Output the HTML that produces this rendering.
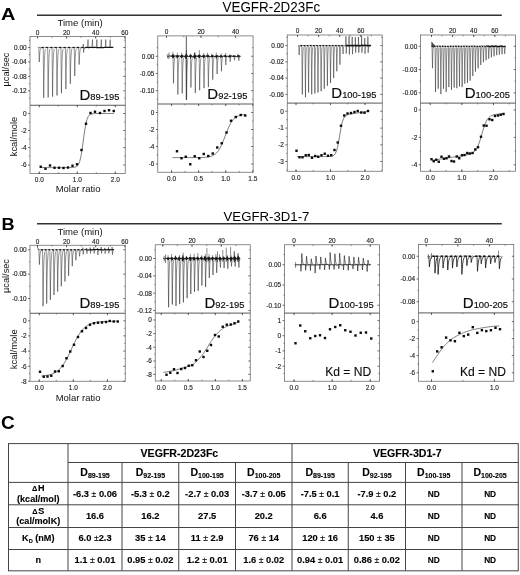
<!DOCTYPE html>
<html lang="en"><head><meta charset="utf-8"><title>ITC figure</title>
<style>html,body{margin:0;padding:0;background:#fff}svg{display:block;filter:blur(0.28px)}</style></head>
<body>
<svg width="520" height="575" viewBox="0 0 520 575" font-family='"Liberation Sans", Arial, sans-serif'>
<rect width="520" height="575" fill="#fff"/>
<text transform="translate(1 19.7) scale(1.16 1)" font-size="17.2" font-weight="bold" fill="#000">A</text>
<text transform="translate(1.5 229.5) scale(1.06 1)" font-size="17.2" font-weight="bold" fill="#000">B</text>
<text transform="translate(1 428.9) scale(1 1)" font-size="19" font-weight="bold" fill="#000">C</text>
<line x1="37" y1="15.3" x2="501.8" y2="15.3" stroke="#333" stroke-width="1.6"/>
<line x1="37" y1="223.8" x2="501.8" y2="223.8" stroke="#333" stroke-width="1.6"/>
<text x="271.3" y="12.15" font-size="13.9" text-anchor="middle" fill="#000" textLength="97.6" lengthAdjust="spacingAndGlyphs">VEGFR-2D23Fc</text>
<text x="266.5" y="220.55" font-size="13.7" text-anchor="middle" fill="#000" textLength="85.9" lengthAdjust="spacingAndGlyphs">VEGFR-3D1-7</text>
<text x="80.1" y="26.2" font-size="9.7" text-anchor="middle" fill="#111" textLength="45.2" lengthAdjust="spacingAndGlyphs">Time (min)</text>
<text x="80.1" y="235.1" font-size="9.7" text-anchor="middle" fill="#111" textLength="45.2" lengthAdjust="spacingAndGlyphs">Time (min)</text>
<text x="78.1" y="191.7" font-size="9.6" text-anchor="middle" fill="#111" textLength="44.8" lengthAdjust="spacingAndGlyphs">Molar ratio</text>
<text x="78.1" y="400.8" font-size="9.6" text-anchor="middle" fill="#111" textLength="44.8" lengthAdjust="spacingAndGlyphs">Molar ratio</text>
<text transform="translate(8.7 69.5) rotate(-90)" font-size="8.8" text-anchor="middle" textLength="33.9" lengthAdjust="spacingAndGlyphs" fill="#111">µcal/sec</text>
<text transform="translate(16.75 136.5) rotate(-90)" font-size="9.35" text-anchor="middle" fill="#111">kcal/mole</text>
<text transform="translate(8.7 276) rotate(-90)" font-size="8.8" text-anchor="middle" textLength="33.9" lengthAdjust="spacingAndGlyphs" fill="#111">µcal/sec</text>
<text transform="translate(16.75 349.3) rotate(-90)" font-size="9.5" text-anchor="middle" fill="#111">kcal/mole</text>
<g>
<polyline points="38.8,47.5 39.3,62 39.49,57.44 39.68,54.31 39.87,52.17 40.06,50.7 40.24,49.69 40.43,49 40.62,48.53 40.81,48.21 41,47.98" fill="none" stroke="#2b2b2b" stroke-width="0.5" stroke-linejoin="round"/>
<polyline points="43.23,47.5 43.73,97.9 43.92,82.04 44.11,71.18 44.3,63.73 44.49,58.62 44.67,55.12 44.86,52.72 45.05,51.08 45.24,49.95 45.43,49.18" fill="none" stroke="#2b2b2b" stroke-width="0.5" stroke-linejoin="round"/>
<polyline points="47.66,47.5 48.16,97.5 48.35,81.77 48.54,70.99 48.73,63.6 48.92,58.53 49.1,55.06 49.29,52.68 49.48,51.05 49.67,49.93 49.86,49.17" fill="none" stroke="#2b2b2b" stroke-width="0.5" stroke-linejoin="round"/>
<polyline points="52.09,47.5 52.59,96.6 52.78,81.15 52.97,70.56 53.16,63.31 53.35,58.33 53.53,54.93 53.72,52.59 53.91,50.99 54.1,49.89 54.29,49.14" fill="none" stroke="#2b2b2b" stroke-width="0.5" stroke-linejoin="round"/>
<polyline points="56.52,47.5 57.02,95.5 57.21,80.4 57.4,70.05 57.59,62.95 57.78,58.09 57.96,54.76 58.15,52.48 58.34,50.91 58.53,49.84 58.72,49.1" fill="none" stroke="#2b2b2b" stroke-width="0.5" stroke-linejoin="round"/>
<polyline points="60.95,47.5 61.45,93.2 61.64,78.82 61.83,68.97 62.02,62.21 62.21,57.58 62.39,54.41 62.58,52.24 62.77,50.75 62.96,49.73 63.15,49.03" fill="none" stroke="#2b2b2b" stroke-width="0.5" stroke-linejoin="round"/>
<polyline points="65.38,47.5 65.88,89 66.07,75.94 66.26,66.99 66.45,60.86 66.64,56.66 66.82,53.78 67.01,51.8 67.2,50.45 67.39,49.52 67.58,48.88" fill="none" stroke="#2b2b2b" stroke-width="0.5" stroke-linejoin="round"/>
<polyline points="69.81,47.5 70.31,83.8 70.5,72.38 70.69,64.55 70.88,59.19 71.07,55.51 71.25,52.99 71.44,51.26 71.63,50.08 71.82,49.27 72.01,48.71" fill="none" stroke="#2b2b2b" stroke-width="0.5" stroke-linejoin="round"/>
<polyline points="74.24,47.5 74.74,76 74.93,67.03 75.12,60.89 75.31,56.68 75.5,53.79 75.68,51.81 75.87,50.45 76.06,49.52 76.25,48.89 76.44,48.45" fill="none" stroke="#2b2b2b" stroke-width="0.5" stroke-linejoin="round"/>
<polyline points="78.67,47.5 79.17,64.5 79.36,59.15 79.55,55.49 79.74,52.97 79.93,51.25 80.11,50.07 80.3,49.26 80.49,48.71 80.68,48.33 80.87,48.07" fill="none" stroke="#2b2b2b" stroke-width="0.5" stroke-linejoin="round"/>
<polyline points="83.1,47.5 83.3,44 83.5,47.5 83.6,52.5 83.75,50.93 83.9,49.85 84.05,49.11 84.2,48.6 84.36,48.26 84.51,48.02 84.66,47.86 84.81,47.74 84.96,47.67" fill="none" stroke="#2b2b2b" stroke-width="0.5" stroke-linejoin="round"/>
<polyline points="87.53,47.5 88.03,39.6 88.11,42.09 88.2,43.79 88.28,44.96 88.36,45.76 88.45,46.31 88.53,46.68 88.61,46.94 88.69,47.12 88.78,47.24" fill="none" stroke="#2b2b2b" stroke-width="0.5" stroke-linejoin="round"/>
<polyline points="91.96,47.5 92.46,39.6 92.54,42.09 92.63,43.79 92.71,44.96 92.79,45.76 92.88,46.31 92.96,46.68 93.04,46.94 93.12,47.12 93.21,47.24" fill="none" stroke="#2b2b2b" stroke-width="0.5" stroke-linejoin="round"/>
<polyline points="96.39,47.5 96.89,39.6 96.97,42.09 97.06,43.79 97.14,44.96 97.22,45.76 97.31,46.31 97.39,46.68 97.47,46.94 97.55,47.12 97.64,47.24" fill="none" stroke="#2b2b2b" stroke-width="0.5" stroke-linejoin="round"/>
<polyline points="100.82,47.5 101.32,39.6 101.4,42.09 101.49,43.79 101.57,44.96 101.65,45.76 101.74,46.31 101.82,46.68 101.9,46.94 101.98,47.12 102.07,47.24" fill="none" stroke="#2b2b2b" stroke-width="0.5" stroke-linejoin="round"/>
<polyline points="105.25,47.5 105.75,39.6 105.83,42.09 105.92,43.79 106,44.96 106.08,45.76 106.17,46.31 106.25,46.68 106.33,46.94 106.41,47.12 106.5,47.24" fill="none" stroke="#2b2b2b" stroke-width="0.5" stroke-linejoin="round"/>
<polyline points="109.68,47.5 110.18,39.6 110.26,42.09 110.35,43.79 110.43,44.96 110.51,45.76 110.6,46.31 110.68,46.68 110.76,46.94 110.84,47.12 110.93,47.24" fill="none" stroke="#2b2b2b" stroke-width="0.5" stroke-linejoin="round"/>
<polyline points="37.8,47.35 38.5,47.42 39.2,47.63 39.9,47.37 40.6,47.53 41.3,47.56 42,47.45 42.7,47.52 43.4,47.33 44.1,47.32 44.8,47.38 45.5,47.57 46.2,47.47 46.9,47.43 47.6,47.53 48.3,47.48 49,47.42 49.7,47.62 50.4,47.58 51.1,47.4 51.8,47.53 52.5,47.51 53.2,47.65 53.9,47.59 54.6,47.42 55.3,47.69 56,47.35 56.7,47.47 57.4,47.6 58.1,47.36 58.8,47.5 59.5,47.32 60.2,47.57 60.9,47.61 61.6,47.53 62.3,47.65 63,47.43 63.7,47.58 64.4,47.54 65.1,47.53 65.8,47.48 66.5,47.64 67.2,47.68 67.9,47.49 68.6,47.57 69.3,47.32 70,47.58 70.7,47.56 71.4,47.7 72.1,47.63 72.8,47.41 73.5,47.45 74.2,47.57 74.9,47.31 75.6,47.48 76.3,47.37 77,47.35 77.7,47.32 78.4,47.61 79.1,47.35 79.8,47.4 80.5,47.46 81.2,47.65 81.9,47.33 82.6,47.48 83.3,47.52 84,47.65 84.7,47.63" fill="none" stroke="#222" stroke-width="0.55" stroke-linejoin="round"/>
<polyline points="84.7,47.63 85.4,47.65 86.1,47.41 86.8,47.47 87.5,47.44 88.2,47.65 88.9,47.68 89.6,47.36 90.3,47.37 91,47.39 91.7,47.39 92.4,47.49 93.1,47.54 93.8,47.41 94.5,47.3 95.2,47.47 95.9,47.45 96.6,47.53 97.3,47.68 98,47.58 98.7,47.51 99.4,47.55 100.1,47.57 100.8,47.32 101.5,47.66 102.2,47.61 102.9,47.65 103.6,47.62 104.3,47.46 105,47.46 105.7,47.34 106.4,47.55 107.1,47.32 107.8,47.33 108.5,47.38 109.2,47.36 109.9,47.44 110.6,47.32 111.3,47.3 112,47.36 112.7,47.34 113.4,47.45" fill="none" stroke="#151515" stroke-width="1.2" stroke-linejoin="round"/>
<line x1="41.43" y1="47.5" x2="43.43" y2="47.5" stroke="#111" stroke-width="1.25"/>
<line x1="45.86" y1="47.5" x2="47.86" y2="47.5" stroke="#111" stroke-width="1.25"/>
<line x1="50.29" y1="47.5" x2="52.29" y2="47.5" stroke="#111" stroke-width="1.25"/>
<line x1="54.72" y1="47.5" x2="56.72" y2="47.5" stroke="#111" stroke-width="1.25"/>
<line x1="59.15" y1="47.5" x2="61.15" y2="47.5" stroke="#111" stroke-width="1.25"/>
<line x1="63.58" y1="47.5" x2="65.58" y2="47.5" stroke="#111" stroke-width="1.25"/>
<line x1="68.01" y1="47.5" x2="70.01" y2="47.5" stroke="#111" stroke-width="1.25"/>
<line x1="72.44" y1="47.5" x2="74.44" y2="47.5" stroke="#111" stroke-width="1.25"/>
<line x1="76.87" y1="47.5" x2="78.87" y2="47.5" stroke="#111" stroke-width="1.25"/>
<line x1="81.3" y1="47.5" x2="83.3" y2="47.5" stroke="#111" stroke-width="1.25"/>
<polyline points="40.5,167.6 41.73,167.6 42.95,167.6 44.17,167.6 45.4,167.6 46.62,167.6 47.85,167.6 49.08,167.6 50.3,167.6 51.52,167.6 52.75,167.6 53.98,167.6 55.2,167.6 56.42,167.6 57.65,167.6 58.88,167.6 60.1,167.6 61.33,167.6 62.55,167.6 63.77,167.6 65,167.6 66.22,167.6 67.45,167.59 68.67,167.59 69.9,167.57 71.12,167.55 72.35,167.5 73.58,167.39 74.8,167.18 76.03,166.77 77.25,165.95 78.47,164.37 79.7,161.47 80.92,156.53 82.15,149.13 83.38,139.97 84.6,130.94 85.83,123.84 87.05,119.18 88.28,116.48 89.5,115.02 90.72,114.27 91.95,113.88 93.17,113.69 94.4,113.6 95.62,113.55 96.85,113.52 98.08,113.51 99.3,113.51 100.53,113.5 101.75,113.5 102.97,113.5 104.2,113.5 105.42,113.5 106.65,113.5 107.88,113.5 109.1,113.5 110.33,113.5 111.55,113.5 112.78,113.5 114,113.5" fill="none" stroke="#2e2e2e" stroke-width="0.62" stroke-linejoin="round"/>
<rect x="39.55" y="165.55" width="2.4" height="2.4" fill="#0a0a0a"/>
<rect x="44.3" y="167.55" width="2.4" height="2.4" fill="#0a0a0a"/>
<rect x="48.8" y="164.3" width="2.4" height="2.4" fill="#0a0a0a"/>
<rect x="53.3" y="166.55" width="2.4" height="2.4" fill="#0a0a0a"/>
<rect x="57.8" y="166.55" width="2.4" height="2.4" fill="#0a0a0a"/>
<rect x="62.3" y="166.8" width="2.4" height="2.4" fill="#0a0a0a"/>
<rect x="66.8" y="166.3" width="2.4" height="2.4" fill="#0a0a0a"/>
<rect x="71.3" y="164.55" width="2.4" height="2.4" fill="#0a0a0a"/>
<rect x="75.8" y="163.05" width="2.4" height="2.4" fill="#0a0a0a"/>
<rect x="80.3" y="148.8" width="2.4" height="2.4" fill="#0a0a0a"/>
<rect x="84.8" y="122.55" width="2.4" height="2.4" fill="#0a0a0a"/>
<rect x="89.3" y="111.8" width="2.4" height="2.4" fill="#0a0a0a"/>
<rect x="93.8" y="110.55" width="2.4" height="2.4" fill="#0a0a0a"/>
<rect x="98.8" y="111.8" width="2.4" height="2.4" fill="#0a0a0a"/>
<rect x="103.3" y="109.8" width="2.4" height="2.4" fill="#0a0a0a"/>
<rect x="107.8" y="109.05" width="2.4" height="2.4" fill="#0a0a0a"/>
<rect x="112.55" y="109.8" width="2.4" height="2.4" fill="#0a0a0a"/>
<rect x="30" y="36.6" width="95.25" height="136.9" fill="none" stroke="#6c6c6c" stroke-width="0.78"/>
<line x1="30" y1="105.25" x2="125.25" y2="105.25" stroke="#505050" stroke-width="0.95"/>
<text x="37.5" y="35" font-size="6.4" text-anchor="middle" fill="#1c1c1c" textLength="3.6" lengthAdjust="spacingAndGlyphs" stroke="#1c1c1c" stroke-width="0.13">0</text>
<line x1="37.5" y1="36.6" x2="37.5" y2="38.6" stroke="#444" stroke-width="0.8"/>
<text x="66.6" y="35" font-size="6.4" text-anchor="middle" fill="#1c1c1c" textLength="7.2" lengthAdjust="spacingAndGlyphs" stroke="#1c1c1c" stroke-width="0.13">20</text>
<line x1="66.6" y1="36.6" x2="66.6" y2="38.6" stroke="#444" stroke-width="0.8"/>
<text x="95.7" y="35" font-size="6.4" text-anchor="middle" fill="#1c1c1c" textLength="7.2" lengthAdjust="spacingAndGlyphs" stroke="#1c1c1c" stroke-width="0.13">40</text>
<line x1="95.7" y1="36.6" x2="95.7" y2="38.6" stroke="#444" stroke-width="0.8"/>
<text x="124.8" y="35" font-size="6.4" text-anchor="middle" fill="#1c1c1c" textLength="7.2" lengthAdjust="spacingAndGlyphs" stroke="#1c1c1c" stroke-width="0.13">60</text>
<line x1="124.8" y1="36.6" x2="124.8" y2="38.6" stroke="#444" stroke-width="0.8"/>
<line x1="37.5" y1="36.6" x2="37.5" y2="37.9" stroke="#444" stroke-width="0.6"/>
<line x1="52.05" y1="36.6" x2="52.05" y2="37.9" stroke="#444" stroke-width="0.6"/>
<line x1="66.6" y1="36.6" x2="66.6" y2="37.9" stroke="#444" stroke-width="0.6"/>
<line x1="81.15" y1="36.6" x2="81.15" y2="37.9" stroke="#444" stroke-width="0.6"/>
<line x1="95.7" y1="36.6" x2="95.7" y2="37.9" stroke="#444" stroke-width="0.6"/>
<line x1="110.25" y1="36.6" x2="110.25" y2="37.9" stroke="#444" stroke-width="0.6"/>
<text x="26.7" y="49.8" font-size="6.4" text-anchor="end" fill="#1c1c1c" textLength="12.6" lengthAdjust="spacingAndGlyphs" stroke="#1c1c1c" stroke-width="0.13">0.00</text>
<line x1="28.1" y1="47.5" x2="30" y2="47.5" stroke="#444" stroke-width="0.8"/>
<line x1="123.35" y1="47.5" x2="125.25" y2="47.5" stroke="#444" stroke-width="0.8"/>
<text x="26.7" y="64.25" font-size="6.4" text-anchor="end" fill="#1c1c1c" textLength="14.75" lengthAdjust="spacingAndGlyphs" stroke="#1c1c1c" stroke-width="0.13">-0.04</text>
<line x1="28.1" y1="61.95" x2="30" y2="61.95" stroke="#444" stroke-width="0.8"/>
<line x1="123.35" y1="61.95" x2="125.25" y2="61.95" stroke="#444" stroke-width="0.8"/>
<text x="26.7" y="78.7" font-size="6.4" text-anchor="end" fill="#1c1c1c" textLength="14.75" lengthAdjust="spacingAndGlyphs" stroke="#1c1c1c" stroke-width="0.13">-0.08</text>
<line x1="28.1" y1="76.4" x2="30" y2="76.4" stroke="#444" stroke-width="0.8"/>
<line x1="123.35" y1="76.4" x2="125.25" y2="76.4" stroke="#444" stroke-width="0.8"/>
<text x="26.7" y="93.15" font-size="6.4" text-anchor="end" fill="#1c1c1c" textLength="14.75" lengthAdjust="spacingAndGlyphs" stroke="#1c1c1c" stroke-width="0.13">-0.12</text>
<line x1="28.1" y1="90.85" x2="30" y2="90.85" stroke="#444" stroke-width="0.8"/>
<line x1="123.35" y1="90.85" x2="125.25" y2="90.85" stroke="#444" stroke-width="0.8"/>
<line x1="28.9" y1="40.27" x2="30" y2="40.27" stroke="#444" stroke-width="0.6"/>
<line x1="124.15" y1="40.27" x2="125.25" y2="40.27" stroke="#444" stroke-width="0.6"/>
<line x1="28.9" y1="54.73" x2="30" y2="54.73" stroke="#444" stroke-width="0.6"/>
<line x1="124.15" y1="54.73" x2="125.25" y2="54.73" stroke="#444" stroke-width="0.6"/>
<line x1="28.9" y1="69.17" x2="30" y2="69.17" stroke="#444" stroke-width="0.6"/>
<line x1="124.15" y1="69.17" x2="125.25" y2="69.17" stroke="#444" stroke-width="0.6"/>
<line x1="28.9" y1="83.62" x2="30" y2="83.62" stroke="#444" stroke-width="0.6"/>
<line x1="124.15" y1="83.62" x2="125.25" y2="83.62" stroke="#444" stroke-width="0.6"/>
<line x1="28.9" y1="98.07" x2="30" y2="98.07" stroke="#444" stroke-width="0.6"/>
<line x1="124.15" y1="98.07" x2="125.25" y2="98.07" stroke="#444" stroke-width="0.6"/>
<text x="39.3" y="182" font-size="6.4" text-anchor="middle" fill="#1c1c1c" textLength="9" lengthAdjust="spacingAndGlyphs" stroke="#1c1c1c" stroke-width="0.13">0.0</text>
<line x1="39.3" y1="171.5" x2="39.3" y2="173.8" stroke="#444" stroke-width="0.8"/>
<line x1="39.3" y1="105.25" x2="39.3" y2="107.25" stroke="#444" stroke-width="0.8"/>
<text x="77.3" y="182" font-size="6.4" text-anchor="middle" fill="#1c1c1c" textLength="9" lengthAdjust="spacingAndGlyphs" stroke="#1c1c1c" stroke-width="0.13">1.0</text>
<line x1="77.3" y1="171.5" x2="77.3" y2="173.8" stroke="#444" stroke-width="0.8"/>
<line x1="77.3" y1="105.25" x2="77.3" y2="107.25" stroke="#444" stroke-width="0.8"/>
<text x="115.3" y="182" font-size="6.4" text-anchor="middle" fill="#1c1c1c" textLength="9" lengthAdjust="spacingAndGlyphs" stroke="#1c1c1c" stroke-width="0.13">2.0</text>
<line x1="115.3" y1="171.5" x2="115.3" y2="173.8" stroke="#444" stroke-width="0.8"/>
<line x1="115.3" y1="105.25" x2="115.3" y2="107.25" stroke="#444" stroke-width="0.8"/>
<line x1="39.3" y1="172.2" x2="39.3" y2="173.5" stroke="#444" stroke-width="0.6"/>
<line x1="39.3" y1="105.25" x2="39.3" y2="106.55" stroke="#444" stroke-width="0.6"/>
<line x1="58.3" y1="172.2" x2="58.3" y2="173.5" stroke="#444" stroke-width="0.6"/>
<line x1="58.3" y1="105.25" x2="58.3" y2="106.55" stroke="#444" stroke-width="0.6"/>
<line x1="77.3" y1="172.2" x2="77.3" y2="173.5" stroke="#444" stroke-width="0.6"/>
<line x1="77.3" y1="105.25" x2="77.3" y2="106.55" stroke="#444" stroke-width="0.6"/>
<line x1="96.3" y1="172.2" x2="96.3" y2="173.5" stroke="#444" stroke-width="0.6"/>
<line x1="96.3" y1="105.25" x2="96.3" y2="106.55" stroke="#444" stroke-width="0.6"/>
<line x1="115.3" y1="172.2" x2="115.3" y2="173.5" stroke="#444" stroke-width="0.6"/>
<line x1="115.3" y1="105.25" x2="115.3" y2="106.55" stroke="#444" stroke-width="0.6"/>
<text x="26.7" y="115.8" font-size="6.4" text-anchor="end" fill="#1c1c1c" textLength="3.6" lengthAdjust="spacingAndGlyphs" stroke="#1c1c1c" stroke-width="0.13">0</text>
<line x1="28.1" y1="113.5" x2="30" y2="113.5" stroke="#444" stroke-width="0.8"/>
<line x1="123.35" y1="113.5" x2="125.25" y2="113.5" stroke="#444" stroke-width="0.8"/>
<text x="26.7" y="132.8" font-size="6.4" text-anchor="end" fill="#1c1c1c" textLength="5.75" lengthAdjust="spacingAndGlyphs" stroke="#1c1c1c" stroke-width="0.13">-2</text>
<line x1="28.1" y1="130.5" x2="30" y2="130.5" stroke="#444" stroke-width="0.8"/>
<line x1="123.35" y1="130.5" x2="125.25" y2="130.5" stroke="#444" stroke-width="0.8"/>
<text x="26.7" y="149.9" font-size="6.4" text-anchor="end" fill="#1c1c1c" textLength="5.75" lengthAdjust="spacingAndGlyphs" stroke="#1c1c1c" stroke-width="0.13">-4</text>
<line x1="28.1" y1="147.6" x2="30" y2="147.6" stroke="#444" stroke-width="0.8"/>
<line x1="123.35" y1="147.6" x2="125.25" y2="147.6" stroke="#444" stroke-width="0.8"/>
<text x="26.7" y="167.3" font-size="6.4" text-anchor="end" fill="#1c1c1c" textLength="5.75" lengthAdjust="spacingAndGlyphs" stroke="#1c1c1c" stroke-width="0.13">-6</text>
<line x1="28.1" y1="165" x2="30" y2="165" stroke="#444" stroke-width="0.8"/>
<line x1="123.35" y1="165" x2="125.25" y2="165" stroke="#444" stroke-width="0.8"/>
<line x1="28.9" y1="122" x2="30" y2="122" stroke="#444" stroke-width="0.6"/>
<line x1="124.15" y1="122" x2="125.25" y2="122" stroke="#444" stroke-width="0.6"/>
<line x1="28.9" y1="139" x2="30" y2="139" stroke="#444" stroke-width="0.6"/>
<line x1="124.15" y1="139" x2="125.25" y2="139" stroke="#444" stroke-width="0.6"/>
<line x1="28.9" y1="156" x2="30" y2="156" stroke="#444" stroke-width="0.6"/>
<line x1="124.15" y1="156" x2="125.25" y2="156" stroke="#444" stroke-width="0.6"/>
<text x="119.55" y="100.15" text-anchor="end" fill="#0c0c0c" stroke="#0c0c0c" stroke-width="0.15"><tspan font-size="15">D</tspan><tspan font-size="9.4">89-195</tspan></text>
</g>
<g>
<polyline points="173,56.25 173.5,83.3 173.67,74.79 173.84,68.96 174.01,64.96 174.18,62.22 174.35,60.34 174.52,59.05 174.69,58.17 174.86,57.57 175.03,57.15" fill="none" stroke="#2b2b2b" stroke-width="0.5" stroke-linejoin="round"/>
<polyline points="177.36,56.25 177.86,94.5 178.03,82.47 178.2,74.22 178.37,68.56 178.54,64.69 178.71,62.03 178.88,60.21 179.05,58.97 179.22,58.11 179.39,57.53" fill="none" stroke="#2b2b2b" stroke-width="0.5" stroke-linejoin="round"/>
<polyline points="181.72,56.25 182.22,93.5 182.39,81.78 182.56,73.75 182.73,68.24 182.9,64.47 183.07,61.88 183.24,60.11 183.41,58.9 183.58,58.06 183.75,57.49" fill="none" stroke="#2b2b2b" stroke-width="0.5" stroke-linejoin="round"/>
<polyline points="186.08,56.25 186.58,99.8 186.75,86.1 186.92,76.71 187.09,70.27 187.26,65.86 187.43,62.84 187.6,60.76 187.77,59.34 187.94,58.37 188.11,57.7" fill="none" stroke="#2b2b2b" stroke-width="0.5" stroke-linejoin="round"/>
<polyline points="190.44,56.25 190.94,87.5 191.11,77.67 191.28,70.93 191.45,66.31 191.62,63.15 191.79,60.98 191.96,59.49 192.13,58.47 192.3,57.77 192.47,57.29" fill="none" stroke="#2b2b2b" stroke-width="0.5" stroke-linejoin="round"/>
<polyline points="194.8,56.25 195.3,93 195.47,81.44 195.64,73.51 195.81,68.08 195.98,64.36 196.15,61.81 196.32,60.06 196.49,58.86 196.66,58.04 196.83,57.48" fill="none" stroke="#2b2b2b" stroke-width="0.5" stroke-linejoin="round"/>
<polyline points="199.16,56.25 199.66,90.3 199.83,79.59 200,72.24 200.17,67.21 200.34,63.76 200.51,61.4 200.68,59.78 200.85,58.67 201.02,57.91 201.19,57.39" fill="none" stroke="#2b2b2b" stroke-width="0.5" stroke-linejoin="round"/>
<polyline points="203.52,56.25 204.02,88.2 204.19,78.15 204.36,71.26 204.53,66.54 204.7,63.3 204.87,61.08 205.04,59.56 205.21,58.52 205.38,57.81 205.55,57.32" fill="none" stroke="#2b2b2b" stroke-width="0.5" stroke-linejoin="round"/>
<polyline points="207.88,56.25 208.38,87.1 208.55,77.39 208.72,70.74 208.89,66.18 209.06,63.06 209.23,60.92 209.4,59.45 209.57,58.44 209.74,57.75 209.91,57.28" fill="none" stroke="#2b2b2b" stroke-width="0.5" stroke-linejoin="round"/>
<polyline points="212.24,56.25 212.74,79.7 212.91,72.32 213.08,67.27 213.25,63.8 213.42,61.42 213.59,59.8 213.76,58.68 213.93,57.92 214.1,57.39 214.27,57.03" fill="none" stroke="#2b2b2b" stroke-width="0.5" stroke-linejoin="round"/>
<polyline points="216.6,56.25 217.1,74 217.27,68.42 217.44,64.59 217.61,61.96 217.78,60.17 217.95,58.93 218.12,58.09 218.29,57.51 218.46,57.11 218.63,56.84" fill="none" stroke="#2b2b2b" stroke-width="0.5" stroke-linejoin="round"/>
<polyline points="220.96,56.25 221.46,71.3 221.63,66.57 221.8,63.32 221.97,61.1 222.14,59.57 222.31,58.53 222.48,57.81 222.65,57.32 222.82,56.98 222.99,56.75" fill="none" stroke="#2b2b2b" stroke-width="0.5" stroke-linejoin="round"/>
<polyline points="225.32,56.25 225.82,64.9 225.99,62.18 226.16,60.31 226.33,59.03 226.5,58.16 226.67,57.56 226.84,57.15 227.01,56.86 227.18,56.67 227.35,56.54" fill="none" stroke="#2b2b2b" stroke-width="0.5" stroke-linejoin="round"/>
<polyline points="229.68,56.25 230.18,61.7 230.35,59.99 230.52,58.81 230.69,58 230.86,57.45 231.03,57.07 231.2,56.81 231.37,56.64 231.54,56.52 231.71,56.43" fill="none" stroke="#2b2b2b" stroke-width="0.5" stroke-linejoin="round"/>
<polyline points="234.04,56.25 234.54,60.2 234.71,58.96 234.88,58.11 235.05,57.52 235.22,57.12 235.39,56.85 235.56,56.66 235.73,56.53 235.9,56.44 236.07,56.38" fill="none" stroke="#2b2b2b" stroke-width="0.5" stroke-linejoin="round"/>
<polyline points="238.4,56.25 238.9,60.7 239.07,59.3 239.24,58.34 239.41,57.68 239.58,57.23 239.75,56.92 239.92,56.71 240.09,56.57 240.26,56.47 240.43,56.4" fill="none" stroke="#2b2b2b" stroke-width="0.5" stroke-linejoin="round"/>
<polyline points="167,55.82 167.7,56.59 168.4,56.35 169.1,55.93 169.8,56.03 170.5,56.11 171.2,56.13 171.9,55.91 172.6,56.56 173.3,56.69 174,56.22 174.7,56.24 175.4,55.88 176.1,55.89 176.8,56.11 177.5,56.04 178.2,56.55 178.9,55.95 179.6,55.82 180.3,56.66 181,56.28 181.7,55.93 182.4,56.29 183.1,55.82 183.8,56.28 184.5,56.68 185.2,56.58 185.9,56.43 186.6,56.04 187.3,56.13 188,55.95 188.7,56.49 189.4,56.28 190.1,56.5 190.8,56.1 191.5,56 192.2,56.53 192.9,56.69 193.6,56.57 194.3,56.53 195,56.54 195.7,56.47 196.4,56 197.1,56.27 197.8,56.12 198.5,55.83 199.2,55.83 199.9,56.05 200.6,56.03 201.3,56.42 202,56.66 202.7,56.2 203.4,56.64 204.1,56.69 204.8,56.66 205.5,56.13 206.2,56 206.9,56 207.6,55.98 208.3,55.98 209,56.36 209.7,56.61 210.4,56.56 211.1,56.23 211.8,56.39 212.5,56.52 213.2,55.88 213.9,56.39 214.6,56.62 215.3,56.5 216,56.48 216.7,56.23 217.4,55.96 218.1,56.51 218.8,56.1 219.5,56.52 220.2,56.67 220.9,56.16 221.6,56.16 222.3,56.65 223,56.45 223.7,55.95 224.4,55.91 225.1,55.94 225.8,56.61 226.5,56.53 227.2,55.93 227.9,56.54 228.6,56.68 229.3,56.39 230,56.12 230.7,56.29 231.4,55.92 232.1,55.81 232.8,56.67 233.5,56.38 234.2,56.27 234.9,56.64 235.6,56.19 236.3,56.58 237,56.54 237.7,55.99 238.4,56.03 239.1,56.06 239.8,56.02 240.5,56.33" fill="none" stroke="#151515" stroke-width="1" stroke-linejoin="round"/>
<polyline points="171.5,56.11 171.88,56.76 172.25,54.78 172.62,57.67 173,54.45 173.38,57.9 173.75,54.78 174.12,56.89 174.5,56.06" fill="none" stroke="#111" stroke-width="0.7" stroke-linejoin="round"/>
<line x1="172.95" y1="51.84" x2="172.95" y2="58.61" stroke="#1a1a1a" stroke-width="0.5"/>
<polyline points="175.86,56.14 176.24,56.68 176.61,55.63 176.99,57.76 177.36,55.09 177.74,57.49 178.11,55.18 178.49,56.82 178.86,56.14" fill="none" stroke="#111" stroke-width="0.7" stroke-linejoin="round"/>
<line x1="177.33" y1="52.65" x2="177.33" y2="58.6" stroke="#1a1a1a" stroke-width="0.5"/>
<polyline points="180.22,56.12 180.59,56.72 180.97,55.43 181.34,57.79 181.72,54.7 182.09,57.61 182.47,55.12 182.84,56.97 183.22,56.13" fill="none" stroke="#111" stroke-width="0.7" stroke-linejoin="round"/>
<line x1="181.77" y1="52.64" x2="181.77" y2="58.2" stroke="#1a1a1a" stroke-width="0.5"/>
<polyline points="184.58,56.08 184.96,57.06 185.33,54.91 185.71,58.63 186.08,53.79 186.46,58.55 186.83,54.49 187.21,56.92 187.58,56.07" fill="none" stroke="#111" stroke-width="0.7" stroke-linejoin="round"/>
<line x1="186.43" y1="49.96" x2="186.43" y2="58.04" stroke="#1a1a1a" stroke-width="0.5"/>
<polyline points="188.94,56.14 189.31,56.63 189.69,55.5 190.06,57.13 190.44,54.64 190.81,57.71 191.19,55.1 191.56,56.66 191.94,56.12" fill="none" stroke="#111" stroke-width="0.7" stroke-linejoin="round"/>
<line x1="190.53" y1="53.73" x2="190.53" y2="58.71" stroke="#1a1a1a" stroke-width="0.5"/>
<polyline points="193.3,56.1 193.68,57.35 194.05,54.9 194.43,58.19 194.8,53.19 195.18,58.64 195.55,55.13 195.93,57.06 196.3,56.06" fill="none" stroke="#111" stroke-width="0.7" stroke-linejoin="round"/>
<line x1="194.61" y1="52.04" x2="194.61" y2="58.64" stroke="#1a1a1a" stroke-width="0.5"/>
<polyline points="197.66,56.14 198.03,57 198.41,55.07 198.78,57.38 199.16,54.51 199.53,58.05 199.91,55.01 200.28,56.76 200.66,56.04" fill="none" stroke="#111" stroke-width="0.7" stroke-linejoin="round"/>
<line x1="199.37" y1="50.14" x2="199.37" y2="57.79" stroke="#1a1a1a" stroke-width="0.5"/>
<polyline points="202.02,56.17 202.4,56.87 202.77,55.49 203.15,57.16 203.52,54.9 203.9,57.79 204.27,55.17 204.65,56.69 205.02,56.16" fill="none" stroke="#111" stroke-width="0.7" stroke-linejoin="round"/>
<line x1="203.85" y1="52.76" x2="203.85" y2="58.36" stroke="#1a1a1a" stroke-width="0.5"/>
<polyline points="206.38,56.18 206.75,56.74 207.13,55.54 207.5,56.97 207.88,54.71 208.25,57.35 208.63,55.35 209,56.57 209.38,56.13" fill="none" stroke="#111" stroke-width="0.7" stroke-linejoin="round"/>
<line x1="207.44" y1="52.74" x2="207.44" y2="57.68" stroke="#1a1a1a" stroke-width="0.5"/>
<polyline points="210.74,56.14 211.12,56.89 211.49,55.53 211.87,57.12 212.24,54.86 212.62,57.21 212.99,55.62 213.37,56.64 213.74,56.17" fill="none" stroke="#111" stroke-width="0.7" stroke-linejoin="round"/>
<line x1="211.92" y1="53.49" x2="211.92" y2="57.65" stroke="#1a1a1a" stroke-width="0.5"/>
<polyline points="215.1,56.13 215.47,56.86 215.85,55.43 216.22,57.52 216.6,55.12 216.97,57.43 217.35,55.54 217.72,56.96 218.1,56.11" fill="none" stroke="#111" stroke-width="0.7" stroke-linejoin="round"/>
<line x1="216.27" y1="52.44" x2="216.27" y2="59.17" stroke="#1a1a1a" stroke-width="0.5"/>
<polyline points="219.46,56.15 219.84,56.62 220.21,55.6 220.59,57.33 220.96,55.28 221.34,57.14 221.71,55.51 222.09,56.76 222.46,56.17" fill="none" stroke="#111" stroke-width="0.7" stroke-linejoin="round"/>
<line x1="221.21" y1="53.45" x2="221.21" y2="57.72" stroke="#1a1a1a" stroke-width="0.5"/>
<polyline points="223.82,56.16 224.19,56.57 224.57,55.67 224.94,56.99 225.32,54.83 225.69,57.12 226.07,55.66 226.44,56.57 226.82,56.13" fill="none" stroke="#111" stroke-width="0.7" stroke-linejoin="round"/>
<line x1="225.6" y1="53.05" x2="225.6" y2="57.47" stroke="#1a1a1a" stroke-width="0.5"/>
<polyline points="228.18,56.18 228.56,56.62 228.93,55.75 229.31,57.1 229.68,55.38 230.06,57.4 230.43,55.4 230.81,56.64 231.18,56.18" fill="none" stroke="#111" stroke-width="0.7" stroke-linejoin="round"/>
<line x1="230.05" y1="54.16" x2="230.05" y2="57.37" stroke="#1a1a1a" stroke-width="0.5"/>
<polyline points="232.54,56.19 232.92,56.54 233.29,55.74 233.67,56.8 234.04,55.44 234.42,56.71 234.79,55.82 235.17,56.47 235.54,56.19" fill="none" stroke="#111" stroke-width="0.7" stroke-linejoin="round"/>
<line x1="233.58" y1="55.01" x2="233.58" y2="57.07" stroke="#1a1a1a" stroke-width="0.5"/>
<polyline points="236.9,56.17 237.28,56.59 237.65,55.59 238.03,57.1 238.4,55.21 238.78,57.21 239.15,55.72 239.53,56.54 239.9,56.15" fill="none" stroke="#111" stroke-width="0.7" stroke-linejoin="round"/>
<line x1="238.03" y1="53.8" x2="238.03" y2="57.54" stroke="#1a1a1a" stroke-width="0.5"/>
<line x1="186.3" y1="36.2" x2="186.3" y2="99.8" stroke="#2b2b2b" stroke-width="0.8"/>
<line x1="169" y1="52.5" x2="169" y2="59" stroke="#2b2b2b" stroke-width="0.6"/>
<line x1="167.8" y1="54" x2="167.8" y2="58.5" stroke="#2b2b2b" stroke-width="0.6"/>
<polyline points="172.5,157.6 173.72,157.6 174.93,157.6 176.15,157.6 177.37,157.6 178.58,157.6 179.8,157.6 181.02,157.6 182.23,157.6 183.45,157.6 184.67,157.6 185.88,157.6 187.1,157.6 188.32,157.59 189.53,157.59 190.75,157.59 191.97,157.59 193.18,157.58 194.4,157.58 195.62,157.57 196.83,157.56 198.05,157.54 199.27,157.52 200.48,157.5 201.7,157.46 202.92,157.41 204.13,157.35 205.35,157.26 206.57,157.14 207.78,156.99 209,156.78 210.22,156.51 211.43,156.14 212.65,155.66 213.87,155.03 215.08,154.22 216.3,153.17 217.52,151.84 218.73,150.19 219.95,148.18 221.17,145.82 222.38,143.11 223.6,140.12 224.82,136.96 226.03,133.76 227.25,130.65 228.47,127.75 229.68,125.17 230.9,122.93 232.12,121.06 233.33,119.54 234.55,118.32 235.77,117.36 236.98,116.61 238.2,116.04 239.42,115.61 240.63,115.28 241.85,115.03 243.07,114.85 244.28,114.71 245.5,114.6" fill="none" stroke="#2e2e2e" stroke-width="0.62" stroke-linejoin="round"/>
<rect x="175.8" y="150.05" width="2.4" height="2.4" fill="#0a0a0a"/>
<rect x="180.3" y="157.05" width="2.4" height="2.4" fill="#0a0a0a"/>
<rect x="184.55" y="155.55" width="2.4" height="2.4" fill="#0a0a0a"/>
<rect x="189.05" y="163.05" width="2.4" height="2.4" fill="#0a0a0a"/>
<rect x="193.55" y="155.05" width="2.4" height="2.4" fill="#0a0a0a"/>
<rect x="198.05" y="157.05" width="2.4" height="2.4" fill="#0a0a0a"/>
<rect x="202.55" y="152.8" width="2.4" height="2.4" fill="#0a0a0a"/>
<rect x="207.05" y="154.8" width="2.4" height="2.4" fill="#0a0a0a"/>
<rect x="211.55" y="152.3" width="2.4" height="2.4" fill="#0a0a0a"/>
<rect x="216.05" y="146.3" width="2.4" height="2.4" fill="#0a0a0a"/>
<rect x="220.55" y="142.05" width="2.4" height="2.4" fill="#0a0a0a"/>
<rect x="225.3" y="131.3" width="2.4" height="2.4" fill="#0a0a0a"/>
<rect x="229.8" y="119.55" width="2.4" height="2.4" fill="#0a0a0a"/>
<rect x="234.55" y="115.8" width="2.4" height="2.4" fill="#0a0a0a"/>
<rect x="239.55" y="113.8" width="2.4" height="2.4" fill="#0a0a0a"/>
<rect x="244.05" y="114.3" width="2.4" height="2.4" fill="#0a0a0a"/>
<rect x="157.75" y="35.9" width="95.35" height="136.35" fill="none" stroke="#6c6c6c" stroke-width="0.78"/>
<line x1="157.75" y1="104" x2="253.1" y2="104" stroke="#505050" stroke-width="0.95"/>
<text x="166.5" y="34.3" font-size="6.4" text-anchor="middle" fill="#1c1c1c" textLength="3.6" lengthAdjust="spacingAndGlyphs" stroke="#1c1c1c" stroke-width="0.13">0</text>
<line x1="166.5" y1="35.9" x2="166.5" y2="37.9" stroke="#444" stroke-width="0.8"/>
<text x="201" y="34.3" font-size="6.4" text-anchor="middle" fill="#1c1c1c" textLength="7.2" lengthAdjust="spacingAndGlyphs" stroke="#1c1c1c" stroke-width="0.13">20</text>
<line x1="201" y1="35.9" x2="201" y2="37.9" stroke="#444" stroke-width="0.8"/>
<text x="235.5" y="34.3" font-size="6.4" text-anchor="middle" fill="#1c1c1c" textLength="7.2" lengthAdjust="spacingAndGlyphs" stroke="#1c1c1c" stroke-width="0.13">40</text>
<line x1="235.5" y1="35.9" x2="235.5" y2="37.9" stroke="#444" stroke-width="0.8"/>
<line x1="166.5" y1="35.9" x2="166.5" y2="37.2" stroke="#444" stroke-width="0.6"/>
<line x1="183.75" y1="35.9" x2="183.75" y2="37.2" stroke="#444" stroke-width="0.6"/>
<line x1="201" y1="35.9" x2="201" y2="37.2" stroke="#444" stroke-width="0.6"/>
<line x1="218.25" y1="35.9" x2="218.25" y2="37.2" stroke="#444" stroke-width="0.6"/>
<line x1="235.5" y1="35.9" x2="235.5" y2="37.2" stroke="#444" stroke-width="0.6"/>
<text x="154.45" y="58.55" font-size="6.4" text-anchor="end" fill="#1c1c1c" textLength="12.6" lengthAdjust="spacingAndGlyphs" stroke="#1c1c1c" stroke-width="0.13">0.00</text>
<line x1="155.85" y1="56.25" x2="157.75" y2="56.25" stroke="#444" stroke-width="0.8"/>
<line x1="251.2" y1="56.25" x2="253.1" y2="56.25" stroke="#444" stroke-width="0.8"/>
<text x="154.45" y="75.75" font-size="6.4" text-anchor="end" fill="#1c1c1c" textLength="14.75" lengthAdjust="spacingAndGlyphs" stroke="#1c1c1c" stroke-width="0.13">-0.05</text>
<line x1="155.85" y1="73.45" x2="157.75" y2="73.45" stroke="#444" stroke-width="0.8"/>
<line x1="251.2" y1="73.45" x2="253.1" y2="73.45" stroke="#444" stroke-width="0.8"/>
<text x="154.45" y="92.95" font-size="6.4" text-anchor="end" fill="#1c1c1c" textLength="14.75" lengthAdjust="spacingAndGlyphs" stroke="#1c1c1c" stroke-width="0.13">-0.10</text>
<line x1="155.85" y1="90.65" x2="157.75" y2="90.65" stroke="#444" stroke-width="0.8"/>
<line x1="251.2" y1="90.65" x2="253.1" y2="90.65" stroke="#444" stroke-width="0.8"/>
<line x1="156.65" y1="47.65" x2="157.75" y2="47.65" stroke="#444" stroke-width="0.6"/>
<line x1="252" y1="47.65" x2="253.1" y2="47.65" stroke="#444" stroke-width="0.6"/>
<line x1="156.65" y1="64.85" x2="157.75" y2="64.85" stroke="#444" stroke-width="0.6"/>
<line x1="252" y1="64.85" x2="253.1" y2="64.85" stroke="#444" stroke-width="0.6"/>
<line x1="156.65" y1="82.05" x2="157.75" y2="82.05" stroke="#444" stroke-width="0.6"/>
<line x1="252" y1="82.05" x2="253.1" y2="82.05" stroke="#444" stroke-width="0.6"/>
<line x1="156.65" y1="99.25" x2="157.75" y2="99.25" stroke="#444" stroke-width="0.6"/>
<line x1="252" y1="99.25" x2="253.1" y2="99.25" stroke="#444" stroke-width="0.6"/>
<text x="171.5" y="180.75" font-size="6.4" text-anchor="middle" fill="#1c1c1c" textLength="9" lengthAdjust="spacingAndGlyphs" stroke="#1c1c1c" stroke-width="0.13">0.0</text>
<line x1="171.5" y1="170.25" x2="171.5" y2="172.55" stroke="#444" stroke-width="0.8"/>
<line x1="171.5" y1="104" x2="171.5" y2="106" stroke="#444" stroke-width="0.8"/>
<text x="198.6" y="180.75" font-size="6.4" text-anchor="middle" fill="#1c1c1c" textLength="9" lengthAdjust="spacingAndGlyphs" stroke="#1c1c1c" stroke-width="0.13">0.5</text>
<line x1="198.6" y1="170.25" x2="198.6" y2="172.55" stroke="#444" stroke-width="0.8"/>
<line x1="198.6" y1="104" x2="198.6" y2="106" stroke="#444" stroke-width="0.8"/>
<text x="225.7" y="180.75" font-size="6.4" text-anchor="middle" fill="#1c1c1c" textLength="9" lengthAdjust="spacingAndGlyphs" stroke="#1c1c1c" stroke-width="0.13">1.0</text>
<line x1="225.7" y1="170.25" x2="225.7" y2="172.55" stroke="#444" stroke-width="0.8"/>
<line x1="225.7" y1="104" x2="225.7" y2="106" stroke="#444" stroke-width="0.8"/>
<text x="252.8" y="180.75" font-size="6.4" text-anchor="middle" fill="#1c1c1c" textLength="9" lengthAdjust="spacingAndGlyphs" stroke="#1c1c1c" stroke-width="0.13">1.5</text>
<line x1="252.8" y1="170.25" x2="252.8" y2="172.55" stroke="#444" stroke-width="0.8"/>
<line x1="252.8" y1="104" x2="252.8" y2="106" stroke="#444" stroke-width="0.8"/>
<line x1="171.5" y1="170.95" x2="171.5" y2="172.25" stroke="#444" stroke-width="0.6"/>
<line x1="171.5" y1="104" x2="171.5" y2="105.3" stroke="#444" stroke-width="0.6"/>
<line x1="185.05" y1="170.95" x2="185.05" y2="172.25" stroke="#444" stroke-width="0.6"/>
<line x1="185.05" y1="104" x2="185.05" y2="105.3" stroke="#444" stroke-width="0.6"/>
<line x1="198.6" y1="170.95" x2="198.6" y2="172.25" stroke="#444" stroke-width="0.6"/>
<line x1="198.6" y1="104" x2="198.6" y2="105.3" stroke="#444" stroke-width="0.6"/>
<line x1="212.15" y1="170.95" x2="212.15" y2="172.25" stroke="#444" stroke-width="0.6"/>
<line x1="212.15" y1="104" x2="212.15" y2="105.3" stroke="#444" stroke-width="0.6"/>
<line x1="225.7" y1="170.95" x2="225.7" y2="172.25" stroke="#444" stroke-width="0.6"/>
<line x1="225.7" y1="104" x2="225.7" y2="105.3" stroke="#444" stroke-width="0.6"/>
<line x1="239.25" y1="170.95" x2="239.25" y2="172.25" stroke="#444" stroke-width="0.6"/>
<line x1="239.25" y1="104" x2="239.25" y2="105.3" stroke="#444" stroke-width="0.6"/>
<text x="154.45" y="114.8" font-size="6.4" text-anchor="end" fill="#1c1c1c" textLength="3.6" lengthAdjust="spacingAndGlyphs" stroke="#1c1c1c" stroke-width="0.13">0</text>
<line x1="155.85" y1="112.5" x2="157.75" y2="112.5" stroke="#444" stroke-width="0.8"/>
<line x1="251.2" y1="112.5" x2="253.1" y2="112.5" stroke="#444" stroke-width="0.8"/>
<text x="154.45" y="131.8" font-size="6.4" text-anchor="end" fill="#1c1c1c" textLength="5.75" lengthAdjust="spacingAndGlyphs" stroke="#1c1c1c" stroke-width="0.13">-2</text>
<line x1="155.85" y1="129.5" x2="157.75" y2="129.5" stroke="#444" stroke-width="0.8"/>
<line x1="251.2" y1="129.5" x2="253.1" y2="129.5" stroke="#444" stroke-width="0.8"/>
<text x="154.45" y="148.8" font-size="6.4" text-anchor="end" fill="#1c1c1c" textLength="5.75" lengthAdjust="spacingAndGlyphs" stroke="#1c1c1c" stroke-width="0.13">-4</text>
<line x1="155.85" y1="146.5" x2="157.75" y2="146.5" stroke="#444" stroke-width="0.8"/>
<line x1="251.2" y1="146.5" x2="253.1" y2="146.5" stroke="#444" stroke-width="0.8"/>
<text x="154.45" y="166.3" font-size="6.4" text-anchor="end" fill="#1c1c1c" textLength="5.75" lengthAdjust="spacingAndGlyphs" stroke="#1c1c1c" stroke-width="0.13">-6</text>
<line x1="155.85" y1="164" x2="157.75" y2="164" stroke="#444" stroke-width="0.8"/>
<line x1="251.2" y1="164" x2="253.1" y2="164" stroke="#444" stroke-width="0.8"/>
<line x1="156.65" y1="121" x2="157.75" y2="121" stroke="#444" stroke-width="0.6"/>
<line x1="252" y1="121" x2="253.1" y2="121" stroke="#444" stroke-width="0.6"/>
<line x1="156.65" y1="138" x2="157.75" y2="138" stroke="#444" stroke-width="0.6"/>
<line x1="252" y1="138" x2="253.1" y2="138" stroke="#444" stroke-width="0.6"/>
<line x1="156.65" y1="155" x2="157.75" y2="155" stroke="#444" stroke-width="0.6"/>
<line x1="252" y1="155" x2="253.1" y2="155" stroke="#444" stroke-width="0.6"/>
<text x="247.4" y="98.9" text-anchor="end" fill="#0c0c0c" stroke="#0c0c0c" stroke-width="0.15"><tspan font-size="15">D</tspan><tspan font-size="9.4">92-195</tspan></text>
</g>
<g>
<polyline points="298.7,45.6 299.2,55 299.31,52.04 299.43,50.02 299.54,48.63 299.65,47.67 299.77,47.02 299.88,46.57 299.99,46.27 300.11,46.06 300.22,45.91" fill="none" stroke="#2b2b2b" stroke-width="0.52" stroke-linejoin="round"/>
<polyline points="301.83,45.6 302.33,94.4 302.45,79.05 302.56,68.52 302.67,61.31 302.79,56.37 302.9,52.98 303.01,50.66 303.13,49.07 303.24,47.98 303.35,47.23" fill="none" stroke="#2b2b2b" stroke-width="0.52" stroke-linejoin="round"/>
<polyline points="304.97,45.6 305.47,97.3 305.58,81.03 305.7,69.89 305.81,62.25 305.92,57.01 306.04,53.42 306.15,50.96 306.26,49.27 306.38,48.12 306.49,47.33" fill="none" stroke="#2b2b2b" stroke-width="0.52" stroke-linejoin="round"/>
<polyline points="308.1,45.6 308.6,92.5 308.72,77.74 308.83,67.63 308.94,60.7 309.06,55.95 309.17,52.69 309.28,50.46 309.4,48.93 309.51,47.88 309.62,47.17" fill="none" stroke="#2b2b2b" stroke-width="0.52" stroke-linejoin="round"/>
<polyline points="311.24,45.6 311.74,94.4 311.85,79.05 311.97,68.52 312.08,61.31 312.19,56.37 312.31,52.98 312.42,50.66 312.53,49.07 312.65,47.98 312.76,47.23" fill="none" stroke="#2b2b2b" stroke-width="0.52" stroke-linejoin="round"/>
<polyline points="314.38,45.6 314.88,93.5 314.99,78.43 315.1,68.1 315.21,61.02 315.33,56.17 315.44,52.84 315.56,50.57 315.67,49 315.78,47.93 315.89,47.2" fill="none" stroke="#2b2b2b" stroke-width="0.52" stroke-linejoin="round"/>
<polyline points="317.51,45.6 318.01,92.5 318.12,77.74 318.24,67.63 318.35,60.7 318.46,55.95 318.58,52.69 318.69,50.46 318.8,48.93 318.92,47.88 319.03,47.17" fill="none" stroke="#2b2b2b" stroke-width="0.52" stroke-linejoin="round"/>
<polyline points="320.64,45.6 321.14,91.2 321.26,76.85 321.37,67.02 321.48,60.28 321.6,55.66 321.71,52.5 321.82,50.33 321.94,48.84 322.05,47.82 322.16,47.12" fill="none" stroke="#2b2b2b" stroke-width="0.52" stroke-linejoin="round"/>
<polyline points="323.78,45.6 324.28,88.7 324.39,75.14 324.51,65.85 324.62,59.48 324.73,55.11 324.85,52.12 324.96,50.07 325.07,48.66 325.19,47.7 325.3,47.04" fill="none" stroke="#2b2b2b" stroke-width="0.52" stroke-linejoin="round"/>
<polyline points="326.91,45.6 327.41,85.8 327.53,73.15 327.64,64.48 327.75,58.54 327.87,54.47 327.98,51.68 328.09,49.77 328.21,48.46 328.32,47.56 328.43,46.94" fill="none" stroke="#2b2b2b" stroke-width="0.52" stroke-linejoin="round"/>
<polyline points="330.05,45.6 330.55,82.9 330.66,71.16 330.78,63.12 330.89,57.61 331,53.83 331.12,51.24 331.23,49.47 331.34,48.25 331.46,47.42 331.57,46.84" fill="none" stroke="#2b2b2b" stroke-width="0.52" stroke-linejoin="round"/>
<polyline points="333.19,45.6 333.69,78.1 333.8,67.87 333.91,60.87 334.02,56.06 334.14,52.77 334.25,50.52 334.37,48.97 334.48,47.91 334.59,47.18 334.7,46.68" fill="none" stroke="#2b2b2b" stroke-width="0.52" stroke-linejoin="round"/>
<polyline points="336.32,45.6 336.82,71.3 336.93,63.21 337.05,57.67 337.16,53.87 337.27,51.27 337.39,49.49 337.5,48.26 337.61,47.43 337.73,46.85 337.84,46.46" fill="none" stroke="#2b2b2b" stroke-width="0.52" stroke-linejoin="round"/>
<polyline points="339.45,45.6 339.95,64.6 340.07,58.62 340.18,54.53 340.29,51.72 340.41,49.79 340.52,48.47 340.63,47.57 340.75,46.95 340.86,46.53 340.97,46.23" fill="none" stroke="#2b2b2b" stroke-width="0.52" stroke-linejoin="round"/>
<polyline points="342.59,45.6 343.09,54 343.2,51.36 343.32,49.55 343.43,48.3 343.54,47.45 343.66,46.87 343.77,46.47 343.88,46.2 344,46.01 344.11,45.88" fill="none" stroke="#2b2b2b" stroke-width="0.52" stroke-linejoin="round"/>
<polyline points="345.72,45.6 345.92,36.36 346.12,45.6 346.22,53.47 346.34,50.99 346.45,49.3 346.56,48.13 346.68,47.34 346.79,46.79 346.9,46.42 347.02,46.16 347.13,45.98 347.24,45.86" fill="none" stroke="#2b2b2b" stroke-width="0.52" stroke-linejoin="round"/>
<polyline points="348.86,45.6 349.06,36.17 349.26,45.6 349.36,54.45 349.47,51.67 349.59,49.76 349.7,48.45 349.81,47.55 349.93,46.94 350.04,46.52 350.15,46.23 350.27,46.03 350.38,45.9" fill="none" stroke="#2b2b2b" stroke-width="0.52" stroke-linejoin="round"/>
<polyline points="352,45.6 352.19,36.88 352.39,45.6 352.5,54.11 352.61,51.43 352.72,49.6 352.83,48.34 352.95,47.48 353.06,46.89 353.18,46.48 353.29,46.2 353.4,46.01 353.51,45.88" fill="none" stroke="#2b2b2b" stroke-width="0.52" stroke-linejoin="round"/>
<polyline points="355.13,45.6 355.33,37.22 355.53,45.6 355.63,52.67 355.74,50.45 355.86,48.92 355.97,47.88 356.08,47.16 356.2,46.67 356.31,46.33 356.42,46.1 356.54,45.94 356.65,45.84" fill="none" stroke="#2b2b2b" stroke-width="0.52" stroke-linejoin="round"/>
<polyline points="358.26,45.6 358.46,37.04 358.66,45.6 358.76,52.61 358.88,50.41 358.99,48.89 359.1,47.86 359.22,47.15 359.33,46.66 359.44,46.33 359.56,46.1 359.67,45.94 359.78,45.83" fill="none" stroke="#2b2b2b" stroke-width="0.52" stroke-linejoin="round"/>
<polyline points="361.4,45.6 361.6,36.22 361.8,45.6 361.9,52.71 362.01,50.47 362.13,48.94 362.24,47.89 362.35,47.17 362.47,46.68 362.58,46.34 362.69,46.11 362.81,45.95 362.92,45.84" fill="none" stroke="#2b2b2b" stroke-width="0.52" stroke-linejoin="round"/>
<polyline points="364.53,45.6 364.73,37.98 364.93,45.6 365.03,53.77 365.15,51.2 365.26,49.44 365.37,48.23 365.49,47.4 365.6,46.84 365.71,46.45 365.83,46.18 365.94,46 366.05,45.87" fill="none" stroke="#2b2b2b" stroke-width="0.52" stroke-linejoin="round"/>
<polyline points="367.67,45.6 367.87,36.54 368.07,45.6 368.17,52.87 368.28,50.58 368.4,49.02 368.51,47.94 368.62,47.2 368.74,46.7 368.85,46.35 368.96,46.12 369.08,45.95 369.19,45.84" fill="none" stroke="#2b2b2b" stroke-width="0.52" stroke-linejoin="round"/>
<polyline points="298,45.33 298.7,45.8 299.4,45.84 300.1,45.68 300.8,45.74 301.5,45.79 302.2,45.38 302.9,45.61 303.6,45.6 304.3,45.8 305,45.78 305.7,45.8 306.4,45.65 307.1,45.84 307.8,45.71 308.5,45.72 309.2,45.44 309.9,45.32 310.6,45.38 311.3,45.52 312,45.36 312.7,45.8 313.4,45.64 314.1,45.68 314.8,45.68 315.5,45.71 316.2,45.59 316.9,45.3 317.6,45.78 318.3,45.75 319,45.6 319.7,45.62 320.4,45.7 321.1,45.34 321.8,45.74 322.5,45.45 323.2,45.34 323.9,45.46 324.6,45.74 325.3,45.42 326,45.74 326.7,45.89 327.4,45.6 328.1,45.53 328.8,45.59 329.5,45.71 330.2,45.76 330.9,45.67 331.6,45.69 332.3,45.35 333,45.39 333.7,45.45 334.4,45.75 335.1,45.48 335.8,45.64 336.5,45.31 337.2,45.34 337.9,45.46 338.6,45.7 339.3,45.72 340,45.71 340.7,45.47 341.4,45.61 342.1,45.58 342.8,45.58 343.5,45.37 344.2,45.84 344.9,45.42 345.6,45.89" fill="none" stroke="#222" stroke-width="0.55" stroke-linejoin="round"/>
<polyline points="345.6,45.89 346.3,45.86 347,45.31 347.7,45.58 348.4,45.79 349.1,45.88 349.8,45.57 350.5,45.46 351.2,45.43 351.9,45.87 352.6,45.43 353.3,45.65 354,45.39 354.7,45.61 355.4,45.87 356.1,45.38 356.8,45.79 357.5,45.61 358.2,45.83 358.9,45.72 359.6,45.44 360.3,45.84 361,45.59 361.7,45.31 362.4,45.3 363.1,45.6 363.8,45.57 364.5,45.48 365.2,45.38 365.9,45.51 366.6,45.49 367.3,45.8 368,45.3 368.7,45.75 369.4,45.8 370.1,45.37 370.8,45.86" fill="none" stroke="#151515" stroke-width="1.6" stroke-linejoin="round"/>
<line x1="300.53" y1="45.6" x2="302.03" y2="45.6" stroke="#111" stroke-width="1.25"/>
<line x1="303.67" y1="45.6" x2="305.17" y2="45.6" stroke="#111" stroke-width="1.25"/>
<line x1="306.8" y1="45.6" x2="308.3" y2="45.6" stroke="#111" stroke-width="1.25"/>
<line x1="309.94" y1="45.6" x2="311.44" y2="45.6" stroke="#111" stroke-width="1.25"/>
<line x1="313.07" y1="45.6" x2="314.57" y2="45.6" stroke="#111" stroke-width="1.25"/>
<line x1="316.21" y1="45.6" x2="317.71" y2="45.6" stroke="#111" stroke-width="1.25"/>
<line x1="319.34" y1="45.6" x2="320.84" y2="45.6" stroke="#111" stroke-width="1.25"/>
<line x1="322.48" y1="45.6" x2="323.98" y2="45.6" stroke="#111" stroke-width="1.25"/>
<line x1="325.61" y1="45.6" x2="327.11" y2="45.6" stroke="#111" stroke-width="1.25"/>
<line x1="328.75" y1="45.6" x2="330.25" y2="45.6" stroke="#111" stroke-width="1.25"/>
<line x1="331.88" y1="45.6" x2="333.38" y2="45.6" stroke="#111" stroke-width="1.25"/>
<line x1="335.02" y1="45.6" x2="336.52" y2="45.6" stroke="#111" stroke-width="1.25"/>
<line x1="338.15" y1="45.6" x2="339.65" y2="45.6" stroke="#111" stroke-width="1.25"/>
<line x1="341.29" y1="45.6" x2="342.79" y2="45.6" stroke="#111" stroke-width="1.25"/>
<polyline points="297,156.6 298.19,156.6 299.38,156.6 300.57,156.6 301.77,156.6 302.96,156.6 304.15,156.6 305.34,156.6 306.53,156.6 307.73,156.6 308.92,156.6 310.11,156.6 311.3,156.6 312.49,156.6 313.68,156.6 314.88,156.6 316.07,156.6 317.26,156.6 318.45,156.6 319.64,156.6 320.83,156.6 322.02,156.6 323.22,156.6 324.41,156.59 325.6,156.59 326.79,156.58 327.98,156.56 329.18,156.51 330.37,156.43 331.56,156.25 332.75,155.9 333.94,155.2 335.13,153.87 336.32,151.43 337.52,147.33 338.71,141.35 339.9,134.19 341.09,127.39 342.28,122.17 343.48,118.77 344.67,116.76 345.86,115.6 347.05,114.92 348.24,114.5 349.43,114.2 350.62,113.97 351.82,113.77 353.01,113.58 354.2,113.41 355.39,113.24 356.58,113.07 357.77,112.9 358.97,112.74 360.16,112.57 361.35,112.4 362.54,112.23 363.73,112.07 364.93,111.9 366.12,111.73 367.31,111.57 368.5,111.4" fill="none" stroke="#2e2e2e" stroke-width="0.62" stroke-linejoin="round"/>
<rect x="295.3" y="149.55" width="2.4" height="2.4" fill="#0a0a0a"/>
<rect x="298.3" y="156.05" width="2.4" height="2.4" fill="#0a0a0a"/>
<rect x="301.3" y="156.05" width="2.4" height="2.4" fill="#0a0a0a"/>
<rect x="304.55" y="154.05" width="2.4" height="2.4" fill="#0a0a0a"/>
<rect x="307.55" y="153.8" width="2.4" height="2.4" fill="#0a0a0a"/>
<rect x="310.8" y="156.55" width="2.4" height="2.4" fill="#0a0a0a"/>
<rect x="314.05" y="154.8" width="2.4" height="2.4" fill="#0a0a0a"/>
<rect x="317.05" y="155.55" width="2.4" height="2.4" fill="#0a0a0a"/>
<rect x="320.3" y="154.05" width="2.4" height="2.4" fill="#0a0a0a"/>
<rect x="323.55" y="152.55" width="2.4" height="2.4" fill="#0a0a0a"/>
<rect x="326.8" y="154.55" width="2.4" height="2.4" fill="#0a0a0a"/>
<rect x="330.05" y="154.05" width="2.4" height="2.4" fill="#0a0a0a"/>
<rect x="333.3" y="148.8" width="2.4" height="2.4" fill="#0a0a0a"/>
<rect x="336.55" y="141.3" width="2.4" height="2.4" fill="#0a0a0a"/>
<rect x="339.8" y="124.55" width="2.4" height="2.4" fill="#0a0a0a"/>
<rect x="343.05" y="114.3" width="2.4" height="2.4" fill="#0a0a0a"/>
<rect x="346.3" y="112.3" width="2.4" height="2.4" fill="#0a0a0a"/>
<rect x="349.8" y="111.8" width="2.4" height="2.4" fill="#0a0a0a"/>
<rect x="353.3" y="110.8" width="2.4" height="2.4" fill="#0a0a0a"/>
<rect x="356.55" y="109.8" width="2.4" height="2.4" fill="#0a0a0a"/>
<rect x="360.05" y="111.3" width="2.4" height="2.4" fill="#0a0a0a"/>
<rect x="363.3" y="111.55" width="2.4" height="2.4" fill="#0a0a0a"/>
<rect x="366.8" y="109.8" width="2.4" height="2.4" fill="#0a0a0a"/>
<rect x="287.25" y="35" width="95" height="136.25" fill="none" stroke="#6c6c6c" stroke-width="0.78"/>
<line x1="287.25" y1="103.1" x2="382.25" y2="103.1" stroke="#505050" stroke-width="0.95"/>
<text x="297.5" y="33.4" font-size="6.4" text-anchor="middle" fill="#1c1c1c" textLength="3.6" lengthAdjust="spacingAndGlyphs" stroke="#1c1c1c" stroke-width="0.13">0</text>
<line x1="297.5" y1="35" x2="297.5" y2="37" stroke="#444" stroke-width="0.8"/>
<text x="318.6" y="33.4" font-size="6.4" text-anchor="middle" fill="#1c1c1c" textLength="7.2" lengthAdjust="spacingAndGlyphs" stroke="#1c1c1c" stroke-width="0.13">20</text>
<line x1="318.6" y1="35" x2="318.6" y2="37" stroke="#444" stroke-width="0.8"/>
<text x="339.7" y="33.4" font-size="6.4" text-anchor="middle" fill="#1c1c1c" textLength="7.2" lengthAdjust="spacingAndGlyphs" stroke="#1c1c1c" stroke-width="0.13">40</text>
<line x1="339.7" y1="35" x2="339.7" y2="37" stroke="#444" stroke-width="0.8"/>
<text x="360.8" y="33.4" font-size="6.4" text-anchor="middle" fill="#1c1c1c" textLength="7.2" lengthAdjust="spacingAndGlyphs" stroke="#1c1c1c" stroke-width="0.13">60</text>
<line x1="360.8" y1="35" x2="360.8" y2="37" stroke="#444" stroke-width="0.8"/>
<line x1="297.5" y1="35" x2="297.5" y2="36.3" stroke="#444" stroke-width="0.6"/>
<line x1="308.05" y1="35" x2="308.05" y2="36.3" stroke="#444" stroke-width="0.6"/>
<line x1="318.6" y1="35" x2="318.6" y2="36.3" stroke="#444" stroke-width="0.6"/>
<line x1="329.15" y1="35" x2="329.15" y2="36.3" stroke="#444" stroke-width="0.6"/>
<line x1="339.7" y1="35" x2="339.7" y2="36.3" stroke="#444" stroke-width="0.6"/>
<line x1="350.25" y1="35" x2="350.25" y2="36.3" stroke="#444" stroke-width="0.6"/>
<line x1="360.8" y1="35" x2="360.8" y2="36.3" stroke="#444" stroke-width="0.6"/>
<line x1="371.35" y1="35" x2="371.35" y2="36.3" stroke="#444" stroke-width="0.6"/>
<text x="283.95" y="47.9" font-size="6.4" text-anchor="end" fill="#1c1c1c" textLength="12.6" lengthAdjust="spacingAndGlyphs" stroke="#1c1c1c" stroke-width="0.13">0.00</text>
<line x1="285.35" y1="45.6" x2="287.25" y2="45.6" stroke="#444" stroke-width="0.8"/>
<line x1="380.35" y1="45.6" x2="382.25" y2="45.6" stroke="#444" stroke-width="0.8"/>
<text x="283.95" y="64.15" font-size="6.4" text-anchor="end" fill="#1c1c1c" textLength="14.75" lengthAdjust="spacingAndGlyphs" stroke="#1c1c1c" stroke-width="0.13">-0.02</text>
<line x1="285.35" y1="61.85" x2="287.25" y2="61.85" stroke="#444" stroke-width="0.8"/>
<line x1="380.35" y1="61.85" x2="382.25" y2="61.85" stroke="#444" stroke-width="0.8"/>
<text x="283.95" y="80.4" font-size="6.4" text-anchor="end" fill="#1c1c1c" textLength="14.75" lengthAdjust="spacingAndGlyphs" stroke="#1c1c1c" stroke-width="0.13">-0.04</text>
<line x1="285.35" y1="78.1" x2="287.25" y2="78.1" stroke="#444" stroke-width="0.8"/>
<line x1="380.35" y1="78.1" x2="382.25" y2="78.1" stroke="#444" stroke-width="0.8"/>
<text x="283.95" y="96.65" font-size="6.4" text-anchor="end" fill="#1c1c1c" textLength="14.75" lengthAdjust="spacingAndGlyphs" stroke="#1c1c1c" stroke-width="0.13">-0.06</text>
<line x1="285.35" y1="94.35" x2="287.25" y2="94.35" stroke="#444" stroke-width="0.8"/>
<line x1="380.35" y1="94.35" x2="382.25" y2="94.35" stroke="#444" stroke-width="0.8"/>
<line x1="286.15" y1="37.48" x2="287.25" y2="37.48" stroke="#444" stroke-width="0.6"/>
<line x1="381.15" y1="37.48" x2="382.25" y2="37.48" stroke="#444" stroke-width="0.6"/>
<line x1="286.15" y1="53.73" x2="287.25" y2="53.73" stroke="#444" stroke-width="0.6"/>
<line x1="381.15" y1="53.73" x2="382.25" y2="53.73" stroke="#444" stroke-width="0.6"/>
<line x1="286.15" y1="69.97" x2="287.25" y2="69.97" stroke="#444" stroke-width="0.6"/>
<line x1="381.15" y1="69.97" x2="382.25" y2="69.97" stroke="#444" stroke-width="0.6"/>
<line x1="286.15" y1="86.22" x2="287.25" y2="86.22" stroke="#444" stroke-width="0.6"/>
<line x1="381.15" y1="86.22" x2="382.25" y2="86.22" stroke="#444" stroke-width="0.6"/>
<text x="296" y="179.75" font-size="6.4" text-anchor="middle" fill="#1c1c1c" textLength="9" lengthAdjust="spacingAndGlyphs" stroke="#1c1c1c" stroke-width="0.13">0.0</text>
<line x1="296" y1="169.25" x2="296" y2="171.55" stroke="#444" stroke-width="0.8"/>
<line x1="296" y1="103.1" x2="296" y2="105.1" stroke="#444" stroke-width="0.8"/>
<text x="330.5" y="179.75" font-size="6.4" text-anchor="middle" fill="#1c1c1c" textLength="9" lengthAdjust="spacingAndGlyphs" stroke="#1c1c1c" stroke-width="0.13">1.0</text>
<line x1="330.5" y1="169.25" x2="330.5" y2="171.55" stroke="#444" stroke-width="0.8"/>
<line x1="330.5" y1="103.1" x2="330.5" y2="105.1" stroke="#444" stroke-width="0.8"/>
<text x="365" y="179.75" font-size="6.4" text-anchor="middle" fill="#1c1c1c" textLength="9" lengthAdjust="spacingAndGlyphs" stroke="#1c1c1c" stroke-width="0.13">2.0</text>
<line x1="365" y1="169.25" x2="365" y2="171.55" stroke="#444" stroke-width="0.8"/>
<line x1="365" y1="103.1" x2="365" y2="105.1" stroke="#444" stroke-width="0.8"/>
<line x1="296" y1="169.95" x2="296" y2="171.25" stroke="#444" stroke-width="0.6"/>
<line x1="296" y1="103.1" x2="296" y2="104.4" stroke="#444" stroke-width="0.6"/>
<line x1="313.25" y1="169.95" x2="313.25" y2="171.25" stroke="#444" stroke-width="0.6"/>
<line x1="313.25" y1="103.1" x2="313.25" y2="104.4" stroke="#444" stroke-width="0.6"/>
<line x1="330.5" y1="169.95" x2="330.5" y2="171.25" stroke="#444" stroke-width="0.6"/>
<line x1="330.5" y1="103.1" x2="330.5" y2="104.4" stroke="#444" stroke-width="0.6"/>
<line x1="347.75" y1="169.95" x2="347.75" y2="171.25" stroke="#444" stroke-width="0.6"/>
<line x1="347.75" y1="103.1" x2="347.75" y2="104.4" stroke="#444" stroke-width="0.6"/>
<line x1="365" y1="169.95" x2="365" y2="171.25" stroke="#444" stroke-width="0.6"/>
<line x1="365" y1="103.1" x2="365" y2="104.4" stroke="#444" stroke-width="0.6"/>
<text x="283.95" y="113.55" font-size="6.4" text-anchor="end" fill="#1c1c1c" textLength="3.6" lengthAdjust="spacingAndGlyphs" stroke="#1c1c1c" stroke-width="0.13">0</text>
<line x1="285.35" y1="111.25" x2="287.25" y2="111.25" stroke="#444" stroke-width="0.8"/>
<line x1="380.35" y1="111.25" x2="382.25" y2="111.25" stroke="#444" stroke-width="0.8"/>
<text x="283.95" y="130.4" font-size="6.4" text-anchor="end" fill="#1c1c1c" textLength="5.75" lengthAdjust="spacingAndGlyphs" stroke="#1c1c1c" stroke-width="0.13">-1</text>
<line x1="285.35" y1="128.1" x2="287.25" y2="128.1" stroke="#444" stroke-width="0.8"/>
<line x1="380.35" y1="128.1" x2="382.25" y2="128.1" stroke="#444" stroke-width="0.8"/>
<text x="283.95" y="147.1" font-size="6.4" text-anchor="end" fill="#1c1c1c" textLength="5.75" lengthAdjust="spacingAndGlyphs" stroke="#1c1c1c" stroke-width="0.13">-2</text>
<line x1="285.35" y1="144.8" x2="287.25" y2="144.8" stroke="#444" stroke-width="0.8"/>
<line x1="380.35" y1="144.8" x2="382.25" y2="144.8" stroke="#444" stroke-width="0.8"/>
<text x="283.95" y="163.8" font-size="6.4" text-anchor="end" fill="#1c1c1c" textLength="5.75" lengthAdjust="spacingAndGlyphs" stroke="#1c1c1c" stroke-width="0.13">-3</text>
<line x1="285.35" y1="161.5" x2="287.25" y2="161.5" stroke="#444" stroke-width="0.8"/>
<line x1="380.35" y1="161.5" x2="382.25" y2="161.5" stroke="#444" stroke-width="0.8"/>
<line x1="286.15" y1="119.67" x2="287.25" y2="119.67" stroke="#444" stroke-width="0.6"/>
<line x1="381.15" y1="119.67" x2="382.25" y2="119.67" stroke="#444" stroke-width="0.6"/>
<line x1="286.15" y1="136.52" x2="287.25" y2="136.52" stroke="#444" stroke-width="0.6"/>
<line x1="381.15" y1="136.52" x2="382.25" y2="136.52" stroke="#444" stroke-width="0.6"/>
<line x1="286.15" y1="153.37" x2="287.25" y2="153.37" stroke="#444" stroke-width="0.6"/>
<line x1="381.15" y1="153.37" x2="382.25" y2="153.37" stroke="#444" stroke-width="0.6"/>
<line x1="286.15" y1="170.22" x2="287.25" y2="170.22" stroke="#444" stroke-width="0.6"/>
<line x1="381.15" y1="170.22" x2="382.25" y2="170.22" stroke="#444" stroke-width="0.6"/>
<text x="376.55" y="98" text-anchor="end" fill="#0c0c0c" stroke="#0c0c0c" stroke-width="0.15"><tspan font-size="15">D</tspan><tspan font-size="9.4">100-195</tspan></text>
</g>
<g>
<polyline points="432,46.25 432.5,68.2 432.61,61.29 432.73,56.56 432.84,53.32 432.95,51.09 433.07,49.57 433.18,48.53 433.29,47.81 433.41,47.32 433.52,46.98" fill="none" stroke="#2b2b2b" stroke-width="0.52" stroke-linejoin="round"/>
<polyline points="435.05,46.25 435.55,92 435.66,77.61 435.78,67.74 435.89,60.98 436,56.35 436.12,53.17 436.23,50.99 436.34,49.5 436.46,48.48 436.57,47.78" fill="none" stroke="#2b2b2b" stroke-width="0.52" stroke-linejoin="round"/>
<polyline points="437.71,46.25 438.21,88.7 438.32,75.34 438.44,66.19 438.55,59.92 438.66,55.62 438.78,52.67 438.89,50.65 439,49.27 439.12,48.32 439.23,47.67" fill="none" stroke="#2b2b2b" stroke-width="0.52" stroke-linejoin="round"/>
<polyline points="440.37,46.25 440.87,94.1 440.98,79.05 441.1,68.73 441.21,61.66 441.32,56.81 441.44,53.49 441.55,51.21 441.66,49.65 441.78,48.58 441.89,47.85" fill="none" stroke="#2b2b2b" stroke-width="0.52" stroke-linejoin="round"/>
<polyline points="443.03,46.25 443.53,88.7 443.64,75.34 443.76,66.19 443.87,59.92 443.98,55.62 444.1,52.67 444.21,50.65 444.32,49.27 444.44,48.32 444.55,47.67" fill="none" stroke="#2b2b2b" stroke-width="0.52" stroke-linejoin="round"/>
<polyline points="445.69,46.25 446.19,92 446.3,77.61 446.42,67.74 446.53,60.98 446.64,56.35 446.76,53.17 446.87,50.99 446.98,49.5 447.1,48.48 447.21,47.78" fill="none" stroke="#2b2b2b" stroke-width="0.52" stroke-linejoin="round"/>
<polyline points="448.35,46.25 448.85,87.1 448.96,74.25 449.08,65.44 449.19,59.4 449.3,55.26 449.42,52.43 449.53,50.48 449.64,49.15 449.76,48.24 449.87,47.61" fill="none" stroke="#2b2b2b" stroke-width="0.52" stroke-linejoin="round"/>
<polyline points="451.01,46.25 451.51,89.8 451.62,76.1 451.74,66.71 451.85,60.27 451.96,55.86 452.08,52.84 452.19,50.76 452.3,49.34 452.42,48.37 452.53,47.7" fill="none" stroke="#2b2b2b" stroke-width="0.52" stroke-linejoin="round"/>
<polyline points="453.67,46.25 454.17,87.6 454.28,74.59 454.4,65.67 454.51,59.56 454.62,55.37 454.74,52.5 454.85,50.54 454.96,49.19 455.08,48.26 455.19,47.63" fill="none" stroke="#2b2b2b" stroke-width="0.52" stroke-linejoin="round"/>
<polyline points="456.33,46.25 456.83,88.2 456.94,75 457.06,65.96 457.17,59.76 457.28,55.51 457.4,52.59 457.51,50.6 457.62,49.23 457.74,48.29 457.85,47.65" fill="none" stroke="#2b2b2b" stroke-width="0.52" stroke-linejoin="round"/>
<polyline points="458.99,46.25 459.49,86.5 459.6,73.84 459.72,65.16 459.83,59.21 459.94,55.13 460.06,52.34 460.17,50.42 460.28,49.11 460.4,48.21 460.51,47.59" fill="none" stroke="#2b2b2b" stroke-width="0.52" stroke-linejoin="round"/>
<polyline points="461.65,46.25 462.15,87.1 462.26,74.25 462.38,65.44 462.49,59.4 462.6,55.26 462.72,52.43 462.83,50.48 462.94,49.15 463.06,48.24 463.17,47.61" fill="none" stroke="#2b2b2b" stroke-width="0.52" stroke-linejoin="round"/>
<polyline points="464.31,46.25 464.81,83.6 464.92,71.85 465.04,63.8 465.15,58.28 465.26,54.49 465.38,51.9 465.49,50.12 465.6,48.9 465.72,48.07 465.83,47.5" fill="none" stroke="#2b2b2b" stroke-width="0.52" stroke-linejoin="round"/>
<polyline points="466.97,46.25 467.47,82.8 467.58,71.3 467.7,63.42 467.81,58.02 467.92,54.32 468.04,51.78 468.15,50.04 468.26,48.85 468.38,48.03 468.49,47.47" fill="none" stroke="#2b2b2b" stroke-width="0.52" stroke-linejoin="round"/>
<polyline points="469.63,46.25 470.13,80.6 470.24,69.79 470.36,62.39 470.47,57.31 470.58,53.83 470.7,51.45 470.81,49.81 470.92,48.69 471.04,47.92 471.15,47.4" fill="none" stroke="#2b2b2b" stroke-width="0.52" stroke-linejoin="round"/>
<polyline points="472.29,46.25 472.79,76 472.9,66.64 473.02,60.23 473.13,55.83 473.24,52.81 473.36,50.75 473.47,49.33 473.58,48.36 473.7,47.7 473.81,47.24" fill="none" stroke="#2b2b2b" stroke-width="0.52" stroke-linejoin="round"/>
<polyline points="474.95,46.25 475.45,71.6 475.56,63.62 475.68,58.16 475.79,54.41 475.9,51.84 476.02,50.08 476.13,48.88 476.24,48.05 476.36,47.48 476.47,47.1" fill="none" stroke="#2b2b2b" stroke-width="0.52" stroke-linejoin="round"/>
<polyline points="477.61,46.25 478.11,68.4 478.22,61.43 478.34,56.65 478.45,53.38 478.56,51.14 478.68,49.6 478.79,48.55 478.9,47.82 479.02,47.33 479.13,46.99" fill="none" stroke="#2b2b2b" stroke-width="0.52" stroke-linejoin="round"/>
<polyline points="480.27,46.25 480.77,65 480.88,59.1 481,55.06 481.11,52.29 481.22,50.39 481.34,49.09 481.45,48.19 481.56,47.58 481.68,47.16 481.79,46.88" fill="none" stroke="#2b2b2b" stroke-width="0.52" stroke-linejoin="round"/>
<polyline points="482.93,46.25 483.43,62.3 483.54,57.25 483.66,53.79 483.77,51.42 483.88,49.79 484,48.68 484.11,47.91 484.22,47.39 484.34,47.03 484.45,46.79" fill="none" stroke="#2b2b2b" stroke-width="0.52" stroke-linejoin="round"/>
<polyline points="485.59,46.25 486.09,60.3 486.2,55.88 486.32,52.85 486.43,50.77 486.54,49.35 486.66,48.37 486.77,47.71 486.88,47.25 487,46.93 487.11,46.72" fill="none" stroke="#2b2b2b" stroke-width="0.52" stroke-linejoin="round"/>
<polyline points="488.25,46.25 488.75,58.7 488.86,54.78 488.98,52.1 489.09,50.26 489.2,49 489.32,48.13 489.43,47.54 489.54,47.13 489.66,46.86 489.77,46.67" fill="none" stroke="#2b2b2b" stroke-width="0.52" stroke-linejoin="round"/>
<polyline points="490.91,46.25 491.41,57.3 491.52,53.82 491.64,51.44 491.75,49.81 491.86,48.69 491.98,47.92 492.09,47.4 492.2,47.04 492.32,46.79 492.43,46.62" fill="none" stroke="#2b2b2b" stroke-width="0.52" stroke-linejoin="round"/>
<polyline points="493.57,46.25 494.07,56.3 494.18,53.14 494.3,50.97 494.41,49.49 494.52,48.47 494.64,47.77 494.75,47.29 494.86,46.96 494.98,46.74 495.09,46.59" fill="none" stroke="#2b2b2b" stroke-width="0.52" stroke-linejoin="round"/>
<polyline points="496.23,46.25 496.73,55.2 496.84,52.38 496.96,50.45 497.07,49.13 497.18,48.22 497.3,47.6 497.41,47.18 497.52,46.89 497.64,46.69 497.75,46.55" fill="none" stroke="#2b2b2b" stroke-width="0.52" stroke-linejoin="round"/>
<polyline points="498.89,46.25 499.39,54.6 499.5,51.97 499.62,50.17 499.73,48.94 499.84,48.09 499.96,47.51 500.07,47.12 500.18,46.84 500.3,46.66 500.41,46.53" fill="none" stroke="#2b2b2b" stroke-width="0.52" stroke-linejoin="round"/>
<polyline points="501.55,46.25 502.05,54.2 502.16,51.7 502.28,49.98 502.39,48.81 502.5,48 502.62,47.45 502.73,47.07 502.84,46.81 502.96,46.64 503.07,46.52" fill="none" stroke="#2b2b2b" stroke-width="0.52" stroke-linejoin="round"/>
<polyline points="504.21,46.25 504.71,53.8 504.82,51.42 504.94,49.8 505.05,48.68 505.16,47.92 505.28,47.39 505.39,47.03 505.5,46.79 505.62,46.62 505.73,46.5" fill="none" stroke="#2b2b2b" stroke-width="0.52" stroke-linejoin="round"/>
<polyline points="431.5,46.4 432.2,46.53 432.9,46.1 433.6,46.16 434.3,46.18 435,46.6 435.7,46.31 436.4,46.15 437.1,46.2 437.8,46.09 438.5,45.93 439.2,45.97 439.9,46.48 440.6,46.1 441.3,46.55 442,46.07 442.7,46.09 443.4,46.26 444.1,46.03 444.8,46.16 445.5,46.57 446.2,46.52 446.9,46.47 447.6,46.34 448.3,46.54 449,46.56 449.7,46.28 450.4,46.4 451.1,45.93 451.8,46.41 452.5,46.22 453.2,46.43 453.9,46.35 454.6,46.1 455.3,45.93 456,46.55 456.7,45.99 457.4,46.23 458.1,46.14 458.8,46.11 459.5,46.42 460.2,46.58 460.9,46.08 461.6,46.36 462.3,46.11 463,46.29 463.7,46.18 464.4,46.02 465.1,46.01 465.8,46.05 466.5,46.53 467.2,46.25 467.9,46.05 468.6,46.53 469.3,46.6 470,46.21 470.7,46 471.4,46.03 472.1,45.96 472.8,46.14 473.5,45.96 474.2,46.07 474.9,46.08 475.6,46.3 476.3,46.52 477,46.42 477.7,46.19 478.4,46.19 479.1,46.27 479.8,46.16 480.5,46.14 481.2,45.94 481.9,46.09 482.6,46.58 483.3,45.99 484,46.25 484.7,46.34 485.4,46.5 486.1,46.05" fill="none" stroke="#222" stroke-width="0.55" stroke-linejoin="round"/>
<polyline points="486.1,46.05 486.8,46.09 487.5,46.07 488.2,46.18 488.9,46.21 489.6,46.57 490.3,46.49 491,46.51 491.7,45.92 492.4,45.92 493.1,46.4 493.8,46.53 494.5,46.23 495.2,46.31 495.9,45.9 496.6,46.17 497.3,46.55 498,46.48 498.7,46.5 499.4,46.58 500.1,46.07 500.8,45.98 501.5,46.01 502.2,46.27 502.9,46.38 503.6,46.56 504.3,46.41 505,46.35 505.7,46.44" fill="none" stroke="#151515" stroke-width="1.4" stroke-linejoin="round"/>
<line x1="433.95" y1="46.25" x2="435.25" y2="46.25" stroke="#111" stroke-width="1.25"/>
<line x1="436.61" y1="46.25" x2="437.91" y2="46.25" stroke="#111" stroke-width="1.25"/>
<line x1="439.27" y1="46.25" x2="440.57" y2="46.25" stroke="#111" stroke-width="1.25"/>
<line x1="441.93" y1="46.25" x2="443.23" y2="46.25" stroke="#111" stroke-width="1.25"/>
<line x1="444.59" y1="46.25" x2="445.89" y2="46.25" stroke="#111" stroke-width="1.25"/>
<line x1="447.25" y1="46.25" x2="448.55" y2="46.25" stroke="#111" stroke-width="1.25"/>
<line x1="449.91" y1="46.25" x2="451.21" y2="46.25" stroke="#111" stroke-width="1.25"/>
<line x1="452.57" y1="46.25" x2="453.87" y2="46.25" stroke="#111" stroke-width="1.25"/>
<line x1="455.23" y1="46.25" x2="456.53" y2="46.25" stroke="#111" stroke-width="1.25"/>
<line x1="457.89" y1="46.25" x2="459.19" y2="46.25" stroke="#111" stroke-width="1.25"/>
<line x1="460.55" y1="46.25" x2="461.85" y2="46.25" stroke="#111" stroke-width="1.25"/>
<line x1="463.21" y1="46.25" x2="464.51" y2="46.25" stroke="#111" stroke-width="1.25"/>
<line x1="465.87" y1="46.25" x2="467.17" y2="46.25" stroke="#111" stroke-width="1.25"/>
<line x1="468.53" y1="46.25" x2="469.83" y2="46.25" stroke="#111" stroke-width="1.25"/>
<line x1="471.19" y1="46.25" x2="472.49" y2="46.25" stroke="#111" stroke-width="1.25"/>
<line x1="473.85" y1="46.25" x2="475.15" y2="46.25" stroke="#111" stroke-width="1.25"/>
<line x1="476.51" y1="46.25" x2="477.81" y2="46.25" stroke="#111" stroke-width="1.25"/>
<line x1="479.17" y1="46.25" x2="480.47" y2="46.25" stroke="#111" stroke-width="1.25"/>
<line x1="481.83" y1="46.25" x2="483.13" y2="46.25" stroke="#111" stroke-width="1.25"/>
<line x1="484.49" y1="46.25" x2="485.79" y2="46.25" stroke="#111" stroke-width="1.25"/>
<polyline points="431.7,41.6 432,47 432.3,42.8 432.7,47.2 433.3,43.8 433.7,47.4 434.3,44.8 434.8,46.3" fill="none" stroke="#222" stroke-width="0.6" stroke-linejoin="round"/>
<polyline points="432,160.3 433.2,160.12 434.4,159.94 435.6,159.76 436.8,159.58 438,159.4 439.2,159.22 440.4,159.04 441.6,158.86 442.8,158.68 444,158.5 445.2,158.32 446.4,158.14 447.6,157.96 448.8,157.78 450,157.6 451.2,157.42 452.4,157.24 453.6,157.06 454.8,156.88 456,156.7 457.2,156.51 458.4,156.33 459.6,156.15 460.8,155.96 462,155.77 463.2,155.57 464.4,155.36 465.6,155.14 466.8,154.9 468,154.63 469.2,154.31 470.4,153.92 471.6,153.41 472.8,152.75 474,151.85 475.2,150.62 476.4,148.95 477.6,146.73 478.8,143.86 480,140.37 481.2,136.4 482.4,132.25 483.6,128.27 484.8,124.75 486,121.87 487.2,119.65 488.4,118.01 489.6,116.83 490.8,116 492,115.41 493.2,114.99 494.4,114.69 495.6,114.46 496.8,114.28 498,114.14 499.2,114.01 500.4,113.9 501.6,113.8 502.8,113.7 504,113.61" fill="none" stroke="#2e2e2e" stroke-width="0.62" stroke-linejoin="round"/>
<rect x="430.3" y="158.05" width="2.4" height="2.4" fill="#0a0a0a"/>
<rect x="432.55" y="160.05" width="2.4" height="2.4" fill="#0a0a0a"/>
<rect x="435.05" y="158.55" width="2.4" height="2.4" fill="#0a0a0a"/>
<rect x="437.55" y="160.55" width="2.4" height="2.4" fill="#0a0a0a"/>
<rect x="440.3" y="155.55" width="2.4" height="2.4" fill="#0a0a0a"/>
<rect x="442.8" y="157.55" width="2.4" height="2.4" fill="#0a0a0a"/>
<rect x="445.3" y="157.05" width="2.4" height="2.4" fill="#0a0a0a"/>
<rect x="447.8" y="155.3" width="2.4" height="2.4" fill="#0a0a0a"/>
<rect x="450.3" y="159.8" width="2.4" height="2.4" fill="#0a0a0a"/>
<rect x="452.8" y="160.3" width="2.4" height="2.4" fill="#0a0a0a"/>
<rect x="455.55" y="155.3" width="2.4" height="2.4" fill="#0a0a0a"/>
<rect x="458.05" y="157.05" width="2.4" height="2.4" fill="#0a0a0a"/>
<rect x="460.8" y="154.05" width="2.4" height="2.4" fill="#0a0a0a"/>
<rect x="463.3" y="153.8" width="2.4" height="2.4" fill="#0a0a0a"/>
<rect x="466.05" y="151.8" width="2.4" height="2.4" fill="#0a0a0a"/>
<rect x="468.55" y="152.3" width="2.4" height="2.4" fill="#0a0a0a"/>
<rect x="471.3" y="151.8" width="2.4" height="2.4" fill="#0a0a0a"/>
<rect x="474.05" y="148.3" width="2.4" height="2.4" fill="#0a0a0a"/>
<rect x="476.8" y="146.05" width="2.4" height="2.4" fill="#0a0a0a"/>
<rect x="479.8" y="135.55" width="2.4" height="2.4" fill="#0a0a0a"/>
<rect x="482.55" y="124.3" width="2.4" height="2.4" fill="#0a0a0a"/>
<rect x="485.3" y="124.55" width="2.4" height="2.4" fill="#0a0a0a"/>
<rect x="488.3" y="118.05" width="2.4" height="2.4" fill="#0a0a0a"/>
<rect x="491.05" y="118.8" width="2.4" height="2.4" fill="#0a0a0a"/>
<rect x="493.8" y="114.8" width="2.4" height="2.4" fill="#0a0a0a"/>
<rect x="496.8" y="114.3" width="2.4" height="2.4" fill="#0a0a0a"/>
<rect x="499.55" y="113.55" width="2.4" height="2.4" fill="#0a0a0a"/>
<rect x="502.3" y="112.8" width="2.4" height="2.4" fill="#0a0a0a"/>
<rect x="420.6" y="35" width="95" height="136.25" fill="none" stroke="#6c6c6c" stroke-width="0.78"/>
<line x1="420.6" y1="103.1" x2="515.6" y2="103.1" stroke="#505050" stroke-width="0.95"/>
<text x="431.5" y="33.4" font-size="6.4" text-anchor="middle" fill="#1c1c1c" textLength="3.6" lengthAdjust="spacingAndGlyphs" stroke="#1c1c1c" stroke-width="0.13">0</text>
<line x1="431.5" y1="35" x2="431.5" y2="37" stroke="#444" stroke-width="0.8"/>
<text x="452.6" y="33.4" font-size="6.4" text-anchor="middle" fill="#1c1c1c" textLength="7.2" lengthAdjust="spacingAndGlyphs" stroke="#1c1c1c" stroke-width="0.13">20</text>
<line x1="452.6" y1="35" x2="452.6" y2="37" stroke="#444" stroke-width="0.8"/>
<text x="473.7" y="33.4" font-size="6.4" text-anchor="middle" fill="#1c1c1c" textLength="7.2" lengthAdjust="spacingAndGlyphs" stroke="#1c1c1c" stroke-width="0.13">40</text>
<line x1="473.7" y1="35" x2="473.7" y2="37" stroke="#444" stroke-width="0.8"/>
<text x="494.8" y="33.4" font-size="6.4" text-anchor="middle" fill="#1c1c1c" textLength="7.2" lengthAdjust="spacingAndGlyphs" stroke="#1c1c1c" stroke-width="0.13">60</text>
<line x1="494.8" y1="35" x2="494.8" y2="37" stroke="#444" stroke-width="0.8"/>
<line x1="431.5" y1="35" x2="431.5" y2="36.3" stroke="#444" stroke-width="0.6"/>
<line x1="442.05" y1="35" x2="442.05" y2="36.3" stroke="#444" stroke-width="0.6"/>
<line x1="452.6" y1="35" x2="452.6" y2="36.3" stroke="#444" stroke-width="0.6"/>
<line x1="463.15" y1="35" x2="463.15" y2="36.3" stroke="#444" stroke-width="0.6"/>
<line x1="473.7" y1="35" x2="473.7" y2="36.3" stroke="#444" stroke-width="0.6"/>
<line x1="484.25" y1="35" x2="484.25" y2="36.3" stroke="#444" stroke-width="0.6"/>
<line x1="494.8" y1="35" x2="494.8" y2="36.3" stroke="#444" stroke-width="0.6"/>
<line x1="505.35" y1="35" x2="505.35" y2="36.3" stroke="#444" stroke-width="0.6"/>
<text x="417.3" y="48.55" font-size="6.4" text-anchor="end" fill="#1c1c1c" textLength="12.6" lengthAdjust="spacingAndGlyphs" stroke="#1c1c1c" stroke-width="0.13">0.00</text>
<line x1="418.7" y1="46.25" x2="420.6" y2="46.25" stroke="#444" stroke-width="0.8"/>
<line x1="513.7" y1="46.25" x2="515.6" y2="46.25" stroke="#444" stroke-width="0.8"/>
<text x="417.3" y="71.85" font-size="6.4" text-anchor="end" fill="#1c1c1c" textLength="14.75" lengthAdjust="spacingAndGlyphs" stroke="#1c1c1c" stroke-width="0.13">-0.03</text>
<line x1="418.7" y1="69.55" x2="420.6" y2="69.55" stroke="#444" stroke-width="0.8"/>
<line x1="513.7" y1="69.55" x2="515.6" y2="69.55" stroke="#444" stroke-width="0.8"/>
<text x="417.3" y="95.15" font-size="6.4" text-anchor="end" fill="#1c1c1c" textLength="14.75" lengthAdjust="spacingAndGlyphs" stroke="#1c1c1c" stroke-width="0.13">-0.06</text>
<line x1="418.7" y1="92.85" x2="420.6" y2="92.85" stroke="#444" stroke-width="0.8"/>
<line x1="513.7" y1="92.85" x2="515.6" y2="92.85" stroke="#444" stroke-width="0.8"/>
<line x1="419.5" y1="57.9" x2="420.6" y2="57.9" stroke="#444" stroke-width="0.6"/>
<line x1="514.5" y1="57.9" x2="515.6" y2="57.9" stroke="#444" stroke-width="0.6"/>
<line x1="419.5" y1="81.2" x2="420.6" y2="81.2" stroke="#444" stroke-width="0.6"/>
<line x1="514.5" y1="81.2" x2="515.6" y2="81.2" stroke="#444" stroke-width="0.6"/>
<text x="430.25" y="179.75" font-size="6.4" text-anchor="middle" fill="#1c1c1c" textLength="9" lengthAdjust="spacingAndGlyphs" stroke="#1c1c1c" stroke-width="0.13">0.0</text>
<line x1="430.25" y1="169.25" x2="430.25" y2="171.55" stroke="#444" stroke-width="0.8"/>
<line x1="430.25" y1="103.1" x2="430.25" y2="105.1" stroke="#444" stroke-width="0.8"/>
<text x="461.85" y="179.75" font-size="6.4" text-anchor="middle" fill="#1c1c1c" textLength="9" lengthAdjust="spacingAndGlyphs" stroke="#1c1c1c" stroke-width="0.13">1.0</text>
<line x1="461.85" y1="169.25" x2="461.85" y2="171.55" stroke="#444" stroke-width="0.8"/>
<line x1="461.85" y1="103.1" x2="461.85" y2="105.1" stroke="#444" stroke-width="0.8"/>
<text x="493.45" y="179.75" font-size="6.4" text-anchor="middle" fill="#1c1c1c" textLength="9" lengthAdjust="spacingAndGlyphs" stroke="#1c1c1c" stroke-width="0.13">2.0</text>
<line x1="493.45" y1="169.25" x2="493.45" y2="171.55" stroke="#444" stroke-width="0.8"/>
<line x1="493.45" y1="103.1" x2="493.45" y2="105.1" stroke="#444" stroke-width="0.8"/>
<line x1="430.25" y1="169.95" x2="430.25" y2="171.25" stroke="#444" stroke-width="0.6"/>
<line x1="430.25" y1="103.1" x2="430.25" y2="104.4" stroke="#444" stroke-width="0.6"/>
<line x1="446.05" y1="169.95" x2="446.05" y2="171.25" stroke="#444" stroke-width="0.6"/>
<line x1="446.05" y1="103.1" x2="446.05" y2="104.4" stroke="#444" stroke-width="0.6"/>
<line x1="461.85" y1="169.95" x2="461.85" y2="171.25" stroke="#444" stroke-width="0.6"/>
<line x1="461.85" y1="103.1" x2="461.85" y2="104.4" stroke="#444" stroke-width="0.6"/>
<line x1="477.65" y1="169.95" x2="477.65" y2="171.25" stroke="#444" stroke-width="0.6"/>
<line x1="477.65" y1="103.1" x2="477.65" y2="104.4" stroke="#444" stroke-width="0.6"/>
<line x1="493.45" y1="169.95" x2="493.45" y2="171.25" stroke="#444" stroke-width="0.6"/>
<line x1="493.45" y1="103.1" x2="493.45" y2="104.4" stroke="#444" stroke-width="0.6"/>
<line x1="509.25" y1="169.95" x2="509.25" y2="171.25" stroke="#444" stroke-width="0.6"/>
<line x1="509.25" y1="103.1" x2="509.25" y2="104.4" stroke="#444" stroke-width="0.6"/>
<text x="417.3" y="112.3" font-size="6.4" text-anchor="end" fill="#1c1c1c" textLength="3.6" lengthAdjust="spacingAndGlyphs" stroke="#1c1c1c" stroke-width="0.13">0</text>
<line x1="418.7" y1="110" x2="420.6" y2="110" stroke="#444" stroke-width="0.8"/>
<line x1="513.7" y1="110" x2="515.6" y2="110" stroke="#444" stroke-width="0.8"/>
<text x="417.3" y="139.7" font-size="6.4" text-anchor="end" fill="#1c1c1c" textLength="5.75" lengthAdjust="spacingAndGlyphs" stroke="#1c1c1c" stroke-width="0.13">-2</text>
<line x1="418.7" y1="137.4" x2="420.6" y2="137.4" stroke="#444" stroke-width="0.8"/>
<line x1="513.7" y1="137.4" x2="515.6" y2="137.4" stroke="#444" stroke-width="0.8"/>
<text x="417.3" y="167.05" font-size="6.4" text-anchor="end" fill="#1c1c1c" textLength="5.75" lengthAdjust="spacingAndGlyphs" stroke="#1c1c1c" stroke-width="0.13">-4</text>
<line x1="418.7" y1="164.75" x2="420.6" y2="164.75" stroke="#444" stroke-width="0.8"/>
<line x1="513.7" y1="164.75" x2="515.6" y2="164.75" stroke="#444" stroke-width="0.8"/>
<line x1="419.5" y1="123.7" x2="420.6" y2="123.7" stroke="#444" stroke-width="0.6"/>
<line x1="514.5" y1="123.7" x2="515.6" y2="123.7" stroke="#444" stroke-width="0.6"/>
<line x1="419.5" y1="151.1" x2="420.6" y2="151.1" stroke="#444" stroke-width="0.6"/>
<line x1="514.5" y1="151.1" x2="515.6" y2="151.1" stroke="#444" stroke-width="0.6"/>
<text x="509.9" y="98" text-anchor="end" fill="#0c0c0c" stroke="#0c0c0c" stroke-width="0.15"><tspan font-size="15">D</tspan><tspan font-size="9.4">100-205</tspan></text>
</g>
<g>
<polyline points="38.9,249.75 39.4,264.6 39.61,259.93 39.82,256.73 40.02,254.53 40.23,253.03 40.44,252 40.65,251.29 40.85,250.81 41.06,250.47 41.27,250.25" fill="none" stroke="#2b2b2b" stroke-width="0.52" stroke-linejoin="round"/>
<polyline points="42.55,249.75 43.05,306.2 43.26,288.44 43.47,276.27 43.67,267.92 43.88,262.21 44.09,258.29 44.3,255.6 44.5,253.76 44.71,252.5 44.92,251.63" fill="none" stroke="#2b2b2b" stroke-width="0.52" stroke-linejoin="round"/>
<polyline points="46.2,249.75 46.7,303.6 46.91,286.66 47.12,275.05 47.32,267.09 47.53,261.63 47.74,257.89 47.95,255.33 48.15,253.58 48.36,252.37 48.57,251.55" fill="none" stroke="#2b2b2b" stroke-width="0.52" stroke-linejoin="round"/>
<polyline points="49.85,249.75 50.35,299.8 50.56,284.05 50.77,273.26 50.97,265.86 51.18,260.79 51.39,257.32 51.6,254.94 51.8,253.31 52.01,252.19 52.22,251.42" fill="none" stroke="#2b2b2b" stroke-width="0.52" stroke-linejoin="round"/>
<polyline points="53.5,249.75 54,295 54.21,280.76 54.42,271.01 54.62,264.32 54.83,259.74 55.04,256.59 55.25,254.44 55.45,252.96 55.66,251.95 55.87,251.26" fill="none" stroke="#2b2b2b" stroke-width="0.52" stroke-linejoin="round"/>
<polyline points="57.15,249.75 57.65,291.6 57.86,278.43 58.07,269.41 58.27,263.22 58.48,258.98 58.69,256.08 58.9,254.09 59.1,252.72 59.31,251.79 59.52,251.15" fill="none" stroke="#2b2b2b" stroke-width="0.52" stroke-linejoin="round"/>
<polyline points="60.8,249.75 61.3,286.3 61.51,274.8 61.72,266.92 61.92,261.52 62.13,257.82 62.34,255.28 62.55,253.54 62.75,252.35 62.96,251.53 63.17,250.97" fill="none" stroke="#2b2b2b" stroke-width="0.52" stroke-linejoin="round"/>
<polyline points="64.45,249.75 64.95,281.5 65.16,271.51 65.37,264.66 65.57,259.97 65.78,256.76 65.99,254.55 66.2,253.04 66.4,252.01 66.61,251.3 66.82,250.81" fill="none" stroke="#2b2b2b" stroke-width="0.52" stroke-linejoin="round"/>
<polyline points="68.1,249.75 68.6,275.8 68.81,267.6 69.02,261.99 69.22,258.14 69.43,255.5 69.64,253.69 69.85,252.45 70.05,251.6 70.26,251.02 70.47,250.62" fill="none" stroke="#2b2b2b" stroke-width="0.52" stroke-linejoin="round"/>
<polyline points="71.75,249.75 72.25,266.2 72.46,261.02 72.67,257.48 72.87,255.05 73.08,253.38 73.29,252.24 73.5,251.46 73.7,250.92 73.91,250.55 74.12,250.3" fill="none" stroke="#2b2b2b" stroke-width="0.52" stroke-linejoin="round"/>
<polyline points="75.4,249.75 75.9,260.2 76.11,256.91 76.32,254.66 76.52,253.11 76.73,252.06 76.94,251.33 77.15,250.83 77.35,250.49 77.56,250.26 77.77,250.1" fill="none" stroke="#2b2b2b" stroke-width="0.52" stroke-linejoin="round"/>
<polyline points="79.05,249.75 79.55,256.3 79.76,254.24 79.97,252.83 80.17,251.86 80.38,251.2 80.59,250.74 80.8,250.43 81,250.22 81.21,250.07 81.42,249.97" fill="none" stroke="#2b2b2b" stroke-width="0.52" stroke-linejoin="round"/>
<polyline points="82.7,249.75 82.9,247.59 83.1,249.75 83.2,254.4 83.35,252.94 83.5,251.93 83.65,251.25 83.8,250.78 83.96,250.45 84.11,250.23 84.26,250.08 84.41,249.98 84.56,249.91" fill="none" stroke="#2b2b2b" stroke-width="0.52" stroke-linejoin="round"/>
<polyline points="86.35,249.75 86.55,247.94 86.75,249.75 86.85,253.6 87,252.39 87.15,251.56 87.3,250.99 87.45,250.6 87.61,250.33 87.76,250.15 87.91,250.02 88.06,249.94 88.21,249.88" fill="none" stroke="#2b2b2b" stroke-width="0.52" stroke-linejoin="round"/>
<polyline points="90,249.75 90.2,247.53 90.4,249.75 90.5,253.4 90.65,252.25 90.8,251.46 90.95,250.93 91.1,250.56 91.26,250.3 91.41,250.13 91.56,250.01 91.71,249.93 91.86,249.87" fill="none" stroke="#2b2b2b" stroke-width="0.52" stroke-linejoin="round"/>
<polyline points="93.65,249.75 93.85,247.34 94.05,249.75 94.15,253.4 94.3,252.25 94.45,251.46 94.6,250.93 94.75,250.56 94.91,250.3 95.06,250.13 95.21,250.01 95.36,249.93 95.51,249.87" fill="none" stroke="#2b2b2b" stroke-width="0.52" stroke-linejoin="round"/>
<polyline points="97.3,249.75 97.5,247.97 97.7,249.75 97.8,255 97.95,253.35 98.1,252.22 98.25,251.44 98.4,250.91 98.56,250.54 98.71,250.29 98.86,250.12 99.01,250.01 99.16,249.93" fill="none" stroke="#2b2b2b" stroke-width="0.52" stroke-linejoin="round"/>
<polyline points="100.95,249.75 101.15,246.95 101.35,249.75 101.45,253.4 101.6,252.25 101.75,251.46 101.9,250.93 102.05,250.56 102.21,250.3 102.36,250.13 102.51,250.01 102.66,249.93 102.81,249.87" fill="none" stroke="#2b2b2b" stroke-width="0.52" stroke-linejoin="round"/>
<polyline points="104.6,249.75 104.8,247.84 105,249.75 105.1,253.6 105.25,252.39 105.4,251.56 105.55,250.99 105.7,250.6 105.86,250.33 106.01,250.15 106.16,250.02 106.31,249.94 106.46,249.88" fill="none" stroke="#2b2b2b" stroke-width="0.52" stroke-linejoin="round"/>
<polyline points="108.25,249.75 108.45,247.22 108.65,249.75 108.75,253.4 108.9,252.25 109.05,251.46 109.2,250.93 109.35,250.56 109.51,250.3 109.66,250.13 109.81,250.01 109.96,249.93 110.11,249.87" fill="none" stroke="#2b2b2b" stroke-width="0.52" stroke-linejoin="round"/>
<polyline points="111.9,249.75 112.1,247.06 112.3,249.75 112.4,254.6 112.55,253.07 112.7,252.03 112.85,251.31 113,250.82 113.16,250.48 113.31,250.25 113.46,250.09 113.61,249.99 113.76,249.91" fill="none" stroke="#2b2b2b" stroke-width="0.52" stroke-linejoin="round"/>
<polyline points="37.8,249.72 38.5,249.78 39.2,249.47 39.9,249.92 40.6,249.59 41.3,250 42,249.84 42.7,249.63 43.4,249.53 44.1,249.6 44.8,249.83 45.5,249.87 46.2,249.52 46.9,249.49 47.6,249.76 48.3,249.8 49,249.68 49.7,249.58 50.4,249.81 51.1,249.46 51.8,249.63 52.5,249.73 53.2,250.03 53.9,249.84 54.6,249.98 55.3,249.74 56,249.59 56.7,249.6 57.4,250.03 58.1,249.87 58.8,249.63 59.5,249.46 60.2,249.75 60.9,249.85 61.6,249.7 62.3,249.6 63,249.85 63.7,250.01 64.4,249.59 65.1,249.47 65.8,249.65 66.5,249.7 67.2,249.86 67.9,249.57 68.6,249.93 69.3,249.89 70,249.75 70.7,249.57 71.4,250.03 72.1,249.64 72.8,249.94 73.5,249.59 74.2,249.58 74.9,249.91 75.6,249.63 76.3,250.02 77,249.75 77.7,249.56 78.4,249.58 79.1,249.7 79.8,249.85 80.5,250.02 81.2,249.54 81.9,249.69 82.6,249.58 83.3,250.03 84,249.54 84.7,249.48" fill="none" stroke="#222" stroke-width="0.55" stroke-linejoin="round"/>
<polyline points="84.7,249.48 85.4,249.49 86.1,249.69 86.8,249.99 87.5,249.98 88.2,249.89 88.9,250.05 89.6,250.01 90.3,249.65 91,249.56 91.7,250.01 92.4,249.9 93.1,249.47 93.8,249.85 94.5,249.68 95.2,249.67 95.9,249.65 96.6,249.55 97.3,249.45 98,249.62 98.7,249.66 99.4,250.02 100.1,249.52 100.8,250.03 101.5,249.57 102.2,249.66 102.9,249.94 103.6,249.94 104.3,249.71 105,249.48 105.7,249.73 106.4,249.67 107.1,250 107.8,249.57 108.5,249.67 109.2,249.99 109.9,249.47 110.6,249.7 111.3,249.94 112,249.91 112.7,249.47 113.4,249.47 114.1,249.49" fill="none" stroke="#151515" stroke-width="1.15" stroke-linejoin="round"/>
<line x1="41.05" y1="249.75" x2="42.75" y2="249.75" stroke="#111" stroke-width="1.25"/>
<line x1="44.7" y1="249.75" x2="46.4" y2="249.75" stroke="#111" stroke-width="1.25"/>
<line x1="48.35" y1="249.75" x2="50.05" y2="249.75" stroke="#111" stroke-width="1.25"/>
<line x1="52" y1="249.75" x2="53.7" y2="249.75" stroke="#111" stroke-width="1.25"/>
<line x1="55.65" y1="249.75" x2="57.35" y2="249.75" stroke="#111" stroke-width="1.25"/>
<line x1="59.3" y1="249.75" x2="61" y2="249.75" stroke="#111" stroke-width="1.25"/>
<line x1="62.95" y1="249.75" x2="64.65" y2="249.75" stroke="#111" stroke-width="1.25"/>
<line x1="66.6" y1="249.75" x2="68.3" y2="249.75" stroke="#111" stroke-width="1.25"/>
<line x1="70.25" y1="249.75" x2="71.95" y2="249.75" stroke="#111" stroke-width="1.25"/>
<line x1="73.9" y1="249.75" x2="75.6" y2="249.75" stroke="#111" stroke-width="1.25"/>
<line x1="77.55" y1="249.75" x2="79.25" y2="249.75" stroke="#111" stroke-width="1.25"/>
<line x1="81.2" y1="249.75" x2="82.9" y2="249.75" stroke="#111" stroke-width="1.25"/>
<polyline points="37.3,245.6 37.6,247.6 38.2,249.2 39,249.75" fill="none" stroke="#222" stroke-width="0.6" stroke-linejoin="round"/>
<polyline points="41.5,376 42.77,375.89 44.05,375.76 45.33,375.6 46.6,375.41 47.88,375.17 49.15,374.89 50.42,374.55 51.7,374.14 52.98,373.64 54.25,373.05 55.52,372.35 56.8,371.52 58.08,370.54 59.35,369.39 60.62,368.06 61.9,366.54 63.17,364.81 64.45,362.87 65.72,360.72 67,358.38 68.28,355.88 69.55,353.24 70.83,350.52 72.1,347.77 73.38,345.04 74.65,342.38 75.92,339.85 77.2,337.47 78.47,335.28 79.75,333.29 81.03,331.52 82.3,329.95 83.58,328.58 84.85,327.39 86.12,326.38 87.4,325.52 88.67,324.79 89.95,324.18 91.22,323.66 92.5,323.23 93.78,322.88 95.05,322.58 96.33,322.34 97.6,322.14 98.88,321.97 100.15,321.83 101.42,321.72 102.7,321.63 103.97,321.55 105.25,321.49 106.53,321.43 107.8,321.39 109.08,321.36 110.35,321.33 111.62,321.31 112.9,321.29 114.17,321.27 115.45,321.26 116.72,321.25 118,321.24" fill="none" stroke="#2e2e2e" stroke-width="0.62" stroke-linejoin="round"/>
<rect x="38.8" y="370.55" width="2.4" height="2.4" fill="#0a0a0a"/>
<rect x="42.55" y="375.55" width="2.4" height="2.4" fill="#0a0a0a"/>
<rect x="46.3" y="375.3" width="2.4" height="2.4" fill="#0a0a0a"/>
<rect x="50.05" y="374.55" width="2.4" height="2.4" fill="#0a0a0a"/>
<rect x="53.8" y="370.3" width="2.4" height="2.4" fill="#0a0a0a"/>
<rect x="57.55" y="370.05" width="2.4" height="2.4" fill="#0a0a0a"/>
<rect x="61.5" y="364.8" width="2.4" height="2.4" fill="#0a0a0a"/>
<rect x="65.3" y="357.05" width="2.4" height="2.4" fill="#0a0a0a"/>
<rect x="69.05" y="350.3" width="2.4" height="2.4" fill="#0a0a0a"/>
<rect x="72.8" y="343.55" width="2.4" height="2.4" fill="#0a0a0a"/>
<rect x="76.8" y="335.8" width="2.4" height="2.4" fill="#0a0a0a"/>
<rect x="80.8" y="330.05" width="2.4" height="2.4" fill="#0a0a0a"/>
<rect x="84.8" y="326.8" width="2.4" height="2.4" fill="#0a0a0a"/>
<rect x="88.8" y="323.55" width="2.4" height="2.4" fill="#0a0a0a"/>
<rect x="92.8" y="322.05" width="2.4" height="2.4" fill="#0a0a0a"/>
<rect x="96.8" y="321.55" width="2.4" height="2.4" fill="#0a0a0a"/>
<rect x="100.8" y="321.3" width="2.4" height="2.4" fill="#0a0a0a"/>
<rect x="104.8" y="320.8" width="2.4" height="2.4" fill="#0a0a0a"/>
<rect x="108.55" y="319.8" width="2.4" height="2.4" fill="#0a0a0a"/>
<rect x="112.55" y="320.3" width="2.4" height="2.4" fill="#0a0a0a"/>
<rect x="116.55" y="320.3" width="2.4" height="2.4" fill="#0a0a0a"/>
<rect x="30" y="245.25" width="95.25" height="136" fill="none" stroke="#6c6c6c" stroke-width="0.78"/>
<line x1="30" y1="313.25" x2="125.25" y2="313.25" stroke="#505050" stroke-width="0.95"/>
<text x="37.5" y="243.65" font-size="6.4" text-anchor="middle" fill="#1c1c1c" textLength="3.6" lengthAdjust="spacingAndGlyphs" stroke="#1c1c1c" stroke-width="0.13">0</text>
<line x1="37.5" y1="245.25" x2="37.5" y2="247.25" stroke="#444" stroke-width="0.8"/>
<text x="66.6" y="243.65" font-size="6.4" text-anchor="middle" fill="#1c1c1c" textLength="7.2" lengthAdjust="spacingAndGlyphs" stroke="#1c1c1c" stroke-width="0.13">20</text>
<line x1="66.6" y1="245.25" x2="66.6" y2="247.25" stroke="#444" stroke-width="0.8"/>
<text x="95.7" y="243.65" font-size="6.4" text-anchor="middle" fill="#1c1c1c" textLength="7.2" lengthAdjust="spacingAndGlyphs" stroke="#1c1c1c" stroke-width="0.13">40</text>
<line x1="95.7" y1="245.25" x2="95.7" y2="247.25" stroke="#444" stroke-width="0.8"/>
<text x="124.8" y="243.65" font-size="6.4" text-anchor="middle" fill="#1c1c1c" textLength="7.2" lengthAdjust="spacingAndGlyphs" stroke="#1c1c1c" stroke-width="0.13">60</text>
<line x1="124.8" y1="245.25" x2="124.8" y2="247.25" stroke="#444" stroke-width="0.8"/>
<line x1="37.5" y1="245.25" x2="37.5" y2="246.55" stroke="#444" stroke-width="0.6"/>
<line x1="52.05" y1="245.25" x2="52.05" y2="246.55" stroke="#444" stroke-width="0.6"/>
<line x1="66.6" y1="245.25" x2="66.6" y2="246.55" stroke="#444" stroke-width="0.6"/>
<line x1="81.15" y1="245.25" x2="81.15" y2="246.55" stroke="#444" stroke-width="0.6"/>
<line x1="95.7" y1="245.25" x2="95.7" y2="246.55" stroke="#444" stroke-width="0.6"/>
<line x1="110.25" y1="245.25" x2="110.25" y2="246.55" stroke="#444" stroke-width="0.6"/>
<text x="26.7" y="252.05" font-size="6.4" text-anchor="end" fill="#1c1c1c" textLength="12.6" lengthAdjust="spacingAndGlyphs" stroke="#1c1c1c" stroke-width="0.13">0.00</text>
<line x1="28.1" y1="249.75" x2="30" y2="249.75" stroke="#444" stroke-width="0.8"/>
<line x1="123.35" y1="249.75" x2="125.25" y2="249.75" stroke="#444" stroke-width="0.8"/>
<text x="26.7" y="276.45" font-size="6.4" text-anchor="end" fill="#1c1c1c" textLength="14.75" lengthAdjust="spacingAndGlyphs" stroke="#1c1c1c" stroke-width="0.13">-0.05</text>
<line x1="28.1" y1="274.15" x2="30" y2="274.15" stroke="#444" stroke-width="0.8"/>
<line x1="123.35" y1="274.15" x2="125.25" y2="274.15" stroke="#444" stroke-width="0.8"/>
<text x="26.7" y="300.85" font-size="6.4" text-anchor="end" fill="#1c1c1c" textLength="14.75" lengthAdjust="spacingAndGlyphs" stroke="#1c1c1c" stroke-width="0.13">-0.10</text>
<line x1="28.1" y1="298.55" x2="30" y2="298.55" stroke="#444" stroke-width="0.8"/>
<line x1="123.35" y1="298.55" x2="125.25" y2="298.55" stroke="#444" stroke-width="0.8"/>
<line x1="28.9" y1="261.95" x2="30" y2="261.95" stroke="#444" stroke-width="0.6"/>
<line x1="124.15" y1="261.95" x2="125.25" y2="261.95" stroke="#444" stroke-width="0.6"/>
<line x1="28.9" y1="286.35" x2="30" y2="286.35" stroke="#444" stroke-width="0.6"/>
<line x1="124.15" y1="286.35" x2="125.25" y2="286.35" stroke="#444" stroke-width="0.6"/>
<line x1="28.9" y1="310.75" x2="30" y2="310.75" stroke="#444" stroke-width="0.6"/>
<line x1="124.15" y1="310.75" x2="125.25" y2="310.75" stroke="#444" stroke-width="0.6"/>
<text x="39.25" y="389.75" font-size="6.4" text-anchor="middle" fill="#1c1c1c" textLength="9" lengthAdjust="spacingAndGlyphs" stroke="#1c1c1c" stroke-width="0.13">0.0</text>
<line x1="39.25" y1="379.25" x2="39.25" y2="381.55" stroke="#444" stroke-width="0.8"/>
<line x1="39.25" y1="313.25" x2="39.25" y2="315.25" stroke="#444" stroke-width="0.8"/>
<text x="73.35" y="389.75" font-size="6.4" text-anchor="middle" fill="#1c1c1c" textLength="9" lengthAdjust="spacingAndGlyphs" stroke="#1c1c1c" stroke-width="0.13">1.0</text>
<line x1="73.35" y1="379.25" x2="73.35" y2="381.55" stroke="#444" stroke-width="0.8"/>
<line x1="73.35" y1="313.25" x2="73.35" y2="315.25" stroke="#444" stroke-width="0.8"/>
<text x="107.45" y="389.75" font-size="6.4" text-anchor="middle" fill="#1c1c1c" textLength="9" lengthAdjust="spacingAndGlyphs" stroke="#1c1c1c" stroke-width="0.13">2.0</text>
<line x1="107.45" y1="379.25" x2="107.45" y2="381.55" stroke="#444" stroke-width="0.8"/>
<line x1="107.45" y1="313.25" x2="107.45" y2="315.25" stroke="#444" stroke-width="0.8"/>
<line x1="39.25" y1="379.95" x2="39.25" y2="381.25" stroke="#444" stroke-width="0.6"/>
<line x1="39.25" y1="313.25" x2="39.25" y2="314.55" stroke="#444" stroke-width="0.6"/>
<line x1="56.3" y1="379.95" x2="56.3" y2="381.25" stroke="#444" stroke-width="0.6"/>
<line x1="56.3" y1="313.25" x2="56.3" y2="314.55" stroke="#444" stroke-width="0.6"/>
<line x1="73.35" y1="379.95" x2="73.35" y2="381.25" stroke="#444" stroke-width="0.6"/>
<line x1="73.35" y1="313.25" x2="73.35" y2="314.55" stroke="#444" stroke-width="0.6"/>
<line x1="90.4" y1="379.95" x2="90.4" y2="381.25" stroke="#444" stroke-width="0.6"/>
<line x1="90.4" y1="313.25" x2="90.4" y2="314.55" stroke="#444" stroke-width="0.6"/>
<line x1="107.45" y1="379.95" x2="107.45" y2="381.25" stroke="#444" stroke-width="0.6"/>
<line x1="107.45" y1="313.25" x2="107.45" y2="314.55" stroke="#444" stroke-width="0.6"/>
<text x="26.7" y="323.05" font-size="6.4" text-anchor="end" fill="#1c1c1c" textLength="3.6" lengthAdjust="spacingAndGlyphs" stroke="#1c1c1c" stroke-width="0.13">0</text>
<line x1="28.1" y1="320.75" x2="30" y2="320.75" stroke="#444" stroke-width="0.8"/>
<line x1="123.35" y1="320.75" x2="125.25" y2="320.75" stroke="#444" stroke-width="0.8"/>
<text x="26.7" y="338.15" font-size="6.4" text-anchor="end" fill="#1c1c1c" textLength="5.75" lengthAdjust="spacingAndGlyphs" stroke="#1c1c1c" stroke-width="0.13">-2</text>
<line x1="28.1" y1="335.85" x2="30" y2="335.85" stroke="#444" stroke-width="0.8"/>
<line x1="123.35" y1="335.85" x2="125.25" y2="335.85" stroke="#444" stroke-width="0.8"/>
<text x="26.7" y="353.4" font-size="6.4" text-anchor="end" fill="#1c1c1c" textLength="5.75" lengthAdjust="spacingAndGlyphs" stroke="#1c1c1c" stroke-width="0.13">-4</text>
<line x1="28.1" y1="351.1" x2="30" y2="351.1" stroke="#444" stroke-width="0.8"/>
<line x1="123.35" y1="351.1" x2="125.25" y2="351.1" stroke="#444" stroke-width="0.8"/>
<text x="26.7" y="368.55" font-size="6.4" text-anchor="end" fill="#1c1c1c" textLength="5.75" lengthAdjust="spacingAndGlyphs" stroke="#1c1c1c" stroke-width="0.13">-6</text>
<line x1="28.1" y1="366.25" x2="30" y2="366.25" stroke="#444" stroke-width="0.8"/>
<line x1="123.35" y1="366.25" x2="125.25" y2="366.25" stroke="#444" stroke-width="0.8"/>
<text x="26.7" y="383.55" font-size="6.4" text-anchor="end" fill="#1c1c1c" textLength="5.75" lengthAdjust="spacingAndGlyphs" stroke="#1c1c1c" stroke-width="0.13">-8</text>
<line x1="28.1" y1="381.25" x2="30" y2="381.25" stroke="#444" stroke-width="0.8"/>
<line x1="123.35" y1="381.25" x2="125.25" y2="381.25" stroke="#444" stroke-width="0.8"/>
<line x1="28.9" y1="328.3" x2="30" y2="328.3" stroke="#444" stroke-width="0.6"/>
<line x1="124.15" y1="328.3" x2="125.25" y2="328.3" stroke="#444" stroke-width="0.6"/>
<line x1="28.9" y1="343.4" x2="30" y2="343.4" stroke="#444" stroke-width="0.6"/>
<line x1="124.15" y1="343.4" x2="125.25" y2="343.4" stroke="#444" stroke-width="0.6"/>
<line x1="28.9" y1="358.5" x2="30" y2="358.5" stroke="#444" stroke-width="0.6"/>
<line x1="124.15" y1="358.5" x2="125.25" y2="358.5" stroke="#444" stroke-width="0.6"/>
<line x1="28.9" y1="373.6" x2="30" y2="373.6" stroke="#444" stroke-width="0.6"/>
<line x1="124.15" y1="373.6" x2="125.25" y2="373.6" stroke="#444" stroke-width="0.6"/>
<text x="119.55" y="308.15" text-anchor="end" fill="#0c0c0c" stroke="#0c0c0c" stroke-width="0.15"><tspan font-size="15">D</tspan><tspan font-size="9.4">89-195</tspan></text>
</g>
<g>
<polyline points="168.1,258.5 168.6,307.3 168.76,291.95 168.92,281.42 169.08,274.21 169.23,269.27 169.39,265.88 169.55,263.56 169.71,261.97 169.87,260.88 170.03,260.13" fill="none" stroke="#2b2b2b" stroke-width="0.55" stroke-linejoin="round"/>
<polyline points="171.8,258.5 172.3,304.5 172.46,290.03 172.62,280.11 172.78,273.31 172.93,268.65 173.09,265.46 173.25,263.27 173.41,261.77 173.57,260.74 173.73,260.04" fill="none" stroke="#2b2b2b" stroke-width="0.55" stroke-linejoin="round"/>
<polyline points="175.5,258.5 176,306 176.16,291.06 176.32,280.81 176.48,273.79 176.63,268.98 176.79,265.68 176.95,263.42 177.11,261.87 177.27,260.81 177.43,260.09" fill="none" stroke="#2b2b2b" stroke-width="0.55" stroke-linejoin="round"/>
<polyline points="179.2,258.5 179.7,304.1 179.86,289.75 180.02,279.92 180.18,273.18 180.33,268.56 180.49,265.4 180.65,263.23 180.81,261.74 180.97,260.72 181.13,260.02" fill="none" stroke="#2b2b2b" stroke-width="0.55" stroke-linejoin="round"/>
<polyline points="182.9,258.5 183.4,302.4 183.56,288.59 183.72,279.12 183.88,272.63 184.03,268.19 184.19,265.14 184.35,263.05 184.51,261.62 184.67,260.64 184.83,259.97" fill="none" stroke="#2b2b2b" stroke-width="0.55" stroke-linejoin="round"/>
<polyline points="186.6,258.5 187.1,298.2 187.26,285.71 187.42,277.15 187.58,271.28 187.73,267.26 187.89,264.5 188.05,262.62 188.21,261.32 188.37,260.43 188.53,259.82" fill="none" stroke="#2b2b2b" stroke-width="0.55" stroke-linejoin="round"/>
<polyline points="190.3,258.5 190.8,294 190.96,282.83 191.12,275.18 191.28,269.93 191.43,266.33 191.59,263.87 191.75,262.18 191.91,261.02 192.07,260.23 192.23,259.68" fill="none" stroke="#2b2b2b" stroke-width="0.55" stroke-linejoin="round"/>
<polyline points="194,258.5 194.5,291.8 194.66,281.32 194.82,274.14 194.98,269.22 195.13,265.85 195.29,263.54 195.45,261.95 195.61,260.87 195.77,260.12 195.93,259.61" fill="none" stroke="#2b2b2b" stroke-width="0.55" stroke-linejoin="round"/>
<polyline points="197.7,258.5 198.2,290.8 198.36,280.64 198.52,273.67 198.68,268.9 198.83,265.63 198.99,263.39 199.15,261.85 199.31,260.79 199.47,260.07 199.63,259.58" fill="none" stroke="#2b2b2b" stroke-width="0.55" stroke-linejoin="round"/>
<polyline points="201.4,258.5 201.9,285.5 202.06,277.01 202.22,271.18 202.38,267.19 202.53,264.46 202.69,262.58 202.85,261.3 203.01,260.42 203.17,259.81 203.33,259.4" fill="none" stroke="#2b2b2b" stroke-width="0.55" stroke-linejoin="round"/>
<polyline points="205.1,258.5 205.6,287 205.76,278.03 205.92,271.89 206.08,267.68 206.23,264.79 206.39,262.81 206.55,261.45 206.71,260.52 206.87,259.89 207.03,259.45" fill="none" stroke="#2b2b2b" stroke-width="0.55" stroke-linejoin="round"/>
<polyline points="208.8,258.5 209.3,278 209.46,271.86 209.62,267.66 209.78,264.78 209.93,262.8 210.09,261.45 210.25,260.52 210.41,259.89 210.57,259.45 210.73,259.15" fill="none" stroke="#2b2b2b" stroke-width="0.55" stroke-linejoin="round"/>
<polyline points="212.5,258.5 213,275 213.16,269.81 213.32,266.25 213.48,263.81 213.63,262.14 213.79,261 213.95,260.21 214.11,259.67 214.27,259.3 214.43,259.05" fill="none" stroke="#2b2b2b" stroke-width="0.55" stroke-linejoin="round"/>
<polyline points="216.2,258.5 216.7,272.8 216.86,268.3 217.02,265.22 217.18,263.1 217.33,261.66 217.49,260.66 217.65,259.98 217.81,259.52 217.97,259.2 218.13,258.98" fill="none" stroke="#2b2b2b" stroke-width="0.55" stroke-linejoin="round"/>
<polyline points="219.9,258.5 220.4,267.5 220.56,264.67 220.72,262.73 220.88,261.4 221.03,260.49 221.19,259.86 221.35,259.43 221.51,259.14 221.67,258.94 221.83,258.8" fill="none" stroke="#2b2b2b" stroke-width="0.55" stroke-linejoin="round"/>
<polyline points="223.6,258.5 224.1,268 224.26,265.01 224.42,262.96 224.58,261.56 224.73,260.6 224.89,259.94 225.05,259.48 225.21,259.17 225.37,258.96 225.53,258.82" fill="none" stroke="#2b2b2b" stroke-width="0.55" stroke-linejoin="round"/>
<polyline points="227.3,258.5 227.8,268.6 227.96,265.42 228.12,263.24 228.28,261.75 228.43,260.73 228.59,260.03 228.75,259.55 228.91,259.22 229.07,258.99 229.23,258.84" fill="none" stroke="#2b2b2b" stroke-width="0.55" stroke-linejoin="round"/>
<polyline points="231,258.5 231.5,266.4 231.66,263.91 231.82,262.21 231.98,261.04 232.13,260.24 232.29,259.69 232.45,259.32 232.61,259.06 232.77,258.88 232.93,258.76" fill="none" stroke="#2b2b2b" stroke-width="0.55" stroke-linejoin="round"/>
<polyline points="234.7,258.5 235.2,266.5 235.36,263.98 235.52,262.26 235.68,261.08 235.83,260.27 235.99,259.71 236.15,259.33 236.31,259.07 236.47,258.89 236.63,258.77" fill="none" stroke="#2b2b2b" stroke-width="0.55" stroke-linejoin="round"/>
<polyline points="238.4,258.5 238.9,267.5 239.06,264.67 239.22,262.73 239.38,261.4 239.53,260.49 239.69,259.86 239.85,259.43 240.01,259.14 240.17,258.94 240.33,258.8" fill="none" stroke="#2b2b2b" stroke-width="0.55" stroke-linejoin="round"/>
<polyline points="163,258.88 163.7,258.28 164.4,258.72 165.1,258.86 165.8,258.36 166.5,258.3 167.2,258.91 167.9,258.61 168.6,258.29 169.3,258.69 170,258.33 170.7,258.3 171.4,258.05 172.1,258.73 172.8,258.87 173.5,258.62 174.2,258.9 174.9,258.07 175.6,258.26 176.3,258.48 177,258.91 177.7,258.91 178.4,258.4 179.1,258.28 179.8,258.44 180.5,258.49 181.2,258.89 181.9,258.21 182.6,258.77 183.3,258.71 184,258.79 184.7,258.75 185.4,258.6 186.1,258.35 186.8,258.34 187.5,258.38 188.2,258.75 188.9,258.12 189.6,258.23 190.3,258.73 191,258.27 191.7,258.11 192.4,258.08 193.1,258.55 193.8,258.34 194.5,258.93 195.2,258.85 195.9,258.94 196.6,258.29 197.3,258.13 198,258.14 198.7,258.5 199.4,258.69 200.1,258.45 200.8,258.26 201.5,258.43 202.2,258.61 202.9,258.66 203.6,258.72 204.3,258.81 205,258.65 205.7,258.16 206.4,258.81 207.1,258.31 207.8,258.56 208.5,258.39 209.2,258.71 209.9,258.23 210.6,258.27 211.3,258.27 212,258.19 212.7,258.85 213.4,258.57 214.1,258.34 214.8,258.41 215.5,258.94 216.2,258.51 216.9,258.26 217.6,258.78 218.3,258.64 219,258.94 219.7,258.14 220.4,258.48 221.1,258.79 221.8,258.81 222.5,258.87 223.2,258.09 223.9,258.31 224.6,258.16 225.3,258.22 226,258.93 226.7,258.57 227.4,258.89 228.1,258.39 228.8,258.83 229.5,258.45 230.2,258.28 230.9,258.75 231.6,258.9 232.3,258.15 233,258.59 233.7,258.61 234.4,258.25 235.1,258.38 235.8,258.18 236.5,258.23 237.2,258.28 237.9,258.59 238.6,258.64 239.3,258.23" fill="none" stroke="#151515" stroke-width="1" stroke-linejoin="round"/>
<polyline points="166.6,258.4 166.97,259.06 167.35,257.83 167.72,259.51 168.1,257.41 168.47,259.88 168.85,257.62 169.22,258.85 169.6,258.42" fill="none" stroke="#111" stroke-width="0.7" stroke-linejoin="round"/>
<line x1="167.96" y1="255.22" x2="167.96" y2="260.42" stroke="#1a1a1a" stroke-width="0.5"/>
<polyline points="170.3,258.41 170.67,259.1 171.05,257.64 171.42,259.56 171.8,257.23 172.17,260.11 172.55,257.7 172.92,259.06 173.3,258.39" fill="none" stroke="#111" stroke-width="0.7" stroke-linejoin="round"/>
<line x1="171.67" y1="254.23" x2="171.67" y2="261.16" stroke="#1a1a1a" stroke-width="0.5"/>
<polyline points="174,258.39 174.38,259.25 174.75,257.61 175.12,259.51 175.5,256.25 175.88,259.93 176.25,257.15 176.62,259.11 177,258.32" fill="none" stroke="#111" stroke-width="0.7" stroke-linejoin="round"/>
<line x1="175.41" y1="255.36" x2="175.41" y2="259.71" stroke="#1a1a1a" stroke-width="0.5"/>
<polyline points="177.7,258.32 178.07,259.43 178.45,257.59 178.82,260.33 179.2,256.67 179.57,260.2 179.95,257.54 180.32,259.13 180.7,258.34" fill="none" stroke="#111" stroke-width="0.7" stroke-linejoin="round"/>
<line x1="179.53" y1="255.14" x2="179.53" y2="260.98" stroke="#1a1a1a" stroke-width="0.5"/>
<polyline points="181.4,258.26 181.78,259.17 182.15,257.42 182.53,261.03 182.9,255.47 183.28,260.43 183.65,257.49 184.03,259.59 184.4,258.33" fill="none" stroke="#111" stroke-width="0.7" stroke-linejoin="round"/>
<line x1="183.21" y1="252.67" x2="183.21" y2="262.25" stroke="#1a1a1a" stroke-width="0.5"/>
<polyline points="185.1,258.35 185.47,258.97 185.85,257.59 186.22,260.12 186.6,256.61 186.97,259.54 187.35,257.71 187.72,259.03 188.1,258.37" fill="none" stroke="#111" stroke-width="0.7" stroke-linejoin="round"/>
<line x1="186.45" y1="255.85" x2="186.45" y2="259.98" stroke="#1a1a1a" stroke-width="0.5"/>
<polyline points="188.8,258.27 189.18,259.07 189.55,257.05 189.93,260.71 190.3,256.96 190.68,260.81 191.05,257.46 191.43,259.37 191.8,258.32" fill="none" stroke="#111" stroke-width="0.7" stroke-linejoin="round"/>
<line x1="190.36" y1="254.03" x2="190.36" y2="261.07" stroke="#1a1a1a" stroke-width="0.5"/>
<polyline points="192.5,258.34 192.88,259.34 193.25,257.25 193.62,260.18 194,257.09 194.38,260.39 194.75,257.22 195.12,259.12 195.5,258.3" fill="none" stroke="#111" stroke-width="0.7" stroke-linejoin="round"/>
<line x1="194.2" y1="253.83" x2="194.2" y2="260.31" stroke="#1a1a1a" stroke-width="0.5"/>
<polyline points="196.2,258.38 196.57,259.04 196.95,257.34 197.32,259.7 197.7,256.64 198.07,260.16 198.45,257.66 198.82,259.28 199.2,258.39" fill="none" stroke="#111" stroke-width="0.7" stroke-linejoin="round"/>
<line x1="197.86" y1="253.08" x2="197.86" y2="260.95" stroke="#1a1a1a" stroke-width="0.5"/>
<polyline points="199.9,258.38 200.28,258.99 200.65,257.32 201.03,259.43 201.4,256.71 201.78,260.13 202.15,257.45 202.53,259.14 202.9,258.41" fill="none" stroke="#111" stroke-width="0.7" stroke-linejoin="round"/>
<line x1="201.78" y1="255.14" x2="201.78" y2="261.08" stroke="#1a1a1a" stroke-width="0.5"/>
<polyline points="203.6,258.35 203.97,259.59 204.35,256.5 204.72,259.99 205.1,256.27 205.47,260.96 205.85,257.3 206.22,259.65 206.6,258.33" fill="none" stroke="#111" stroke-width="0.7" stroke-linejoin="round"/>
<line x1="205.33" y1="254.19" x2="205.33" y2="261.6" stroke="#1a1a1a" stroke-width="0.5"/>
<polyline points="207.3,258.34 207.68,259.27 208.05,256.93 208.43,260.36 208.8,256.78 209.18,260.17 209.55,257.29 209.93,259.68 210.3,258.28" fill="none" stroke="#111" stroke-width="0.7" stroke-linejoin="round"/>
<line x1="209.11" y1="254.06" x2="209.11" y2="262.44" stroke="#1a1a1a" stroke-width="0.5"/>
<polyline points="211,258.37 211.38,259.12 211.75,257.63 212.12,260.13 212.5,256.91 212.88,259.87 213.25,257.29 213.62,258.92 214,258.34" fill="none" stroke="#111" stroke-width="0.7" stroke-linejoin="round"/>
<line x1="212.57" y1="255.19" x2="212.57" y2="260.95" stroke="#1a1a1a" stroke-width="0.5"/>
<polyline points="214.7,258.32 215.07,259.16 215.45,257.52 215.82,260.22 216.2,256.85 216.57,259.64 216.95,257.25 217.32,258.94 217.7,258.33" fill="none" stroke="#111" stroke-width="0.7" stroke-linejoin="round"/>
<line x1="215.93" y1="254.09" x2="215.93" y2="261.62" stroke="#1a1a1a" stroke-width="0.5"/>
<polyline points="218.4,258.31 218.78,259.18 219.15,257.62 219.53,259.73 219.9,256.88 220.28,260.43 220.65,257.24 221.03,259.28 221.4,258.29" fill="none" stroke="#111" stroke-width="0.7" stroke-linejoin="round"/>
<line x1="219.52" y1="254.53" x2="219.52" y2="261.52" stroke="#1a1a1a" stroke-width="0.5"/>
<polyline points="222.1,258.42 222.47,258.98 222.85,257.84 223.22,259.6 223.6,257.33 223.97,259.79 224.35,257.55 224.72,258.92 225.1,258.37" fill="none" stroke="#111" stroke-width="0.7" stroke-linejoin="round"/>
<line x1="223.53" y1="256.02" x2="223.53" y2="261.03" stroke="#1a1a1a" stroke-width="0.5"/>
<polyline points="225.8,258.39 226.18,258.96 226.55,257.33 226.93,260.31 227.3,256.47 227.68,259.86 228.05,257.6 228.43,258.92 228.8,258.35" fill="none" stroke="#111" stroke-width="0.7" stroke-linejoin="round"/>
<line x1="227.31" y1="254.94" x2="227.31" y2="260.93" stroke="#1a1a1a" stroke-width="0.5"/>
<polyline points="229.5,258.3 229.88,259.33 230.25,257.48 230.62,260.61 231,257.14 231.38,260.2 231.75,257.35 232.12,259.09 232.5,258.39" fill="none" stroke="#111" stroke-width="0.7" stroke-linejoin="round"/>
<line x1="231.2" y1="255.52" x2="231.2" y2="261.07" stroke="#1a1a1a" stroke-width="0.5"/>
<polyline points="233.2,258.34 233.57,259.26 233.95,256.77 234.32,260.69 234.7,255.69 235.07,261.14 235.45,257.24 235.82,259.32 236.2,258.32" fill="none" stroke="#111" stroke-width="0.7" stroke-linejoin="round"/>
<line x1="234.24" y1="250.83" x2="234.24" y2="262.56" stroke="#1a1a1a" stroke-width="0.5"/>
<polyline points="236.9,258.38 237.27,259.54 237.65,256.82 238.02,260.41 238.4,255.83 238.77,260.39 239.15,257.32 239.52,259.12 239.9,258.35" fill="none" stroke="#111" stroke-width="0.7" stroke-linejoin="round"/>
<line x1="237.93" y1="253.76" x2="237.93" y2="262.05" stroke="#1a1a1a" stroke-width="0.5"/>
<line x1="206.9" y1="248.1" x2="206.9" y2="262" stroke="#2b2b2b" stroke-width="0.55"/>
<line x1="217.5" y1="251.3" x2="217.5" y2="262" stroke="#2b2b2b" stroke-width="0.55"/>
<line x1="222.75" y1="250" x2="222.75" y2="262" stroke="#2b2b2b" stroke-width="0.55"/>
<line x1="226.25" y1="247.5" x2="226.25" y2="262" stroke="#2b2b2b" stroke-width="0.55"/>
<line x1="230.6" y1="246.9" x2="230.6" y2="262" stroke="#2b2b2b" stroke-width="0.55"/>
<line x1="234.4" y1="251.9" x2="234.4" y2="262" stroke="#2b2b2b" stroke-width="0.55"/>
<line x1="238.1" y1="253" x2="238.1" y2="262" stroke="#2b2b2b" stroke-width="0.55"/>
<line x1="165.5" y1="254.5" x2="165.5" y2="263" stroke="#2b2b2b" stroke-width="0.6"/>
<line x1="164.2" y1="256" x2="164.2" y2="261.5" stroke="#2b2b2b" stroke-width="0.6"/>
<polyline points="163.3,372.4 164.42,372.21 165.98,371.96 167.83,371.66 169.8,371.33 171.74,370.97 173.5,370.6 175.09,370.22 176.64,369.8 178.16,369.37 179.67,368.92 181.18,368.46 182.7,368 184.29,367.54 185.94,367.09 187.59,366.62 189.17,366.14 190.63,365.63 191.9,365.1 192.93,364.54 193.77,363.97 194.48,363.38 195.13,362.76 195.78,362.1 196.5,361.4 197.28,360.66 198.06,359.89 198.85,359.07 199.64,358.23 200.42,357.34 201.2,356.4 201.97,355.41 202.74,354.38 203.51,353.3 204.27,352.19 205.03,351.05 205.8,349.9 206.57,348.71 207.33,347.46 208.1,346.19 208.87,344.93 209.63,343.69 210.4,342.5 211.17,341.36 211.93,340.24 212.7,339.15 213.47,338.09 214.23,337.07 215,336.1 215.77,335.17 216.53,334.27 217.3,333.41 218.07,332.59 218.83,331.82 219.6,331.1 220.37,330.44 221.13,329.83 221.9,329.28 222.67,328.76 223.43,328.27 224.2,327.8 224.97,327.36 225.73,326.96 226.49,326.59 227.26,326.24 228.03,325.91 228.8,325.6 229.57,325.32 230.33,325.07 231.09,324.85 231.87,324.63 232.67,324.38 233.5,324.1 234.43,323.75 235.48,323.34 236.54,322.91 237.54,322.5 238.39,322.15 239,321.9" fill="none" stroke="#2e2e2e" stroke-width="0.62" stroke-linejoin="round"/>
<rect x="165.3" y="373.55" width="2.4" height="2.4" fill="#0a0a0a"/>
<rect x="169.05" y="371.55" width="2.4" height="2.4" fill="#0a0a0a"/>
<rect x="172.8" y="368.05" width="2.4" height="2.4" fill="#0a0a0a"/>
<rect x="176.3" y="371.8" width="2.4" height="2.4" fill="#0a0a0a"/>
<rect x="180.05" y="367.8" width="2.4" height="2.4" fill="#0a0a0a"/>
<rect x="183.8" y="366.8" width="2.4" height="2.4" fill="#0a0a0a"/>
<rect x="187.55" y="364.55" width="2.4" height="2.4" fill="#0a0a0a"/>
<rect x="191.05" y="364.05" width="2.4" height="2.4" fill="#0a0a0a"/>
<rect x="194.8" y="359.05" width="2.4" height="2.4" fill="#0a0a0a"/>
<rect x="198.55" y="350.3" width="2.4" height="2.4" fill="#0a0a0a"/>
<rect x="202.3" y="355.8" width="2.4" height="2.4" fill="#0a0a0a"/>
<rect x="206.05" y="349.55" width="2.4" height="2.4" fill="#0a0a0a"/>
<rect x="209.8" y="343.8" width="2.4" height="2.4" fill="#0a0a0a"/>
<rect x="213.8" y="333.8" width="2.4" height="2.4" fill="#0a0a0a"/>
<rect x="217.55" y="335.3" width="2.4" height="2.4" fill="#0a0a0a"/>
<rect x="221.55" y="325.55" width="2.4" height="2.4" fill="#0a0a0a"/>
<rect x="225.55" y="323.55" width="2.4" height="2.4" fill="#0a0a0a"/>
<rect x="229.55" y="323.3" width="2.4" height="2.4" fill="#0a0a0a"/>
<rect x="233.3" y="322.05" width="2.4" height="2.4" fill="#0a0a0a"/>
<rect x="237.05" y="320.3" width="2.4" height="2.4" fill="#0a0a0a"/>
<rect x="155.25" y="244.75" width="95" height="136.25" fill="none" stroke="#6c6c6c" stroke-width="0.78"/>
<line x1="155.25" y1="313.1" x2="250.25" y2="313.1" stroke="#505050" stroke-width="0.95"/>
<text x="162.75" y="243.15" font-size="6.4" text-anchor="middle" fill="#1c1c1c" textLength="3.6" lengthAdjust="spacingAndGlyphs" stroke="#1c1c1c" stroke-width="0.13">0</text>
<line x1="162.75" y1="244.75" x2="162.75" y2="246.75" stroke="#444" stroke-width="0.8"/>
<text x="192" y="243.15" font-size="6.4" text-anchor="middle" fill="#1c1c1c" textLength="7.2" lengthAdjust="spacingAndGlyphs" stroke="#1c1c1c" stroke-width="0.13">20</text>
<line x1="192" y1="244.75" x2="192" y2="246.75" stroke="#444" stroke-width="0.8"/>
<text x="221.25" y="243.15" font-size="6.4" text-anchor="middle" fill="#1c1c1c" textLength="7.2" lengthAdjust="spacingAndGlyphs" stroke="#1c1c1c" stroke-width="0.13">40</text>
<line x1="221.25" y1="244.75" x2="221.25" y2="246.75" stroke="#444" stroke-width="0.8"/>
<line x1="162.75" y1="244.75" x2="162.75" y2="246.05" stroke="#444" stroke-width="0.6"/>
<line x1="177.38" y1="244.75" x2="177.38" y2="246.05" stroke="#444" stroke-width="0.6"/>
<line x1="192" y1="244.75" x2="192" y2="246.05" stroke="#444" stroke-width="0.6"/>
<line x1="206.62" y1="244.75" x2="206.62" y2="246.05" stroke="#444" stroke-width="0.6"/>
<line x1="221.25" y1="244.75" x2="221.25" y2="246.05" stroke="#444" stroke-width="0.6"/>
<line x1="235.88" y1="244.75" x2="235.88" y2="246.05" stroke="#444" stroke-width="0.6"/>
<text x="151.95" y="260.8" font-size="6.4" text-anchor="end" fill="#1c1c1c" textLength="12.6" lengthAdjust="spacingAndGlyphs" stroke="#1c1c1c" stroke-width="0.13">0.00</text>
<line x1="153.35" y1="258.5" x2="155.25" y2="258.5" stroke="#444" stroke-width="0.8"/>
<line x1="248.35" y1="258.5" x2="250.25" y2="258.5" stroke="#444" stroke-width="0.8"/>
<text x="151.95" y="278.15" font-size="6.4" text-anchor="end" fill="#1c1c1c" textLength="14.75" lengthAdjust="spacingAndGlyphs" stroke="#1c1c1c" stroke-width="0.13">-0.04</text>
<line x1="153.35" y1="275.85" x2="155.25" y2="275.85" stroke="#444" stroke-width="0.8"/>
<line x1="248.35" y1="275.85" x2="250.25" y2="275.85" stroke="#444" stroke-width="0.8"/>
<text x="151.95" y="295.5" font-size="6.4" text-anchor="end" fill="#1c1c1c" textLength="14.75" lengthAdjust="spacingAndGlyphs" stroke="#1c1c1c" stroke-width="0.13">-0.08</text>
<line x1="153.35" y1="293.2" x2="155.25" y2="293.2" stroke="#444" stroke-width="0.8"/>
<line x1="248.35" y1="293.2" x2="250.25" y2="293.2" stroke="#444" stroke-width="0.8"/>
<text x="151.95" y="312.85" font-size="6.4" text-anchor="end" fill="#1c1c1c" textLength="14.75" lengthAdjust="spacingAndGlyphs" stroke="#1c1c1c" stroke-width="0.13">-0.12</text>
<line x1="153.35" y1="310.55" x2="155.25" y2="310.55" stroke="#444" stroke-width="0.8"/>
<line x1="248.35" y1="310.55" x2="250.25" y2="310.55" stroke="#444" stroke-width="0.8"/>
<line x1="154.15" y1="249.82" x2="155.25" y2="249.82" stroke="#444" stroke-width="0.6"/>
<line x1="249.15" y1="249.82" x2="250.25" y2="249.82" stroke="#444" stroke-width="0.6"/>
<line x1="154.15" y1="267.18" x2="155.25" y2="267.18" stroke="#444" stroke-width="0.6"/>
<line x1="249.15" y1="267.18" x2="250.25" y2="267.18" stroke="#444" stroke-width="0.6"/>
<line x1="154.15" y1="284.52" x2="155.25" y2="284.52" stroke="#444" stroke-width="0.6"/>
<line x1="249.15" y1="284.52" x2="250.25" y2="284.52" stroke="#444" stroke-width="0.6"/>
<line x1="154.15" y1="301.88" x2="155.25" y2="301.88" stroke="#444" stroke-width="0.6"/>
<line x1="249.15" y1="301.88" x2="250.25" y2="301.88" stroke="#444" stroke-width="0.6"/>
<text x="161.25" y="389.5" font-size="6.4" text-anchor="middle" fill="#1c1c1c" textLength="9" lengthAdjust="spacingAndGlyphs" stroke="#1c1c1c" stroke-width="0.13">0.0</text>
<line x1="161.25" y1="379" x2="161.25" y2="381.3" stroke="#444" stroke-width="0.8"/>
<line x1="161.25" y1="313.1" x2="161.25" y2="315.1" stroke="#444" stroke-width="0.8"/>
<text x="188.3" y="389.5" font-size="6.4" text-anchor="middle" fill="#1c1c1c" textLength="9" lengthAdjust="spacingAndGlyphs" stroke="#1c1c1c" stroke-width="0.13">0.5</text>
<line x1="188.3" y1="379" x2="188.3" y2="381.3" stroke="#444" stroke-width="0.8"/>
<line x1="188.3" y1="313.1" x2="188.3" y2="315.1" stroke="#444" stroke-width="0.8"/>
<text x="215.35" y="389.5" font-size="6.4" text-anchor="middle" fill="#1c1c1c" textLength="9" lengthAdjust="spacingAndGlyphs" stroke="#1c1c1c" stroke-width="0.13">1.0</text>
<line x1="215.35" y1="379" x2="215.35" y2="381.3" stroke="#444" stroke-width="0.8"/>
<line x1="215.35" y1="313.1" x2="215.35" y2="315.1" stroke="#444" stroke-width="0.8"/>
<text x="242.4" y="389.5" font-size="6.4" text-anchor="middle" fill="#1c1c1c" textLength="9" lengthAdjust="spacingAndGlyphs" stroke="#1c1c1c" stroke-width="0.13">1.5</text>
<line x1="242.4" y1="379" x2="242.4" y2="381.3" stroke="#444" stroke-width="0.8"/>
<line x1="242.4" y1="313.1" x2="242.4" y2="315.1" stroke="#444" stroke-width="0.8"/>
<line x1="161.25" y1="379.7" x2="161.25" y2="381" stroke="#444" stroke-width="0.6"/>
<line x1="161.25" y1="313.1" x2="161.25" y2="314.4" stroke="#444" stroke-width="0.6"/>
<line x1="174.78" y1="379.7" x2="174.78" y2="381" stroke="#444" stroke-width="0.6"/>
<line x1="174.78" y1="313.1" x2="174.78" y2="314.4" stroke="#444" stroke-width="0.6"/>
<line x1="188.3" y1="379.7" x2="188.3" y2="381" stroke="#444" stroke-width="0.6"/>
<line x1="188.3" y1="313.1" x2="188.3" y2="314.4" stroke="#444" stroke-width="0.6"/>
<line x1="201.82" y1="379.7" x2="201.82" y2="381" stroke="#444" stroke-width="0.6"/>
<line x1="201.82" y1="313.1" x2="201.82" y2="314.4" stroke="#444" stroke-width="0.6"/>
<line x1="215.35" y1="379.7" x2="215.35" y2="381" stroke="#444" stroke-width="0.6"/>
<line x1="215.35" y1="313.1" x2="215.35" y2="314.4" stroke="#444" stroke-width="0.6"/>
<line x1="228.88" y1="379.7" x2="228.88" y2="381" stroke="#444" stroke-width="0.6"/>
<line x1="228.88" y1="313.1" x2="228.88" y2="314.4" stroke="#444" stroke-width="0.6"/>
<line x1="242.4" y1="379.7" x2="242.4" y2="381" stroke="#444" stroke-width="0.6"/>
<line x1="242.4" y1="313.1" x2="242.4" y2="314.4" stroke="#444" stroke-width="0.6"/>
<text x="151.95" y="322.3" font-size="6.4" text-anchor="end" fill="#1c1c1c" textLength="3.6" lengthAdjust="spacingAndGlyphs" stroke="#1c1c1c" stroke-width="0.13">0</text>
<line x1="153.35" y1="320" x2="155.25" y2="320" stroke="#444" stroke-width="0.8"/>
<line x1="248.35" y1="320" x2="250.25" y2="320" stroke="#444" stroke-width="0.8"/>
<text x="151.95" y="335.9" font-size="6.4" text-anchor="end" fill="#1c1c1c" textLength="5.75" lengthAdjust="spacingAndGlyphs" stroke="#1c1c1c" stroke-width="0.13">-2</text>
<line x1="153.35" y1="333.6" x2="155.25" y2="333.6" stroke="#444" stroke-width="0.8"/>
<line x1="248.35" y1="333.6" x2="250.25" y2="333.6" stroke="#444" stroke-width="0.8"/>
<text x="151.95" y="349.55" font-size="6.4" text-anchor="end" fill="#1c1c1c" textLength="5.75" lengthAdjust="spacingAndGlyphs" stroke="#1c1c1c" stroke-width="0.13">-4</text>
<line x1="153.35" y1="347.25" x2="155.25" y2="347.25" stroke="#444" stroke-width="0.8"/>
<line x1="248.35" y1="347.25" x2="250.25" y2="347.25" stroke="#444" stroke-width="0.8"/>
<text x="151.95" y="363.3" font-size="6.4" text-anchor="end" fill="#1c1c1c" textLength="5.75" lengthAdjust="spacingAndGlyphs" stroke="#1c1c1c" stroke-width="0.13">-6</text>
<line x1="153.35" y1="361" x2="155.25" y2="361" stroke="#444" stroke-width="0.8"/>
<line x1="248.35" y1="361" x2="250.25" y2="361" stroke="#444" stroke-width="0.8"/>
<text x="151.95" y="376.7" font-size="6.4" text-anchor="end" fill="#1c1c1c" textLength="5.75" lengthAdjust="spacingAndGlyphs" stroke="#1c1c1c" stroke-width="0.13">-8</text>
<line x1="153.35" y1="374.4" x2="155.25" y2="374.4" stroke="#444" stroke-width="0.8"/>
<line x1="248.35" y1="374.4" x2="250.25" y2="374.4" stroke="#444" stroke-width="0.8"/>
<line x1="154.15" y1="326.8" x2="155.25" y2="326.8" stroke="#444" stroke-width="0.6"/>
<line x1="249.15" y1="326.8" x2="250.25" y2="326.8" stroke="#444" stroke-width="0.6"/>
<line x1="154.15" y1="340.4" x2="155.25" y2="340.4" stroke="#444" stroke-width="0.6"/>
<line x1="249.15" y1="340.4" x2="250.25" y2="340.4" stroke="#444" stroke-width="0.6"/>
<line x1="154.15" y1="354" x2="155.25" y2="354" stroke="#444" stroke-width="0.6"/>
<line x1="249.15" y1="354" x2="250.25" y2="354" stroke="#444" stroke-width="0.6"/>
<line x1="154.15" y1="367.6" x2="155.25" y2="367.6" stroke="#444" stroke-width="0.6"/>
<line x1="249.15" y1="367.6" x2="250.25" y2="367.6" stroke="#444" stroke-width="0.6"/>
<text x="244.55" y="308" text-anchor="end" fill="#0c0c0c" stroke="#0c0c0c" stroke-width="0.15"><tspan font-size="15">D</tspan><tspan font-size="9.4">92-195</tspan></text>
</g>
<g>
<polyline points="300.6,264.75 300.95,271.3 301.35,264.75 301.8,253.5 302.2,258.58 302.5,261.36 302.8,262.89 303.1,263.73 303.4,264.19 303.7,264.44" fill="none" stroke="#1a1a1a" stroke-width="0.6" stroke-linejoin="round"/>
<polyline points="305.33,264.75 305.68,270.3 306.08,264.75 306.53,256.3 306.93,260.11 307.23,262.2 307.53,263.35 307.83,263.98 308.13,264.33 308.43,264.52" fill="none" stroke="#1a1a1a" stroke-width="0.6" stroke-linejoin="round"/>
<polyline points="310.06,264.75 310.41,270.6 310.81,264.75 311.26,258.8 311.66,261.48 311.96,262.96 312.26,263.77 312.56,264.21 312.86,264.45 313.16,264.59" fill="none" stroke="#1a1a1a" stroke-width="0.6" stroke-linejoin="round"/>
<polyline points="314.79,264.75 315.14,273.1 315.54,264.75 315.99,256 316.39,259.95 316.69,262.11 316.99,263.3 317.29,263.96 317.59,264.31 317.89,264.51" fill="none" stroke="#1a1a1a" stroke-width="0.6" stroke-linejoin="round"/>
<polyline points="319.52,264.75 319.87,269.4 320.27,264.75 320.72,256.9 321.12,260.44 321.42,262.39 321.72,263.45 322.02,264.04 322.32,264.36 322.62,264.54" fill="none" stroke="#1a1a1a" stroke-width="0.6" stroke-linejoin="round"/>
<polyline points="324.25,264.75 324.6,270 325,264.75 325.45,258 325.85,261.05 326.15,262.72 326.45,263.63 326.75,264.14 327.05,264.41 327.35,264.57" fill="none" stroke="#1a1a1a" stroke-width="0.6" stroke-linejoin="round"/>
<polyline points="328.98,264.75 329.33,269.4 329.73,264.75 330.18,252.5 330.58,258.03 330.88,261.06 331.18,262.73 331.48,263.64 331.78,264.14 332.08,264.42" fill="none" stroke="#1a1a1a" stroke-width="0.6" stroke-linejoin="round"/>
<polyline points="333.71,264.75 334.06,269.4 334.46,264.75 334.91,253.8 335.31,258.74 335.61,261.45 335.91,262.94 336.21,263.76 336.51,264.2 336.81,264.45" fill="none" stroke="#1a1a1a" stroke-width="0.6" stroke-linejoin="round"/>
<polyline points="338.44,264.75 338.79,268.8 339.19,264.75 339.64,253.1 340.04,258.36 340.34,261.24 340.64,262.82 340.94,263.69 341.24,264.17 341.54,264.43" fill="none" stroke="#1a1a1a" stroke-width="0.6" stroke-linejoin="round"/>
<polyline points="343.17,264.75 343.52,270 343.92,264.75 344.37,255.6 344.77,259.73 345.07,261.99 345.37,263.24 345.67,263.92 345.97,264.29 346.27,264.5" fill="none" stroke="#1a1a1a" stroke-width="0.6" stroke-linejoin="round"/>
<polyline points="347.9,264.75 348.25,270.3 348.65,264.75 349.1,256.3 349.5,260.11 349.8,262.2 350.1,263.35 350.4,263.98 350.7,264.33 351,264.52" fill="none" stroke="#1a1a1a" stroke-width="0.6" stroke-linejoin="round"/>
<polyline points="352.63,264.75 352.98,269 353.38,264.75 353.83,256.9 354.23,260.44 354.53,262.39 354.83,263.45 355.13,264.04 355.43,264.36 355.73,264.54" fill="none" stroke="#1a1a1a" stroke-width="0.6" stroke-linejoin="round"/>
<polyline points="357.36,264.75 357.71,271 358.11,264.75 358.56,257.3 358.96,260.66 359.26,262.51 359.56,263.52 359.86,264.07 360.16,264.38 360.46,264.55" fill="none" stroke="#1a1a1a" stroke-width="0.6" stroke-linejoin="round"/>
<polyline points="362.09,264.75 362.44,270 362.84,264.75 363.29,258.1 363.69,261.1 363.99,262.75 364.29,263.65 364.59,264.15 364.89,264.42 365.19,264.57" fill="none" stroke="#1a1a1a" stroke-width="0.6" stroke-linejoin="round"/>
<polyline points="366.82,264.75 367.17,271.5 367.57,264.75 368.02,260 368.42,262.14 368.72,263.32 369.02,263.96 369.32,264.32 369.62,264.51 369.92,264.62" fill="none" stroke="#1a1a1a" stroke-width="0.6" stroke-linejoin="round"/>
<polyline points="294.7,264.87 295.4,264.96 296.1,264.88 296.8,264.61 297.5,264.78 298.2,264.71 298.9,264.92 299.6,264.76 300.3,264.61 301,264.84 301.7,265.03 302.4,264.58 303.1,264.98 303.8,264.46 304.5,264.61 305.2,264.59 305.9,264.9 306.6,265.02 307.3,264.9 308,264.65 308.7,264.98 309.4,264.65 310.1,264.59 310.8,264.99 311.5,264.83 312.2,264.87 312.9,264.85 313.6,265.04 314.3,264.73 315,264.95 315.7,264.87 316.4,264.96 317.1,264.71 317.8,264.88 318.5,264.79 319.2,264.63 319.9,264.58 320.6,264.82 321.3,264.5 322,265 322.7,264.54 323.4,264.47 324.1,264.51 324.8,265.01 325.5,264.66 326.2,264.54 326.9,264.47 327.6,264.47 328.3,264.87 329,264.83 329.7,264.87 330.4,264.89 331.1,264.49 331.8,264.8 332.5,264.67 333.2,264.94 333.9,264.94 334.6,264.98 335.3,264.49 336,264.97 336.7,265 337.4,265.02 338.1,264.51 338.8,264.57 339.5,264.52 340.2,264.47 340.9,264.96 341.6,264.94 342.3,264.83 343,264.95 343.7,264.83 344.4,264.62 345.1,264.51 345.8,264.51 346.5,264.9 347.2,264.57 347.9,264.64 348.6,264.7 349.3,264.46 350,264.6 350.7,264.62 351.4,264.88 352.1,264.67 352.8,264.64 353.5,265.03 354.2,264.75 354.9,264.96 355.6,264.82 356.3,264.47 357,264.7 357.7,264.71 358.4,264.91 359.1,264.66 359.8,264.87 360.5,264.77 361.2,264.58 361.9,264.97 362.6,264.5 363.3,264.94 364,264.55 364.7,264.45 365.4,264.57 366.1,264.91 366.8,265.04 367.5,264.45 368.2,264.74 368.9,264.74 369.6,264.93 370.3,264.56 371,264.75" fill="none" stroke="#151515" stroke-width="1" stroke-linejoin="round"/>
<line x1="295.6" y1="262" x2="295.6" y2="268" stroke="#2b2b2b" stroke-width="0.55"/>
<rect x="294.3" y="342.05" width="2.4" height="2.4" fill="#0a0a0a"/>
<rect x="299.05" y="324.3" width="2.4" height="2.4" fill="#0a0a0a"/>
<rect x="304.05" y="330.05" width="2.4" height="2.4" fill="#0a0a0a"/>
<rect x="309.05" y="337.05" width="2.4" height="2.4" fill="#0a0a0a"/>
<rect x="314.05" y="334.8" width="2.4" height="2.4" fill="#0a0a0a"/>
<rect x="318.8" y="334.05" width="2.4" height="2.4" fill="#0a0a0a"/>
<rect x="323.8" y="336.8" width="2.4" height="2.4" fill="#0a0a0a"/>
<rect x="328.8" y="328.05" width="2.4" height="2.4" fill="#0a0a0a"/>
<rect x="334.05" y="325.8" width="2.4" height="2.4" fill="#0a0a0a"/>
<rect x="339.05" y="324.05" width="2.4" height="2.4" fill="#0a0a0a"/>
<rect x="344.05" y="329.05" width="2.4" height="2.4" fill="#0a0a0a"/>
<rect x="349.3" y="330.55" width="2.4" height="2.4" fill="#0a0a0a"/>
<rect x="354.3" y="334.3" width="2.4" height="2.4" fill="#0a0a0a"/>
<rect x="359.55" y="331.55" width="2.4" height="2.4" fill="#0a0a0a"/>
<rect x="364.8" y="331.3" width="2.4" height="2.4" fill="#0a0a0a"/>
<rect x="370.05" y="337.3" width="2.4" height="2.4" fill="#0a0a0a"/>
<rect x="284.4" y="244.75" width="95" height="136.5" fill="none" stroke="#6c6c6c" stroke-width="0.78"/>
<line x1="284.4" y1="313.1" x2="379.4" y2="313.1" stroke="#505050" stroke-width="0.95"/>
<text x="294" y="243.15" font-size="6.4" text-anchor="middle" fill="#1c1c1c" textLength="3.6" lengthAdjust="spacingAndGlyphs" stroke="#1c1c1c" stroke-width="0.13">0</text>
<line x1="294" y1="244.75" x2="294" y2="246.75" stroke="#444" stroke-width="0.8"/>
<text x="332.12" y="243.15" font-size="6.4" text-anchor="middle" fill="#1c1c1c" textLength="7.2" lengthAdjust="spacingAndGlyphs" stroke="#1c1c1c" stroke-width="0.13">20</text>
<line x1="332.12" y1="244.75" x2="332.12" y2="246.75" stroke="#444" stroke-width="0.8"/>
<text x="370.24" y="243.15" font-size="6.4" text-anchor="middle" fill="#1c1c1c" textLength="7.2" lengthAdjust="spacingAndGlyphs" stroke="#1c1c1c" stroke-width="0.13">40</text>
<line x1="370.24" y1="244.75" x2="370.24" y2="246.75" stroke="#444" stroke-width="0.8"/>
<line x1="294" y1="244.75" x2="294" y2="246.05" stroke="#444" stroke-width="0.6"/>
<line x1="313.06" y1="244.75" x2="313.06" y2="246.05" stroke="#444" stroke-width="0.6"/>
<line x1="332.12" y1="244.75" x2="332.12" y2="246.05" stroke="#444" stroke-width="0.6"/>
<line x1="351.18" y1="244.75" x2="351.18" y2="246.05" stroke="#444" stroke-width="0.6"/>
<line x1="370.24" y1="244.75" x2="370.24" y2="246.05" stroke="#444" stroke-width="0.6"/>
<text x="281.1" y="267.05" font-size="6.4" text-anchor="end" fill="#1c1c1c" textLength="12.6" lengthAdjust="spacingAndGlyphs" stroke="#1c1c1c" stroke-width="0.13">0.00</text>
<line x1="282.5" y1="264.75" x2="284.4" y2="264.75" stroke="#444" stroke-width="0.8"/>
<line x1="377.5" y1="264.75" x2="379.4" y2="264.75" stroke="#444" stroke-width="0.8"/>
<text x="281.1" y="287.3" font-size="6.4" text-anchor="end" fill="#1c1c1c" textLength="14.75" lengthAdjust="spacingAndGlyphs" stroke="#1c1c1c" stroke-width="0.13">-0.05</text>
<line x1="282.5" y1="285" x2="284.4" y2="285" stroke="#444" stroke-width="0.8"/>
<line x1="377.5" y1="285" x2="379.4" y2="285" stroke="#444" stroke-width="0.8"/>
<text x="281.1" y="307.55" font-size="6.4" text-anchor="end" fill="#1c1c1c" textLength="14.75" lengthAdjust="spacingAndGlyphs" stroke="#1c1c1c" stroke-width="0.13">-0.10</text>
<line x1="282.5" y1="305.25" x2="284.4" y2="305.25" stroke="#444" stroke-width="0.8"/>
<line x1="377.5" y1="305.25" x2="379.4" y2="305.25" stroke="#444" stroke-width="0.8"/>
<line x1="283.3" y1="254.62" x2="284.4" y2="254.62" stroke="#444" stroke-width="0.6"/>
<line x1="378.3" y1="254.62" x2="379.4" y2="254.62" stroke="#444" stroke-width="0.6"/>
<line x1="283.3" y1="274.88" x2="284.4" y2="274.88" stroke="#444" stroke-width="0.6"/>
<line x1="378.3" y1="274.88" x2="379.4" y2="274.88" stroke="#444" stroke-width="0.6"/>
<line x1="283.3" y1="295.12" x2="284.4" y2="295.12" stroke="#444" stroke-width="0.6"/>
<line x1="378.3" y1="295.12" x2="379.4" y2="295.12" stroke="#444" stroke-width="0.6"/>
<text x="294.1" y="389.75" font-size="6.4" text-anchor="middle" fill="#1c1c1c" textLength="9" lengthAdjust="spacingAndGlyphs" stroke="#1c1c1c" stroke-width="0.13">0.0</text>
<line x1="294.1" y1="379.25" x2="294.1" y2="381.55" stroke="#444" stroke-width="0.8"/>
<line x1="294.1" y1="313.1" x2="294.1" y2="315.1" stroke="#444" stroke-width="0.8"/>
<text x="332.15" y="389.75" font-size="6.4" text-anchor="middle" fill="#1c1c1c" textLength="9" lengthAdjust="spacingAndGlyphs" stroke="#1c1c1c" stroke-width="0.13">1.0</text>
<line x1="332.15" y1="379.25" x2="332.15" y2="381.55" stroke="#444" stroke-width="0.8"/>
<line x1="332.15" y1="313.1" x2="332.15" y2="315.1" stroke="#444" stroke-width="0.8"/>
<text x="370.2" y="389.75" font-size="6.4" text-anchor="middle" fill="#1c1c1c" textLength="9" lengthAdjust="spacingAndGlyphs" stroke="#1c1c1c" stroke-width="0.13">2.0</text>
<line x1="370.2" y1="379.25" x2="370.2" y2="381.55" stroke="#444" stroke-width="0.8"/>
<line x1="370.2" y1="313.1" x2="370.2" y2="315.1" stroke="#444" stroke-width="0.8"/>
<line x1="294.1" y1="379.95" x2="294.1" y2="381.25" stroke="#444" stroke-width="0.6"/>
<line x1="294.1" y1="313.1" x2="294.1" y2="314.4" stroke="#444" stroke-width="0.6"/>
<line x1="313.12" y1="379.95" x2="313.12" y2="381.25" stroke="#444" stroke-width="0.6"/>
<line x1="313.12" y1="313.1" x2="313.12" y2="314.4" stroke="#444" stroke-width="0.6"/>
<line x1="332.15" y1="379.95" x2="332.15" y2="381.25" stroke="#444" stroke-width="0.6"/>
<line x1="332.15" y1="313.1" x2="332.15" y2="314.4" stroke="#444" stroke-width="0.6"/>
<line x1="351.18" y1="379.95" x2="351.18" y2="381.25" stroke="#444" stroke-width="0.6"/>
<line x1="351.18" y1="313.1" x2="351.18" y2="314.4" stroke="#444" stroke-width="0.6"/>
<line x1="370.2" y1="379.95" x2="370.2" y2="381.25" stroke="#444" stroke-width="0.6"/>
<line x1="370.2" y1="313.1" x2="370.2" y2="314.4" stroke="#444" stroke-width="0.6"/>
<text x="281.1" y="322.9" font-size="6.4" text-anchor="end" fill="#1c1c1c" textLength="3.6" lengthAdjust="spacingAndGlyphs" stroke="#1c1c1c" stroke-width="0.13">1</text>
<line x1="282.5" y1="320.6" x2="284.4" y2="320.6" stroke="#444" stroke-width="0.8"/>
<line x1="377.5" y1="320.6" x2="379.4" y2="320.6" stroke="#444" stroke-width="0.8"/>
<text x="281.1" y="338" font-size="6.4" text-anchor="end" fill="#1c1c1c" textLength="3.6" lengthAdjust="spacingAndGlyphs" stroke="#1c1c1c" stroke-width="0.13">0</text>
<line x1="282.5" y1="335.7" x2="284.4" y2="335.7" stroke="#444" stroke-width="0.8"/>
<line x1="377.5" y1="335.7" x2="379.4" y2="335.7" stroke="#444" stroke-width="0.8"/>
<text x="281.1" y="353.2" font-size="6.4" text-anchor="end" fill="#1c1c1c" textLength="5.75" lengthAdjust="spacingAndGlyphs" stroke="#1c1c1c" stroke-width="0.13">-1</text>
<line x1="282.5" y1="350.9" x2="284.4" y2="350.9" stroke="#444" stroke-width="0.8"/>
<line x1="377.5" y1="350.9" x2="379.4" y2="350.9" stroke="#444" stroke-width="0.8"/>
<text x="281.1" y="368.55" font-size="6.4" text-anchor="end" fill="#1c1c1c" textLength="5.75" lengthAdjust="spacingAndGlyphs" stroke="#1c1c1c" stroke-width="0.13">-2</text>
<line x1="282.5" y1="366.25" x2="284.4" y2="366.25" stroke="#444" stroke-width="0.8"/>
<line x1="377.5" y1="366.25" x2="379.4" y2="366.25" stroke="#444" stroke-width="0.8"/>
<line x1="283.3" y1="328.15" x2="284.4" y2="328.15" stroke="#444" stroke-width="0.6"/>
<line x1="378.3" y1="328.15" x2="379.4" y2="328.15" stroke="#444" stroke-width="0.6"/>
<line x1="283.3" y1="343.25" x2="284.4" y2="343.25" stroke="#444" stroke-width="0.6"/>
<line x1="378.3" y1="343.25" x2="379.4" y2="343.25" stroke="#444" stroke-width="0.6"/>
<line x1="283.3" y1="358.35" x2="284.4" y2="358.35" stroke="#444" stroke-width="0.6"/>
<line x1="378.3" y1="358.35" x2="379.4" y2="358.35" stroke="#444" stroke-width="0.6"/>
<line x1="283.3" y1="373.45" x2="284.4" y2="373.45" stroke="#444" stroke-width="0.6"/>
<line x1="378.3" y1="373.45" x2="379.4" y2="373.45" stroke="#444" stroke-width="0.6"/>
<text x="373.7" y="308" text-anchor="end" fill="#0c0c0c" stroke="#0c0c0c" stroke-width="0.15"><tspan font-size="15">D</tspan><tspan font-size="9.4">100-195</tspan></text>
<text x="371.2" y="375.5" font-size="12.1" text-anchor="end" fill="#0c0c0c" stroke="#0c0c0c" stroke-width="0.12">Kd = ND</text>
</g>
<g>
<polyline points="428.9,256.25 429.4,266.9 429.74,263.55 430.08,261.25 430.42,259.68 430.76,258.6 431.1,257.86 431.44,257.35 431.78,257.01 432.12,256.77 432.46,256.61" fill="none" stroke="#151515" stroke-width="0.8" stroke-linejoin="round"/>
<polyline points="434.5,256.25 435,273.1 435.34,267.8 435.68,264.17 436.02,261.67 436.36,259.97 436.7,258.8 437.04,258 437.38,257.45 437.72,257.07 438.06,256.81" fill="none" stroke="#151515" stroke-width="0.8" stroke-linejoin="round"/>
<polyline points="437.6,256.25 438.1,274.4 438.44,268.69 438.78,264.78 439.12,262.09 439.46,260.26 439.8,259 440.14,258.13 440.48,257.54 440.82,257.13 441.16,256.86" fill="none" stroke="#151515" stroke-width="0.8" stroke-linejoin="round"/>
<polyline points="442.6,256.25 443.1,268.1 443.44,264.37 443.78,261.82 444.12,260.07 444.46,258.86 444.8,258.04 445.14,257.48 445.48,257.09 445.82,256.83 446.16,256.65" fill="none" stroke="#151515" stroke-width="0.8" stroke-linejoin="round"/>
<polyline points="447.25,256.25 447.75,270 448.09,265.67 448.43,262.71 448.77,260.68 449.11,259.28 449.45,258.33 449.79,257.68 450.13,257.23 450.47,256.92 450.81,256.71" fill="none" stroke="#151515" stroke-width="0.8" stroke-linejoin="round"/>
<polyline points="452,256.25 452.5,268.1 452.84,264.37 453.18,261.82 453.52,260.07 453.86,258.86 454.2,258.04 454.54,257.48 454.88,257.09 455.22,256.83 455.56,256.65" fill="none" stroke="#151515" stroke-width="0.8" stroke-linejoin="round"/>
<polyline points="456.4,256.25 456.9,266.9 457.24,263.55 457.58,261.25 457.92,259.68 458.26,258.6 458.6,257.86 458.94,257.35 459.28,257.01 459.62,256.77 459.96,256.61" fill="none" stroke="#151515" stroke-width="0.8" stroke-linejoin="round"/>
<polyline points="461.4,256.25 461.9,274.4 462.24,268.69 462.58,264.78 462.92,262.09 463.26,260.26 463.6,259 463.94,258.13 464.28,257.54 464.62,257.13 464.96,256.86" fill="none" stroke="#151515" stroke-width="0.8" stroke-linejoin="round"/>
<polyline points="466.4,256.25 466.9,265.6 467.24,262.66 467.58,260.64 467.92,259.26 468.26,258.31 468.6,257.66 468.94,257.22 469.28,256.91 469.62,256.71 469.96,256.56" fill="none" stroke="#151515" stroke-width="0.8" stroke-linejoin="round"/>
<polyline points="470.75,256.25 471.25,262.5 471.59,260.53 471.93,259.19 472.27,258.26 472.61,257.63 472.95,257.2 473.29,256.9 473.63,256.69 473.97,256.55 474.31,256.46" fill="none" stroke="#151515" stroke-width="0.8" stroke-linejoin="round"/>
<polyline points="477,256.25 477.5,271.3 477.84,266.57 478.18,263.32 478.52,261.1 478.86,259.57 479.2,258.53 479.54,257.81 479.88,257.32 480.22,256.98 480.56,256.75" fill="none" stroke="#151515" stroke-width="0.8" stroke-linejoin="round"/>
<polyline points="480.75,256.25 481.25,263.8 481.59,261.42 481.93,259.8 482.27,258.68 482.61,257.92 482.95,257.39 483.29,257.03 483.63,256.79 483.97,256.62 484.31,256.5" fill="none" stroke="#151515" stroke-width="0.8" stroke-linejoin="round"/>
<polyline points="485.1,256.25 485.6,268 485.94,264.3 486.28,261.77 486.62,260.03 486.96,258.84 487.3,258.03 487.64,257.47 487.98,257.08 488.32,256.82 488.66,256.64" fill="none" stroke="#151515" stroke-width="0.8" stroke-linejoin="round"/>
<polyline points="490.1,256.25 490.6,263.8 490.94,261.42 491.28,259.8 491.62,258.68 491.96,257.92 492.3,257.39 492.64,257.03 492.98,256.79 493.32,256.62 493.66,256.5" fill="none" stroke="#151515" stroke-width="0.8" stroke-linejoin="round"/>
<polyline points="494.5,256.25 495,262.5 495.34,260.53 495.68,259.19 496.02,258.26 496.36,257.63 496.7,257.2 497.04,256.9 497.38,256.69 497.72,256.55 498.06,256.46" fill="none" stroke="#151515" stroke-width="0.8" stroke-linejoin="round"/>
<polyline points="498.9,256.25 499.4,268.8 499.74,264.85 500.08,262.15 500.42,260.29 500.76,259.02 501.1,258.15 501.44,257.55 501.78,257.14 502.12,256.86 502.46,256.67" fill="none" stroke="#151515" stroke-width="0.8" stroke-linejoin="round"/>
<polyline points="427.2,256.1 427.9,256.58 428.6,256.01 429.3,256.69 430,256.03 430.7,255.96 431.4,256.45 432.1,256.25 432.8,255.86 433.5,256.39 434.2,255.83 434.9,256.54 435.6,256.45 436.3,256.54 437,256.38 437.7,256.11 438.4,256.15 439.1,256.14 439.8,256.64 440.5,255.84 441.2,256.64 441.9,255.78 442.6,255.96 443.3,256.01 444,256.65 444.7,256.25 445.4,256.13 446.1,256.63 446.8,255.98 447.5,256.21 448.2,256.28 448.9,256.5 449.6,256.5 450.3,256.4 451,256.1 451.7,256.08 452.4,255.91 453.1,256.59 453.8,256.41 454.5,256.49 455.2,255.92 455.9,256.19 456.6,256.52 457.3,256.33 458,255.88 458.7,256.21 459.4,256.64 460.1,255.99 460.8,255.94 461.5,256.05 462.2,256.45 462.9,256.59 463.6,255.9 464.3,255.91 465,256 465.7,256.08 466.4,256.27 467.1,255.91 467.8,256.08 468.5,255.94 469.2,256.73 469.9,256.48 470.6,255.85 471.3,256.71 472,255.85 472.7,256.13 473.4,256.73 474.1,256.54 474.8,256.48 475.5,256.18 476.2,255.95 476.9,256.39 477.6,255.86 478.3,255.96 479,256.14 479.7,255.78 480.4,256.15 481.1,256.54 481.8,256.44 482.5,256.25 483.2,256.38 483.9,256.21 484.6,255.89 485.3,256.35 486,256.15 486.7,256.49 487.4,256.66 488.1,256.18 488.8,256.32 489.5,256.5 490.2,256.17 490.9,255.98 491.6,256.47 492.3,256.63 493,256.52 493.7,256.45 494.4,256.6 495.1,256.43 495.8,256.39 496.5,256.2 497.2,256.06 497.9,256.38 498.6,255.85 499.3,256.17 500,256.53 500.7,256.46 501.4,256.38" fill="none" stroke="#222" stroke-width="0.55" stroke-linejoin="round"/>
<line x1="432.4" y1="256.25" x2="434.7" y2="256.25" stroke="#111" stroke-width="1.5"/>
<line x1="435.5" y1="256.25" x2="437.8" y2="256.25" stroke="#111" stroke-width="1.5"/>
<line x1="440.5" y1="256.25" x2="442.8" y2="256.25" stroke="#111" stroke-width="1.5"/>
<line x1="445.15" y1="256.25" x2="447.45" y2="256.25" stroke="#111" stroke-width="1.5"/>
<line x1="449.9" y1="256.25" x2="452.2" y2="256.25" stroke="#111" stroke-width="1.5"/>
<line x1="454.3" y1="256.25" x2="456.6" y2="256.25" stroke="#111" stroke-width="1.5"/>
<line x1="459.3" y1="256.25" x2="461.6" y2="256.25" stroke="#111" stroke-width="1.5"/>
<line x1="464.3" y1="256.25" x2="466.6" y2="256.25" stroke="#111" stroke-width="1.5"/>
<line x1="468.65" y1="256.25" x2="470.95" y2="256.25" stroke="#111" stroke-width="1.5"/>
<line x1="474.9" y1="256.25" x2="477.2" y2="256.25" stroke="#111" stroke-width="1.5"/>
<line x1="478.65" y1="256.25" x2="480.95" y2="256.25" stroke="#111" stroke-width="1.5"/>
<line x1="483" y1="256.25" x2="485.3" y2="256.25" stroke="#111" stroke-width="1.5"/>
<line x1="488" y1="256.25" x2="490.3" y2="256.25" stroke="#111" stroke-width="1.5"/>
<line x1="492.4" y1="256.25" x2="494.7" y2="256.25" stroke="#111" stroke-width="1.5"/>
<line x1="496.8" y1="256.25" x2="499.1" y2="256.25" stroke="#111" stroke-width="1.5"/>
<line x1="498.5" y1="250.6" x2="498.5" y2="258" stroke="#2b2b2b" stroke-width="0.55"/>
<line x1="431.5" y1="253" x2="431.5" y2="259" stroke="#2b2b2b" stroke-width="0.55"/>
<line x1="428.3" y1="254" x2="428.3" y2="259" stroke="#2b2b2b" stroke-width="0.55"/>
<polyline points="432.4,362.5 432.84,361.84 433.44,360.93 434.16,359.86 434.94,358.69 435.74,357.51 436.5,356.4 437.24,355.33 438,354.23 438.77,353.11 439.55,352.01 440.33,350.93 441.1,349.9 441.87,348.91 442.63,347.94 443.4,347 444.17,346.09 444.93,345.22 445.7,344.4 446.47,343.63 447.23,342.9 448,342.21 448.77,341.56 449.53,340.92 450.3,340.3 451.07,339.69 451.83,339.11 452.6,338.54 453.37,338 454.13,337.49 454.9,337 455.67,336.55 456.43,336.13 457.19,335.73 457.96,335.35 458.73,334.98 459.5,334.6 460.28,334.21 461.06,333.83 461.85,333.44 462.64,333.07 463.42,332.72 464.2,332.4 464.97,332.11 465.74,331.84 466.51,331.59 467.27,331.36 468.03,331.13 468.8,330.9 469.51,330.68 470.16,330.47 470.81,330.27 471.53,330.06 472.37,329.84 473.4,329.6 474.67,329.32 476.13,329.02 477.71,328.7 479.36,328.38 481.01,328.08 482.6,327.8 484.15,327.55 485.73,327.3 487.31,327.07 488.87,326.86 490.37,326.67 491.8,326.5 493.22,326.35 494.67,326.23 496.08,326.12 497.35,326.03 498.42,325.96 499.2,325.9" fill="none" stroke="#2e2e2e" stroke-width="0.62" stroke-linejoin="round"/>
<rect x="431.6" y="370.1" width="2.4" height="2.4" fill="#0a0a0a"/>
<rect x="436" y="350.2" width="2.4" height="2.4" fill="#0a0a0a"/>
<rect x="440.4" y="346.1" width="2.4" height="2.4" fill="#0a0a0a"/>
<rect x="444.9" y="336.4" width="2.4" height="2.4" fill="#0a0a0a"/>
<rect x="449.3" y="339.1" width="2.4" height="2.4" fill="#0a0a0a"/>
<rect x="453.7" y="340" width="2.4" height="2.4" fill="#0a0a0a"/>
<rect x="458.2" y="331.6" width="2.4" height="2.4" fill="#0a0a0a"/>
<rect x="462.6" y="334.9" width="2.4" height="2.4" fill="#0a0a0a"/>
<rect x="467" y="333.4" width="2.4" height="2.4" fill="#0a0a0a"/>
<rect x="471.6" y="326" width="2.4" height="2.4" fill="#0a0a0a"/>
<rect x="476.1" y="331.7" width="2.4" height="2.4" fill="#0a0a0a"/>
<rect x="480.7" y="329" width="2.4" height="2.4" fill="#0a0a0a"/>
<rect x="485.1" y="329.9" width="2.4" height="2.4" fill="#0a0a0a"/>
<rect x="489.7" y="329" width="2.4" height="2.4" fill="#0a0a0a"/>
<rect x="494.3" y="326.6" width="2.4" height="2.4" fill="#0a0a0a"/>
<rect x="498.8" y="328" width="2.4" height="2.4" fill="#0a0a0a"/>
<rect x="418.5" y="244.6" width="95.25" height="136.65" fill="none" stroke="#6c6c6c" stroke-width="0.78"/>
<line x1="418.5" y1="312.9" x2="513.75" y2="312.9" stroke="#505050" stroke-width="0.95"/>
<text x="426.25" y="243" font-size="6.4" text-anchor="middle" fill="#1c1c1c" textLength="3.6" lengthAdjust="spacingAndGlyphs" stroke="#1c1c1c" stroke-width="0.13">0</text>
<line x1="426.25" y1="244.6" x2="426.25" y2="246.6" stroke="#444" stroke-width="0.8"/>
<text x="457.85" y="243" font-size="6.4" text-anchor="middle" fill="#1c1c1c" textLength="7.2" lengthAdjust="spacingAndGlyphs" stroke="#1c1c1c" stroke-width="0.13">20</text>
<line x1="457.85" y1="244.6" x2="457.85" y2="246.6" stroke="#444" stroke-width="0.8"/>
<text x="489.45" y="243" font-size="6.4" text-anchor="middle" fill="#1c1c1c" textLength="7.2" lengthAdjust="spacingAndGlyphs" stroke="#1c1c1c" stroke-width="0.13">40</text>
<line x1="489.45" y1="244.6" x2="489.45" y2="246.6" stroke="#444" stroke-width="0.8"/>
<line x1="426.25" y1="244.6" x2="426.25" y2="245.9" stroke="#444" stroke-width="0.6"/>
<line x1="442.05" y1="244.6" x2="442.05" y2="245.9" stroke="#444" stroke-width="0.6"/>
<line x1="457.85" y1="244.6" x2="457.85" y2="245.9" stroke="#444" stroke-width="0.6"/>
<line x1="473.65" y1="244.6" x2="473.65" y2="245.9" stroke="#444" stroke-width="0.6"/>
<line x1="489.45" y1="244.6" x2="489.45" y2="245.9" stroke="#444" stroke-width="0.6"/>
<line x1="505.25" y1="244.6" x2="505.25" y2="245.9" stroke="#444" stroke-width="0.6"/>
<text x="415.2" y="258.55" font-size="6.4" text-anchor="end" fill="#1c1c1c" textLength="12.6" lengthAdjust="spacingAndGlyphs" stroke="#1c1c1c" stroke-width="0.13">0.00</text>
<line x1="416.6" y1="256.25" x2="418.5" y2="256.25" stroke="#444" stroke-width="0.8"/>
<line x1="511.85" y1="256.25" x2="513.75" y2="256.25" stroke="#444" stroke-width="0.8"/>
<text x="415.2" y="281.3" font-size="6.4" text-anchor="end" fill="#1c1c1c" textLength="14.75" lengthAdjust="spacingAndGlyphs" stroke="#1c1c1c" stroke-width="0.13">-0.04</text>
<line x1="416.6" y1="279" x2="418.5" y2="279" stroke="#444" stroke-width="0.8"/>
<line x1="511.85" y1="279" x2="513.75" y2="279" stroke="#444" stroke-width="0.8"/>
<text x="415.2" y="304.05" font-size="6.4" text-anchor="end" fill="#1c1c1c" textLength="14.75" lengthAdjust="spacingAndGlyphs" stroke="#1c1c1c" stroke-width="0.13">-0.08</text>
<line x1="416.6" y1="301.75" x2="418.5" y2="301.75" stroke="#444" stroke-width="0.8"/>
<line x1="511.85" y1="301.75" x2="513.75" y2="301.75" stroke="#444" stroke-width="0.8"/>
<line x1="417.4" y1="267.62" x2="418.5" y2="267.62" stroke="#444" stroke-width="0.6"/>
<line x1="512.65" y1="267.62" x2="513.75" y2="267.62" stroke="#444" stroke-width="0.6"/>
<line x1="417.4" y1="290.38" x2="418.5" y2="290.38" stroke="#444" stroke-width="0.6"/>
<line x1="512.65" y1="290.38" x2="513.75" y2="290.38" stroke="#444" stroke-width="0.6"/>
<text x="431.5" y="389.75" font-size="6.4" text-anchor="middle" fill="#1c1c1c" textLength="9" lengthAdjust="spacingAndGlyphs" stroke="#1c1c1c" stroke-width="0.13">0.0</text>
<line x1="431.5" y1="379.25" x2="431.5" y2="381.55" stroke="#444" stroke-width="0.8"/>
<line x1="431.5" y1="312.9" x2="431.5" y2="314.9" stroke="#444" stroke-width="0.8"/>
<text x="494.4" y="389.75" font-size="6.4" text-anchor="middle" fill="#1c1c1c" textLength="9" lengthAdjust="spacingAndGlyphs" stroke="#1c1c1c" stroke-width="0.13">1.0</text>
<line x1="494.4" y1="379.25" x2="494.4" y2="381.55" stroke="#444" stroke-width="0.8"/>
<line x1="494.4" y1="312.9" x2="494.4" y2="314.9" stroke="#444" stroke-width="0.8"/>
<line x1="431.5" y1="379.95" x2="431.5" y2="381.25" stroke="#444" stroke-width="0.6"/>
<line x1="431.5" y1="312.9" x2="431.5" y2="314.2" stroke="#444" stroke-width="0.6"/>
<line x1="462.95" y1="379.95" x2="462.95" y2="381.25" stroke="#444" stroke-width="0.6"/>
<line x1="462.95" y1="312.9" x2="462.95" y2="314.2" stroke="#444" stroke-width="0.6"/>
<line x1="494.4" y1="379.95" x2="494.4" y2="381.25" stroke="#444" stroke-width="0.6"/>
<line x1="494.4" y1="312.9" x2="494.4" y2="314.2" stroke="#444" stroke-width="0.6"/>
<text x="415.2" y="323.9" font-size="6.4" text-anchor="end" fill="#1c1c1c" textLength="3.6" lengthAdjust="spacingAndGlyphs" stroke="#1c1c1c" stroke-width="0.13">0</text>
<line x1="416.6" y1="321.6" x2="418.5" y2="321.6" stroke="#444" stroke-width="0.8"/>
<line x1="511.85" y1="321.6" x2="513.75" y2="321.6" stroke="#444" stroke-width="0.8"/>
<text x="415.2" y="340.9" font-size="6.4" text-anchor="end" fill="#1c1c1c" textLength="5.75" lengthAdjust="spacingAndGlyphs" stroke="#1c1c1c" stroke-width="0.13">-2</text>
<line x1="416.6" y1="338.6" x2="418.5" y2="338.6" stroke="#444" stroke-width="0.8"/>
<line x1="511.85" y1="338.6" x2="513.75" y2="338.6" stroke="#444" stroke-width="0.8"/>
<text x="415.2" y="357.9" font-size="6.4" text-anchor="end" fill="#1c1c1c" textLength="5.75" lengthAdjust="spacingAndGlyphs" stroke="#1c1c1c" stroke-width="0.13">-4</text>
<line x1="416.6" y1="355.6" x2="418.5" y2="355.6" stroke="#444" stroke-width="0.8"/>
<line x1="511.85" y1="355.6" x2="513.75" y2="355.6" stroke="#444" stroke-width="0.8"/>
<text x="415.2" y="375.05" font-size="6.4" text-anchor="end" fill="#1c1c1c" textLength="5.75" lengthAdjust="spacingAndGlyphs" stroke="#1c1c1c" stroke-width="0.13">-6</text>
<line x1="416.6" y1="372.75" x2="418.5" y2="372.75" stroke="#444" stroke-width="0.8"/>
<line x1="511.85" y1="372.75" x2="513.75" y2="372.75" stroke="#444" stroke-width="0.8"/>
<line x1="417.4" y1="330.1" x2="418.5" y2="330.1" stroke="#444" stroke-width="0.6"/>
<line x1="512.65" y1="330.1" x2="513.75" y2="330.1" stroke="#444" stroke-width="0.6"/>
<line x1="417.4" y1="347.1" x2="418.5" y2="347.1" stroke="#444" stroke-width="0.6"/>
<line x1="512.65" y1="347.1" x2="513.75" y2="347.1" stroke="#444" stroke-width="0.6"/>
<line x1="417.4" y1="364.1" x2="418.5" y2="364.1" stroke="#444" stroke-width="0.6"/>
<line x1="512.65" y1="364.1" x2="513.75" y2="364.1" stroke="#444" stroke-width="0.6"/>
<text x="508.05" y="307.8" text-anchor="end" fill="#0c0c0c" stroke="#0c0c0c" stroke-width="0.15"><tspan font-size="15">D</tspan><tspan font-size="9.4">100-205</tspan></text>
<text x="506" y="375.5" font-size="12.1" text-anchor="end" fill="#0c0c0c" stroke="#0c0c0c" stroke-width="0.12">Kd = ND</text>
</g>
<g>
<rect x="8.5" y="443.6" width="509.75" height="127.2" fill="none" stroke="#444" stroke-width="1"/>
<line x1="8.5" y1="482.4" x2="518.25" y2="482.4" stroke="#444" stroke-width="1"/>
<line x1="8.5" y1="504.8" x2="518.25" y2="504.8" stroke="#444" stroke-width="1"/>
<line x1="8.5" y1="527.5" x2="518.25" y2="527.5" stroke="#444" stroke-width="1"/>
<line x1="8.5" y1="549.5" x2="518.25" y2="549.5" stroke="#444" stroke-width="1"/>
<line x1="68" y1="462.5" x2="518.25" y2="462.5" stroke="#444" stroke-width="1"/>
<line x1="68" y1="443.6" x2="68" y2="570.8" stroke="#444" stroke-width="1"/>
<line x1="292" y1="443.6" x2="292" y2="570.8" stroke="#444" stroke-width="1"/>
<line x1="122" y1="462.5" x2="122" y2="570.8" stroke="#444" stroke-width="1"/>
<line x1="178.75" y1="462.5" x2="178.75" y2="570.8" stroke="#444" stroke-width="1"/>
<line x1="235.5" y1="462.5" x2="235.5" y2="570.8" stroke="#444" stroke-width="1"/>
<line x1="348.25" y1="462.5" x2="348.25" y2="570.8" stroke="#444" stroke-width="1"/>
<line x1="405.5" y1="462.5" x2="405.5" y2="570.8" stroke="#444" stroke-width="1"/>
<line x1="462" y1="462.5" x2="462" y2="570.8" stroke="#444" stroke-width="1"/>
<text x="179.4" y="457.1" font-size="10.6" text-anchor="middle" font-weight="bold" fill="#000" stroke="#000" stroke-width="0.12">VEGFR-2D23Fc</text>
<text x="407.32" y="457.1" font-size="10.6" text-anchor="middle" font-weight="bold" fill="#000" stroke="#000" stroke-width="0.12">VEGFR-3D1-7</text>
<text x="95" y="476" text-anchor="middle" font-weight="bold" fill="#000" stroke="#000" stroke-width="0.12"><tspan font-size="10.5">D</tspan><tspan font-size="7" dy="1.9">89-195</tspan></text>
<text x="150.38" y="476" text-anchor="middle" font-weight="bold" fill="#000" stroke="#000" stroke-width="0.12"><tspan font-size="10.5">D</tspan><tspan font-size="7" dy="1.9">92-195</tspan></text>
<text x="207.12" y="476" text-anchor="middle" font-weight="bold" fill="#000" stroke="#000" stroke-width="0.12"><tspan font-size="10.5">D</tspan><tspan font-size="7" dy="1.9">100-195</tspan></text>
<text x="263.75" y="476" text-anchor="middle" font-weight="bold" fill="#000" stroke="#000" stroke-width="0.12"><tspan font-size="10.5">D</tspan><tspan font-size="7" dy="1.9">100-205</tspan></text>
<text x="320.12" y="476" text-anchor="middle" font-weight="bold" fill="#000" stroke="#000" stroke-width="0.12"><tspan font-size="10.5">D</tspan><tspan font-size="7" dy="1.9">89-195</tspan></text>
<text x="376.88" y="476" text-anchor="middle" font-weight="bold" fill="#000" stroke="#000" stroke-width="0.12"><tspan font-size="10.5">D</tspan><tspan font-size="7" dy="1.9">92-195</tspan></text>
<text x="433.75" y="476" text-anchor="middle" font-weight="bold" fill="#000" stroke="#000" stroke-width="0.12"><tspan font-size="10.5">D</tspan><tspan font-size="7" dy="1.9">100-195</tspan></text>
<text x="490.12" y="476" text-anchor="middle" font-weight="bold" fill="#000" stroke="#000" stroke-width="0.12"><tspan font-size="10.5">D</tspan><tspan font-size="7" dy="1.9">100-205</tspan></text>
<text x="95" y="496.7" font-size="9.3" text-anchor="middle" font-weight="bold" fill="#000" stroke="#000" stroke-width="0.12">-6.3 <tspan font-weight="normal" font-size="8.6">±</tspan> 0.06</text>
<text x="150.38" y="496.7" font-size="9.3" text-anchor="middle" font-weight="bold" fill="#000" stroke="#000" stroke-width="0.12">-5.3 <tspan font-weight="normal" font-size="8.6">±</tspan> 0.2</text>
<text x="207.12" y="496.7" font-size="9.3" text-anchor="middle" font-weight="bold" fill="#000" stroke="#000" stroke-width="0.12">-2.7 <tspan font-weight="normal" font-size="8.6">±</tspan> 0.03</text>
<text x="263.75" y="496.7" font-size="9.3" text-anchor="middle" font-weight="bold" fill="#000" stroke="#000" stroke-width="0.12">-3.7 <tspan font-weight="normal" font-size="8.6">±</tspan> 0.05</text>
<text x="320.12" y="496.7" font-size="9.3" text-anchor="middle" font-weight="bold" fill="#000" stroke="#000" stroke-width="0.12">-7.5 <tspan font-weight="normal" font-size="8.6">±</tspan> 0.1</text>
<text x="376.88" y="496.7" font-size="9.3" text-anchor="middle" font-weight="bold" fill="#000" stroke="#000" stroke-width="0.12">-7.9 <tspan font-weight="normal" font-size="8.6">±</tspan> 0.2</text>
<text x="433.75" y="496.55" font-size="8.3" text-anchor="middle" font-weight="bold" fill="#000" stroke="#000" stroke-width="0.12">ND</text>
<text x="490.12" y="496.55" font-size="8.3" text-anchor="middle" font-weight="bold" fill="#000" stroke="#000" stroke-width="0.12">ND</text>
<text x="95" y="519.4" font-size="9.3" text-anchor="middle" font-weight="bold" fill="#000" stroke="#000" stroke-width="0.12">16.6</text>
<text x="150.38" y="519.4" font-size="9.3" text-anchor="middle" font-weight="bold" fill="#000" stroke="#000" stroke-width="0.12">16.2</text>
<text x="207.12" y="519.4" font-size="9.3" text-anchor="middle" font-weight="bold" fill="#000" stroke="#000" stroke-width="0.12">27.5</text>
<text x="263.75" y="519.4" font-size="9.3" text-anchor="middle" font-weight="bold" fill="#000" stroke="#000" stroke-width="0.12">20.2</text>
<text x="320.12" y="519.4" font-size="9.3" text-anchor="middle" font-weight="bold" fill="#000" stroke="#000" stroke-width="0.12">6.6</text>
<text x="376.88" y="519.4" font-size="9.3" text-anchor="middle" font-weight="bold" fill="#000" stroke="#000" stroke-width="0.12">4.6</text>
<text x="433.75" y="519.25" font-size="8.3" text-anchor="middle" font-weight="bold" fill="#000" stroke="#000" stroke-width="0.12">ND</text>
<text x="490.12" y="519.25" font-size="8.3" text-anchor="middle" font-weight="bold" fill="#000" stroke="#000" stroke-width="0.12">ND</text>
<text x="95" y="541.3" font-size="9.3" text-anchor="middle" font-weight="bold" fill="#000" stroke="#000" stroke-width="0.12">6.0 <tspan font-weight="normal" font-size="8.6">±</tspan>2.3</text>
<text x="150.38" y="541.3" font-size="9.3" text-anchor="middle" font-weight="bold" fill="#000" stroke="#000" stroke-width="0.12">35 <tspan font-weight="normal" font-size="8.6">±</tspan> 14</text>
<text x="207.12" y="541.3" font-size="9.3" text-anchor="middle" font-weight="bold" fill="#000" stroke="#000" stroke-width="0.12">11 <tspan font-weight="normal" font-size="8.6">±</tspan> 2.9</text>
<text x="263.75" y="541.3" font-size="9.3" text-anchor="middle" font-weight="bold" fill="#000" stroke="#000" stroke-width="0.12">76 <tspan font-weight="normal" font-size="8.6">±</tspan> 14</text>
<text x="320.12" y="541.3" font-size="9.3" text-anchor="middle" font-weight="bold" fill="#000" stroke="#000" stroke-width="0.12">120 <tspan font-weight="normal" font-size="8.6">±</tspan> 16</text>
<text x="376.88" y="541.3" font-size="9.3" text-anchor="middle" font-weight="bold" fill="#000" stroke="#000" stroke-width="0.12">150 <tspan font-weight="normal" font-size="8.6">±</tspan> 35</text>
<text x="433.75" y="541.15" font-size="8.3" text-anchor="middle" font-weight="bold" fill="#000" stroke="#000" stroke-width="0.12">ND</text>
<text x="490.12" y="541.15" font-size="8.3" text-anchor="middle" font-weight="bold" fill="#000" stroke="#000" stroke-width="0.12">ND</text>
<text x="95" y="562.8" font-size="9.3" text-anchor="middle" font-weight="bold" fill="#000" stroke="#000" stroke-width="0.12">1.1 <tspan font-weight="normal" font-size="8.6">±</tspan> 0.01</text>
<text x="150.38" y="562.8" font-size="9.3" text-anchor="middle" font-weight="bold" fill="#000" stroke="#000" stroke-width="0.12">0.95 <tspan font-weight="normal" font-size="8.6">±</tspan> 0.02</text>
<text x="207.12" y="562.8" font-size="9.3" text-anchor="middle" font-weight="bold" fill="#000" stroke="#000" stroke-width="0.12">1.2 <tspan font-weight="normal" font-size="8.6">±</tspan> 0.01</text>
<text x="263.75" y="562.8" font-size="9.3" text-anchor="middle" font-weight="bold" fill="#000" stroke="#000" stroke-width="0.12">1.6 <tspan font-weight="normal" font-size="8.6">±</tspan> 0.02</text>
<text x="320.12" y="562.8" font-size="9.3" text-anchor="middle" font-weight="bold" fill="#000" stroke="#000" stroke-width="0.12">0.94 <tspan font-weight="normal" font-size="8.6">±</tspan> 0.01</text>
<text x="376.88" y="562.8" font-size="9.3" text-anchor="middle" font-weight="bold" fill="#000" stroke="#000" stroke-width="0.12">0.86 <tspan font-weight="normal" font-size="8.6">±</tspan> 0.02</text>
<text x="433.75" y="562.65" font-size="8.3" text-anchor="middle" font-weight="bold" fill="#000" stroke="#000" stroke-width="0.12">ND</text>
<text x="490.12" y="562.65" font-size="8.3" text-anchor="middle" font-weight="bold" fill="#000" stroke="#000" stroke-width="0.12">ND</text>
<text x="38.25" y="491" font-size="9.1" text-anchor="middle" font-weight="bold" fill="#000" stroke="#000" stroke-width="0.12"><tspan font-size="7.4">Δ</tspan><tspan dx="0.8">H</tspan></text>
<text x="38.25" y="502" font-size="9.1" text-anchor="middle" font-weight="bold" fill="#000" stroke="#000" stroke-width="0.12">(kcal/mol)</text>
<text x="38.25" y="513.6" font-size="9.1" text-anchor="middle" font-weight="bold" fill="#000" stroke="#000" stroke-width="0.12"><tspan font-size="7.4">Δ</tspan><tspan dx="0.8">S</tspan></text>
<text x="38.25" y="524.4" font-size="9.1" text-anchor="middle" font-weight="bold" fill="#000" stroke="#000" stroke-width="0.12">(cal/molK)</text>
<text x="38.25" y="541.4" text-anchor="middle" font-weight="bold" fill="#000" stroke="#000" stroke-width="0.12"><tspan font-size="9.1">K</tspan><tspan font-size="5.6" dy="1.2">D</tspan><tspan font-size="9.1" dy="-1.2"> (nM)</tspan></text>
<text x="38.25" y="563.2" font-size="9.1" text-anchor="middle" font-weight="bold" fill="#000" stroke="#000" stroke-width="0.12">n</text>
</g>
</svg>
</body></html>
